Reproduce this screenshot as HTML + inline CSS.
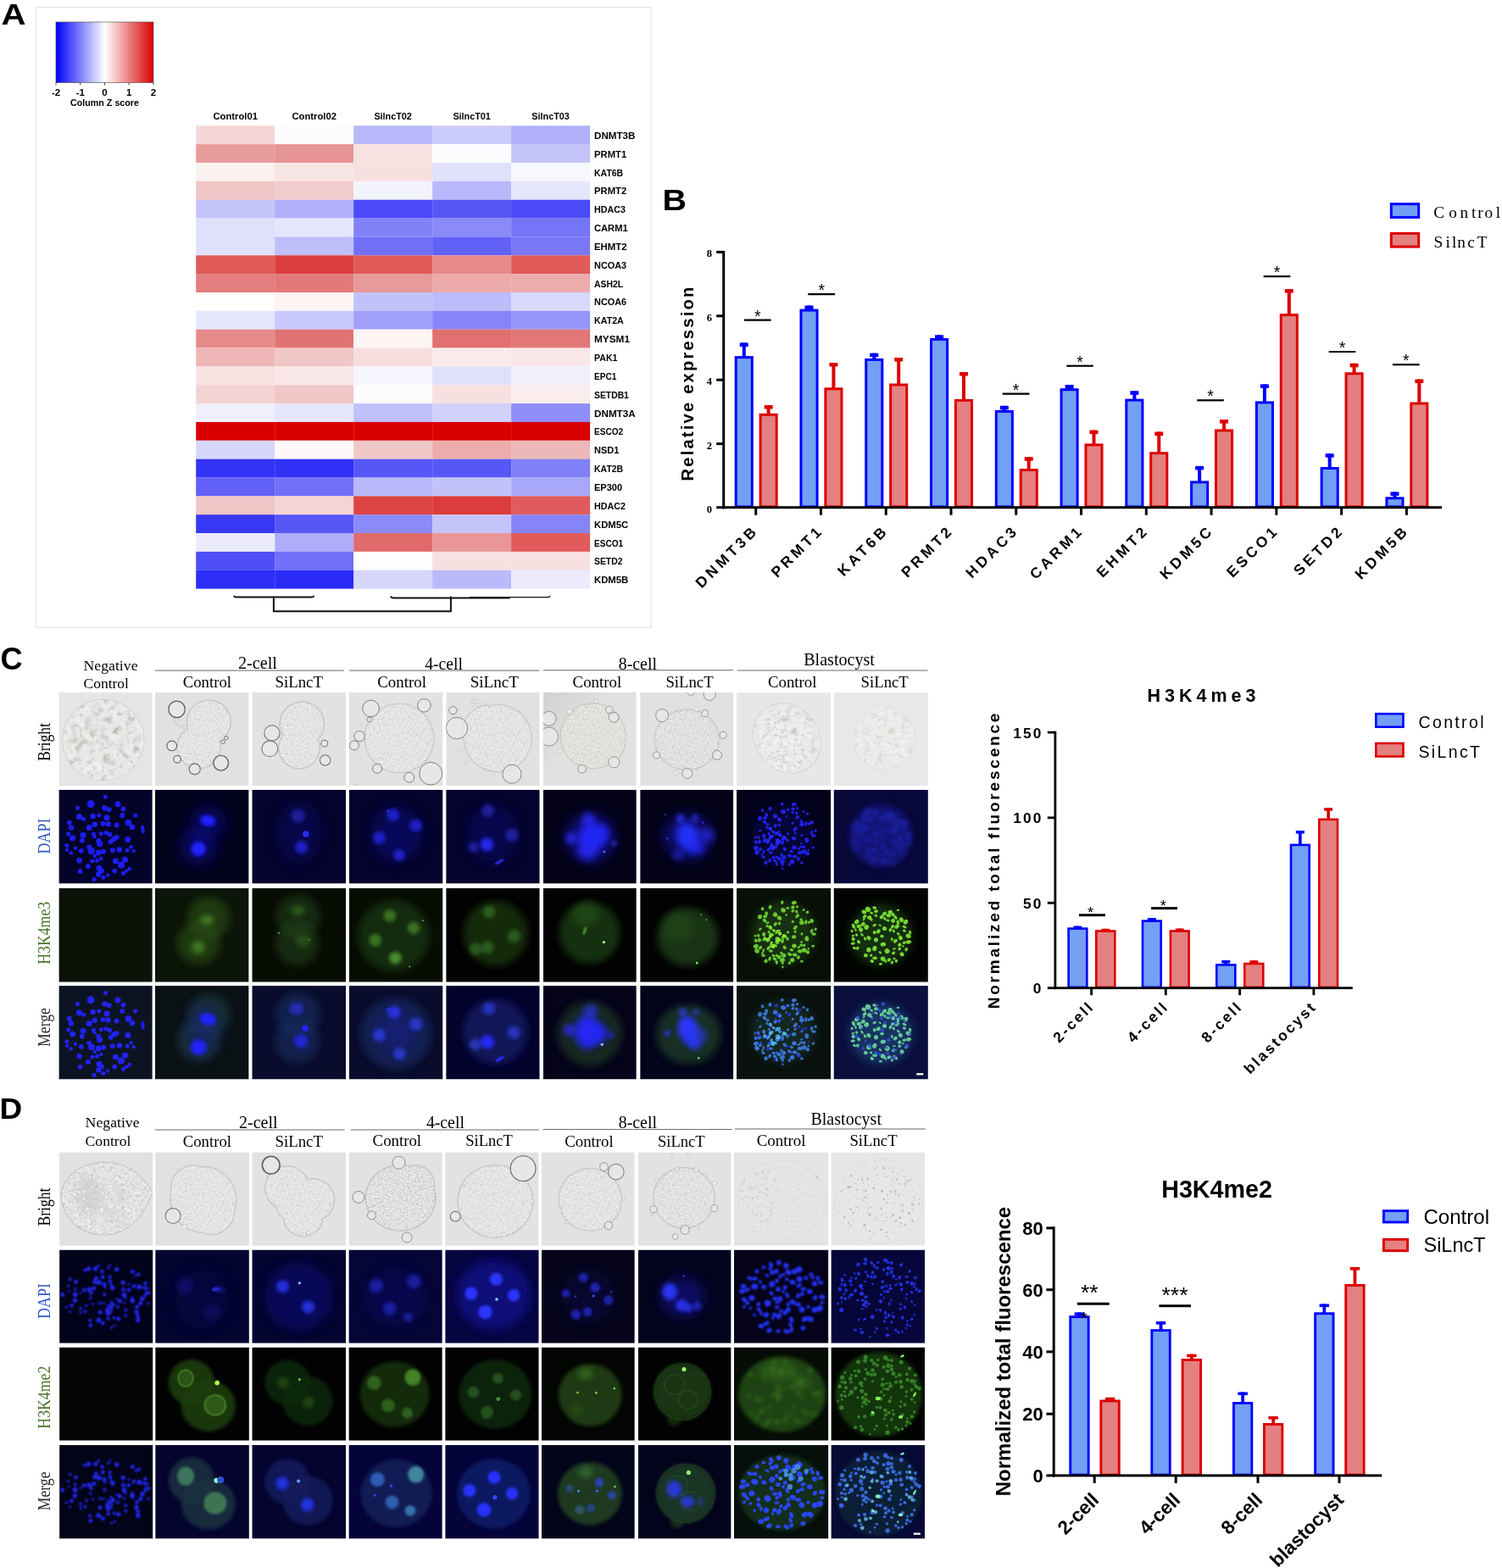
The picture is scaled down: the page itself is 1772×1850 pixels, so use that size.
<!DOCTYPE html>
<html lang="en"><head><meta charset="utf-8"><title>Figure</title>
<style>
html,body{margin:0;padding:0;background:#fff;}
body{width:1772px;height:1850px;overflow:hidden;}
svg{display:block;}
.sans{font-family:"Liberation Sans","DejaVu Sans",sans-serif;}
.serif{font-family:"Liberation Serif","DejaVu Serif",serif;}
.cal{font-family:"Liberation Sans","DejaVu Sans",sans-serif;font-weight:bold;}
</style></head><body>
<svg width="1772" height="1850" viewBox="0 0 1772 1850">
<defs>
<linearGradient id="cbar" x1="0" x2="1" y1="0" y2="0">
<stop offset="0" stop-color="#0000ff"/><stop offset="0.5" stop-color="#ffffff"/><stop offset="1" stop-color="#d90000"/>
</linearGradient>

<filter id="b1" x="-60%" y="-60%" width="220%" height="220%"><feGaussianBlur stdDeviation="0.6"/></filter>
<filter id="b1.2" x="-60%" y="-60%" width="220%" height="220%"><feGaussianBlur stdDeviation="1.2"/></filter>
<filter id="b1.5" x="-60%" y="-60%" width="220%" height="220%"><feGaussianBlur stdDeviation="1.5"/></filter>
<filter id="b2" x="-60%" y="-60%" width="220%" height="220%"><feGaussianBlur stdDeviation="2.0"/></filter>
<filter id="b2.5" x="-60%" y="-60%" width="220%" height="220%"><feGaussianBlur stdDeviation="2.5"/></filter>
<filter id="b3" x="-60%" y="-60%" width="220%" height="220%"><feGaussianBlur stdDeviation="3.0"/></filter>
<filter id="b4" x="-60%" y="-60%" width="220%" height="220%"><feGaussianBlur stdDeviation="4.0"/></filter>
<filter id="b5" x="-60%" y="-60%" width="220%" height="220%"><feGaussianBlur stdDeviation="5.0"/></filter>
<filter id="b6" x="-60%" y="-60%" width="220%" height="220%"><feGaussianBlur stdDeviation="6.0"/></filter>
<filter id="b7" x="-60%" y="-60%" width="220%" height="220%"><feGaussianBlur stdDeviation="7.0"/></filter>
<filter id="b8" x="-60%" y="-60%" width="220%" height="220%"><feGaussianBlur stdDeviation="8.0"/></filter>

<linearGradient id="bgc5" x1="0" y1="0" x2="0.45" y2="0.35"><stop offset="0" stop-color="#d0d0d0"/><stop offset="0.55" stop-color="#d9d9d9"/><stop offset="1" stop-color="#e1e1e1"/></linearGradient>
<filter id="tx1" x="0" y="0" width="100%" height="100%" color-interpolation-filters="sRGB"><feTurbulence type="fractalNoise" baseFrequency="0.42" numOctaves="2" seed="3" result="n"/><feColorMatrix in="n" type="matrix" values="0 0 0 0 0.7  0 0 0 0 0.7  0 0 0 0 0.7  1.7 0 0 0 -0.78" result="d"/><feColorMatrix in="n" type="matrix" values="0 0 0 0 0.96  0 0 0 0 0.96  0 0 0 0 0.96  0 2.2 0 0 -0.95" result="l"/><feMerge><feMergeNode in="d"/><feMergeNode in="l"/></feMerge><feComposite operator="in" in2="SourceGraphic"/></filter>
<filter id="tx2" x="0" y="0" width="100%" height="100%" color-interpolation-filters="sRGB"><feTurbulence type="fractalNoise" baseFrequency="0.14" numOctaves="4" seed="8" result="n"/><feColorMatrix in="n" type="matrix" values="0 0 0 0 0.64  0 0 0 0 0.65  0 0 0 0 0.62  3.0 0 0 0 -1.6" result="d"/><feColorMatrix in="n" type="matrix" values="0 0 0 0 0.97  0 0 0 0 0.97  0 0 0 0 0.97  0 2.4 0 0 -1.1" result="l"/><feMerge><feMergeNode in="d"/><feMergeNode in="l"/></feMerge><feComposite operator="in" in2="SourceGraphic"/></filter>


<filter id="tx3" x="0" y="0" width="100%" height="100%" color-interpolation-filters="sRGB"><feTurbulence type="fractalNoise" baseFrequency="0.3" numOctaves="3" seed="21" result="n"/><feColorMatrix in="n" type="matrix" values="0 0 0 0 0.68  0 0 0 0 0.68  0 0 0 0 0.68  1.8 0 0 0 -0.85" result="d"/><feColorMatrix in="n" type="matrix" values="0 0 0 0 0.97  0 0 0 0 0.97  0 0 0 0 0.97  0 2.0 0 0 -0.9" result="l"/><feMerge><feMergeNode in="d"/><feMergeNode in="l"/></feMerge><feComposite operator="in" in2="SourceGraphic"/></filter>
<filter id="tx4" x="0" y="0" width="100%" height="100%" color-interpolation-filters="sRGB"><feTurbulence type="fractalNoise" baseFrequency="0.5" numOctaves="2" seed="5" result="n"/><feColorMatrix in="n" type="matrix" values="0 0 0 0 0.62  0 0 0 0 0.62  0 0 0 0 0.62  2.2 0 0 0 -0.95" result="d"/><feColorMatrix in="n" type="matrix" values="0 0 0 0 0.97  0 0 0 0 0.97  0 0 0 0 0.97  0 2.4 0 0 -1.05" result="l"/><feMerge><feMergeNode in="d"/><feMergeNode in="l"/></feMerge><feComposite operator="in" in2="SourceGraphic"/></filter>

</defs>
<rect width="1772" height="1850" fill="#fff"/>
<text transform="translate(1.5,28.9) scale(1.13,1)" class="sans" font-weight="bold" font-size="35.6">A</text>
<text transform="translate(781.6,248.1) scale(1.12,1)" class="sans" font-weight="bold" font-size="35.2">B</text>
<g id="panelA">
<rect x="42.6" y="8.5" width="725.4" height="732" fill="#fff" stroke="#e2e2e2" stroke-width="1"/>
<rect x="66" y="26" width="115" height="71.5" fill="url(#cbar)"/>
<rect x="66" y="26" width="115" height="71.5" fill="none" stroke="#444" stroke-width="0.6"/>
<line x1="66.00" y1="97.5" x2="66.00" y2="100.5" stroke="#222" stroke-width="0.8"/>
<text x="66.00" y="112.6" class="cal" font-size="11.5" text-anchor="middle">-2</text>
<line x1="94.75" y1="97.5" x2="94.75" y2="100.5" stroke="#222" stroke-width="0.8"/>
<text x="94.75" y="112.6" class="cal" font-size="11.5" text-anchor="middle">-1</text>
<line x1="123.50" y1="97.5" x2="123.50" y2="100.5" stroke="#222" stroke-width="0.8"/>
<text x="123.50" y="112.6" class="cal" font-size="11.5" text-anchor="middle">0</text>
<line x1="152.25" y1="97.5" x2="152.25" y2="100.5" stroke="#222" stroke-width="0.8"/>
<text x="152.25" y="112.6" class="cal" font-size="11.5" text-anchor="middle">1</text>
<line x1="181.00" y1="97.5" x2="181.00" y2="100.5" stroke="#222" stroke-width="0.8"/>
<text x="181.00" y="112.6" class="cal" font-size="11.5" text-anchor="middle">2</text>
<text x="123.5" y="125.2" class="cal" font-size="11.5" text-anchor="middle" textLength="81" lengthAdjust="spacingAndGlyphs">Column Z score</text>
<rect x="231.20" y="148.30" width="93.03" height="21.90" fill="rgb(245, 214, 214)"/>
<rect x="324.18" y="148.30" width="93.03" height="21.90" fill="rgb(252, 252, 254)"/>
<rect x="417.16" y="148.30" width="93.03" height="21.90" fill="rgb(184, 184, 250)"/>
<rect x="510.14" y="148.30" width="93.03" height="21.90" fill="rgb(204, 204, 250)"/>
<rect x="603.12" y="148.30" width="93.03" height="21.90" fill="rgb(176, 176, 250)"/>
<text x="701.0" y="163.83" class="cal" font-size="11.7" textLength="48.4" lengthAdjust="spacingAndGlyphs">DNMT3B</text>
<rect x="231.20" y="170.15" width="93.03" height="21.90" fill="rgb(232, 155, 155)"/>
<rect x="324.18" y="170.15" width="93.03" height="21.90" fill="rgb(230, 148, 148)"/>
<rect x="417.16" y="170.15" width="93.03" height="21.90" fill="rgb(247, 225, 225)"/>
<rect x="510.14" y="170.15" width="93.03" height="21.90" fill="rgb(251, 251, 254)"/>
<rect x="603.12" y="170.15" width="93.03" height="21.90" fill="rgb(196, 196, 250)"/>
<text x="701.0" y="185.68" class="cal" font-size="11.7" textLength="38.2" lengthAdjust="spacingAndGlyphs">PRMT1</text>
<rect x="231.20" y="192.00" width="93.03" height="21.90" fill="rgb(252, 242, 240)"/>
<rect x="324.18" y="192.00" width="93.03" height="21.90" fill="rgb(248, 229, 229)"/>
<rect x="417.16" y="192.00" width="93.03" height="21.90" fill="rgb(247, 224, 224)"/>
<rect x="510.14" y="192.00" width="93.03" height="21.90" fill="rgb(225, 225, 252)"/>
<rect x="603.12" y="192.00" width="93.03" height="21.90" fill="rgb(247, 247, 254)"/>
<text x="701.0" y="207.53" class="cal" font-size="11.7" textLength="34.2" lengthAdjust="spacingAndGlyphs">KAT6B</text>
<rect x="231.20" y="213.86" width="93.03" height="21.90" fill="rgb(240, 197, 197)"/>
<rect x="324.18" y="213.86" width="93.03" height="21.90" fill="rgb(241, 204, 204)"/>
<rect x="417.16" y="213.86" width="93.03" height="21.90" fill="rgb(243, 243, 254)"/>
<rect x="510.14" y="213.86" width="93.03" height="21.90" fill="rgb(184, 184, 250)"/>
<rect x="603.12" y="213.86" width="93.03" height="21.90" fill="rgb(230, 230, 252)"/>
<text x="701.0" y="229.38" class="cal" font-size="11.7" textLength="38.2" lengthAdjust="spacingAndGlyphs">PRMT2</text>
<rect x="231.20" y="235.71" width="93.03" height="21.90" fill="rgb(196, 196, 250)"/>
<rect x="324.18" y="235.71" width="93.03" height="21.90" fill="rgb(176, 176, 250)"/>
<rect x="417.16" y="235.71" width="93.03" height="21.90" fill="rgb(74, 74, 247)"/>
<rect x="510.14" y="235.71" width="93.03" height="21.90" fill="rgb(87, 87, 248)"/>
<rect x="603.12" y="235.71" width="93.03" height="21.90" fill="rgb(74, 74, 247)"/>
<text x="701.0" y="251.23" class="cal" font-size="11.7" textLength="36.9" lengthAdjust="spacingAndGlyphs">HDAC3</text>
<rect x="231.20" y="257.56" width="93.03" height="21.90" fill="rgb(224, 224, 252)"/>
<rect x="324.18" y="257.56" width="93.03" height="21.90" fill="rgb(229, 229, 252)"/>
<rect x="417.16" y="257.56" width="93.03" height="21.90" fill="rgb(130, 130, 248)"/>
<rect x="510.14" y="257.56" width="93.03" height="21.90" fill="rgb(138, 138, 248)"/>
<rect x="603.12" y="257.56" width="93.03" height="21.90" fill="rgb(117, 117, 248)"/>
<text x="701.0" y="273.09" class="cal" font-size="11.7" textLength="39.6" lengthAdjust="spacingAndGlyphs">CARM1</text>
<rect x="231.20" y="279.41" width="93.03" height="21.90" fill="rgb(224, 224, 252)"/>
<rect x="324.18" y="279.41" width="93.03" height="21.90" fill="rgb(190, 190, 250)"/>
<rect x="417.16" y="279.41" width="93.03" height="21.90" fill="rgb(112, 112, 248)"/>
<rect x="510.14" y="279.41" width="93.03" height="21.90" fill="rgb(97, 97, 248)"/>
<rect x="603.12" y="279.41" width="93.03" height="21.90" fill="rgb(120, 120, 248)"/>
<text x="701.0" y="294.94" class="cal" font-size="11.7" textLength="38.6" lengthAdjust="spacingAndGlyphs">EHMT2</text>
<rect x="231.20" y="301.26" width="93.03" height="21.90" fill="rgb(224, 90, 90)"/>
<rect x="324.18" y="301.26" width="93.03" height="21.90" fill="rgb(220, 62, 62)"/>
<rect x="417.16" y="301.26" width="93.03" height="21.90" fill="rgb(224, 90, 90)"/>
<rect x="510.14" y="301.26" width="93.03" height="21.90" fill="rgb(230, 138, 138)"/>
<rect x="603.12" y="301.26" width="93.03" height="21.90" fill="rgb(224, 90, 90)"/>
<text x="701.0" y="316.79" class="cal" font-size="11.7" textLength="38.2" lengthAdjust="spacingAndGlyphs">NCOA3</text>
<rect x="231.20" y="323.12" width="93.03" height="21.90" fill="rgb(228, 125, 125)"/>
<rect x="324.18" y="323.12" width="93.03" height="21.90" fill="rgb(227, 120, 120)"/>
<rect x="417.16" y="323.12" width="93.03" height="21.90" fill="rgb(232, 153, 153)"/>
<rect x="510.14" y="323.12" width="93.03" height="21.90" fill="rgb(236, 170, 170)"/>
<rect x="603.12" y="323.12" width="93.03" height="21.90" fill="rgb(237, 172, 172)"/>
<text x="701.0" y="338.64" class="cal" font-size="11.7" textLength="34.2" lengthAdjust="spacingAndGlyphs">ASH2L</text>
<rect x="231.20" y="344.97" width="93.03" height="21.90" fill="rgb(254, 252, 252)"/>
<rect x="324.18" y="344.97" width="93.03" height="21.90" fill="rgb(253, 243, 243)"/>
<rect x="417.16" y="344.97" width="93.03" height="21.90" fill="rgb(194, 194, 250)"/>
<rect x="510.14" y="344.97" width="93.03" height="21.90" fill="rgb(188, 188, 250)"/>
<rect x="603.12" y="344.97" width="93.03" height="21.90" fill="rgb(216, 216, 252)"/>
<text x="701.0" y="360.49" class="cal" font-size="11.7" textLength="38.2" lengthAdjust="spacingAndGlyphs">NCOA6</text>
<rect x="231.20" y="366.82" width="93.03" height="21.90" fill="rgb(230, 230, 252)"/>
<rect x="324.18" y="366.82" width="93.03" height="21.90" fill="rgb(200, 200, 250)"/>
<rect x="417.16" y="366.82" width="93.03" height="21.90" fill="rgb(160, 160, 250)"/>
<rect x="510.14" y="366.82" width="93.03" height="21.90" fill="rgb(133, 133, 248)"/>
<rect x="603.12" y="366.82" width="93.03" height="21.90" fill="rgb(150, 150, 250)"/>
<text x="701.0" y="382.35" class="cal" font-size="11.7" textLength="34.8" lengthAdjust="spacingAndGlyphs">KAT2A</text>
<rect x="231.20" y="388.67" width="93.03" height="21.90" fill="rgb(230, 138, 138)"/>
<rect x="324.18" y="388.67" width="93.03" height="21.90" fill="rgb(226, 115, 115)"/>
<rect x="417.16" y="388.67" width="93.03" height="21.90" fill="rgb(253, 244, 244)"/>
<rect x="510.14" y="388.67" width="93.03" height="21.90" fill="rgb(226, 112, 112)"/>
<rect x="603.12" y="388.67" width="93.03" height="21.90" fill="rgb(227, 118, 118)"/>
<text x="701.0" y="404.20" class="cal" font-size="11.7" textLength="42.0" lengthAdjust="spacingAndGlyphs">MYSM1</text>
<rect x="231.20" y="410.52" width="93.03" height="21.90" fill="rgb(238, 182, 182)"/>
<rect x="324.18" y="410.52" width="93.03" height="21.90" fill="rgb(241, 198, 198)"/>
<rect x="417.16" y="410.52" width="93.03" height="21.90" fill="rgb(247, 222, 222)"/>
<rect x="510.14" y="410.52" width="93.03" height="21.90" fill="rgb(250, 234, 234)"/>
<rect x="603.12" y="410.52" width="93.03" height="21.90" fill="rgb(249, 230, 230)"/>
<text x="701.0" y="426.05" class="cal" font-size="11.7" textLength="27.4" lengthAdjust="spacingAndGlyphs">PAK1</text>
<rect x="231.20" y="432.38" width="93.03" height="21.90" fill="rgb(248, 226, 226)"/>
<rect x="324.18" y="432.38" width="93.03" height="21.90" fill="rgb(249, 231, 231)"/>
<rect x="417.16" y="432.38" width="93.03" height="21.90" fill="rgb(245, 245, 254)"/>
<rect x="510.14" y="432.38" width="93.03" height="21.90" fill="rgb(224, 224, 252)"/>
<rect x="603.12" y="432.38" width="93.03" height="21.90" fill="rgb(240, 240, 253)"/>
<text x="701.0" y="447.90" class="cal" font-size="11.7" textLength="26.4" lengthAdjust="spacingAndGlyphs">EPC1</text>
<rect x="231.20" y="454.23" width="93.03" height="21.90" fill="rgb(244, 211, 211)"/>
<rect x="324.18" y="454.23" width="93.03" height="21.90" fill="rgb(241, 198, 198)"/>
<rect x="417.16" y="454.23" width="93.03" height="21.90" fill="rgb(252, 252, 254)"/>
<rect x="510.14" y="454.23" width="93.03" height="21.90" fill="rgb(247, 224, 224)"/>
<rect x="603.12" y="454.23" width="93.03" height="21.90" fill="rgb(251, 237, 237)"/>
<text x="701.0" y="469.75" class="cal" font-size="11.7" textLength="40.9" lengthAdjust="spacingAndGlyphs">SETDB1</text>
<rect x="231.20" y="476.08" width="93.03" height="21.90" fill="rgb(240, 240, 253)"/>
<rect x="324.18" y="476.08" width="93.03" height="21.90" fill="rgb(229, 229, 252)"/>
<rect x="417.16" y="476.08" width="93.03" height="21.90" fill="rgb(192, 192, 250)"/>
<rect x="510.14" y="476.08" width="93.03" height="21.90" fill="rgb(209, 209, 251)"/>
<rect x="603.12" y="476.08" width="93.03" height="21.90" fill="rgb(143, 143, 249)"/>
<text x="701.0" y="491.61" class="cal" font-size="11.7" textLength="48.7" lengthAdjust="spacingAndGlyphs">DNMT3A</text>
<rect x="231.20" y="497.93" width="93.03" height="21.90" fill="rgb(217, 0, 0)"/>
<rect x="324.18" y="497.93" width="93.03" height="21.90" fill="rgb(217, 0, 0)"/>
<rect x="417.16" y="497.93" width="93.03" height="21.90" fill="rgb(217, 0, 0)"/>
<rect x="510.14" y="497.93" width="93.03" height="21.90" fill="rgb(217, 0, 0)"/>
<rect x="603.12" y="497.93" width="93.03" height="21.90" fill="rgb(217, 0, 0)"/>
<text x="701.0" y="513.46" class="cal" font-size="11.7" textLength="34.2" lengthAdjust="spacingAndGlyphs">ESCO2</text>
<rect x="231.20" y="519.78" width="93.03" height="21.90" fill="rgb(214, 214, 251)"/>
<rect x="324.18" y="519.78" width="93.03" height="21.90" fill="rgb(254, 248, 248)"/>
<rect x="417.16" y="519.78" width="93.03" height="21.90" fill="rgb(241, 200, 200)"/>
<rect x="510.14" y="519.78" width="93.03" height="21.90" fill="rgb(236, 172, 172)"/>
<rect x="603.12" y="519.78" width="93.03" height="21.90" fill="rgb(238, 184, 184)"/>
<text x="701.0" y="535.31" class="cal" font-size="11.7" textLength="29.4" lengthAdjust="spacingAndGlyphs">NSD1</text>
<rect x="231.20" y="541.64" width="93.03" height="21.90" fill="rgb(51, 51, 247)"/>
<rect x="324.18" y="541.64" width="93.03" height="21.90" fill="rgb(48, 48, 247)"/>
<rect x="417.16" y="541.64" width="93.03" height="21.90" fill="rgb(87, 87, 248)"/>
<rect x="510.14" y="541.64" width="93.03" height="21.90" fill="rgb(87, 87, 248)"/>
<rect x="603.12" y="541.64" width="93.03" height="21.90" fill="rgb(128, 128, 248)"/>
<text x="701.0" y="557.16" class="cal" font-size="11.7" textLength="34.2" lengthAdjust="spacingAndGlyphs">KAT2B</text>
<rect x="231.20" y="563.49" width="93.03" height="21.90" fill="rgb(97, 97, 248)"/>
<rect x="324.18" y="563.49" width="93.03" height="21.90" fill="rgb(112, 112, 248)"/>
<rect x="417.16" y="563.49" width="93.03" height="21.90" fill="rgb(184, 184, 250)"/>
<rect x="510.14" y="563.49" width="93.03" height="21.90" fill="rgb(194, 194, 250)"/>
<rect x="603.12" y="563.49" width="93.03" height="21.90" fill="rgb(168, 168, 250)"/>
<text x="701.0" y="579.01" class="cal" font-size="11.7" textLength="33.1" lengthAdjust="spacingAndGlyphs">EP300</text>
<rect x="231.20" y="585.34" width="93.03" height="21.90" fill="rgb(241, 198, 198)"/>
<rect x="324.18" y="585.34" width="93.03" height="21.90" fill="rgb(244, 212, 212)"/>
<rect x="417.16" y="585.34" width="93.03" height="21.90" fill="rgb(221, 69, 69)"/>
<rect x="510.14" y="585.34" width="93.03" height="21.90" fill="rgb(220, 60, 60)"/>
<rect x="603.12" y="585.34" width="93.03" height="21.90" fill="rgb(224, 92, 92)"/>
<text x="701.0" y="600.87" class="cal" font-size="11.7" textLength="36.9" lengthAdjust="spacingAndGlyphs">HDAC2</text>
<rect x="231.20" y="607.19" width="93.03" height="21.90" fill="rgb(56, 56, 247)"/>
<rect x="324.18" y="607.19" width="93.03" height="21.90" fill="rgb(87, 87, 248)"/>
<rect x="417.16" y="607.19" width="93.03" height="21.90" fill="rgb(138, 138, 249)"/>
<rect x="510.14" y="607.19" width="93.03" height="21.90" fill="rgb(196, 196, 250)"/>
<rect x="603.12" y="607.19" width="93.03" height="21.90" fill="rgb(133, 133, 249)"/>
<text x="701.0" y="622.72" class="cal" font-size="11.7" textLength="40.3" lengthAdjust="spacingAndGlyphs">KDM5C</text>
<rect x="231.20" y="629.04" width="93.03" height="21.90" fill="rgb(235, 235, 252)"/>
<rect x="324.18" y="629.04" width="93.03" height="21.90" fill="rgb(173, 173, 250)"/>
<rect x="417.16" y="629.04" width="93.03" height="21.90" fill="rgb(225, 107, 107)"/>
<rect x="510.14" y="629.04" width="93.03" height="21.90" fill="rgb(232, 150, 150)"/>
<rect x="603.12" y="629.04" width="93.03" height="21.90" fill="rgb(224, 90, 90)"/>
<text x="701.0" y="644.57" class="cal" font-size="11.7" textLength="34.2" lengthAdjust="spacingAndGlyphs">ESCO1</text>
<rect x="231.20" y="650.90" width="93.03" height="21.90" fill="rgb(79, 79, 247)"/>
<rect x="324.18" y="650.90" width="93.03" height="21.90" fill="rgb(112, 112, 248)"/>
<rect x="417.16" y="650.90" width="93.03" height="21.90" fill="rgb(253, 253, 254)"/>
<rect x="510.14" y="650.90" width="93.03" height="21.90" fill="rgb(247, 224, 224)"/>
<rect x="603.12" y="650.90" width="93.03" height="21.90" fill="rgb(247, 224, 224)"/>
<text x="701.0" y="666.42" class="cal" font-size="11.7" textLength="33.5" lengthAdjust="spacingAndGlyphs">SETD2</text>
<rect x="231.20" y="672.75" width="93.03" height="21.90" fill="rgb(46, 46, 247)"/>
<rect x="324.18" y="672.75" width="93.03" height="21.90" fill="rgb(43, 43, 247)"/>
<rect x="417.16" y="672.75" width="93.03" height="21.90" fill="rgb(214, 214, 251)"/>
<rect x="510.14" y="672.75" width="93.03" height="21.90" fill="rgb(186, 186, 250)"/>
<rect x="603.12" y="672.75" width="93.03" height="21.90" fill="rgb(235, 235, 252)"/>
<text x="701.0" y="688.27" class="cal" font-size="11.7" textLength="40.3" lengthAdjust="spacingAndGlyphs">KDM5B</text>
<text x="277.69" y="141.3" class="cal" font-size="11.5" text-anchor="middle" textLength="52.5" lengthAdjust="spacingAndGlyphs">Control01</text>
<text x="370.67" y="141.3" class="cal" font-size="11.5" text-anchor="middle" textLength="52.5" lengthAdjust="spacingAndGlyphs">Control02</text>
<text x="463.65" y="141.3" class="cal" font-size="11.5" text-anchor="middle" textLength="44.5" lengthAdjust="spacingAndGlyphs">SilncT02</text>
<text x="556.63" y="141.3" class="cal" font-size="11.5" text-anchor="middle" textLength="44.5" lengthAdjust="spacingAndGlyphs">SilncT01</text>
<text x="649.61" y="141.3" class="cal" font-size="11.5" text-anchor="middle" textLength="44.5" lengthAdjust="spacingAndGlyphs">SilncT03</text>
<g fill="none" stroke="#111" stroke-width="2.0" stroke-linecap="round" stroke-linejoin="round">
<path d="M276.2 703.6 Q277 704.6 279 704.6 L367 704.6 Q369.5 704.6 370 703.6"/>
<path d="M322.9 704.6 V721.2 H531.9 V704.6"/>
<path d="M461.4 704.2 Q462 705.4 464 705.4 L601 705.4"/>
<path d="M554.6 704.6 L646 704.6 Q648.2 704.6 648.7 703.4" stroke-width="1.4"/>
</g>
</g>
<g id="panelB">
<rect x="868.20" y="421.60" width="19.10" height="176.30" fill="#73a0f5" stroke="#0000ff" stroke-width="3.0"/>
<rect x="875.75" y="404.40" width="4" height="16.70" fill="#0000ff"/>
<rect x="872.75" y="404.40" width="10" height="4.5" fill="#0000ff"/>
<rect x="897.10" y="489.30" width="19.10" height="108.60" fill="#e58080" stroke="#dc0000" stroke-width="3.0"/>
<rect x="904.65" y="478.00" width="4" height="10.80" fill="#dc0000"/>
<rect x="901.65" y="478.00" width="10" height="4.5" fill="#dc0000"/>
<rect x="944.97" y="366.10" width="19.10" height="231.80" fill="#73a0f5" stroke="#0000ff" stroke-width="3.0"/>
<rect x="952.52" y="360.50" width="4" height="5.10" fill="#0000ff"/>
<rect x="949.52" y="360.50" width="10" height="4.5" fill="#0000ff"/>
<rect x="973.87" y="458.80" width="19.10" height="139.10" fill="#e58080" stroke="#dc0000" stroke-width="3.0"/>
<rect x="981.42" y="428.00" width="4" height="30.30" fill="#dc0000"/>
<rect x="978.42" y="428.00" width="10" height="4.5" fill="#dc0000"/>
<rect x="1021.74" y="424.40" width="19.10" height="173.50" fill="#73a0f5" stroke="#0000ff" stroke-width="3.0"/>
<rect x="1029.29" y="416.70" width="4" height="7.20" fill="#0000ff"/>
<rect x="1026.29" y="416.70" width="10" height="4.5" fill="#0000ff"/>
<rect x="1050.64" y="454.00" width="19.10" height="143.90" fill="#e58080" stroke="#dc0000" stroke-width="3.0"/>
<rect x="1058.19" y="422.00" width="4" height="31.50" fill="#dc0000"/>
<rect x="1055.19" y="422.00" width="10" height="4.5" fill="#dc0000"/>
<rect x="1098.51" y="400.40" width="19.10" height="197.50" fill="#73a0f5" stroke="#0000ff" stroke-width="3.0"/>
<rect x="1106.06" y="395.30" width="4" height="4.60" fill="#0000ff"/>
<rect x="1103.06" y="395.30" width="10" height="4.5" fill="#0000ff"/>
<rect x="1127.41" y="472.40" width="19.10" height="125.50" fill="#e58080" stroke="#dc0000" stroke-width="3.0"/>
<rect x="1134.96" y="439.00" width="4" height="32.90" fill="#dc0000"/>
<rect x="1131.96" y="439.00" width="10" height="4.5" fill="#dc0000"/>
<rect x="1175.28" y="485.40" width="19.10" height="112.50" fill="#73a0f5" stroke="#0000ff" stroke-width="3.0"/>
<rect x="1182.83" y="478.80" width="4" height="6.10" fill="#0000ff"/>
<rect x="1179.83" y="478.80" width="10" height="4.5" fill="#0000ff"/>
<rect x="1204.18" y="554.50" width="19.10" height="43.40" fill="#e58080" stroke="#dc0000" stroke-width="3.0"/>
<rect x="1211.73" y="539.20" width="4" height="14.80" fill="#dc0000"/>
<rect x="1208.73" y="539.20" width="10" height="4.5" fill="#dc0000"/>
<rect x="1252.05" y="459.70" width="19.10" height="138.20" fill="#73a0f5" stroke="#0000ff" stroke-width="3.0"/>
<rect x="1259.60" y="454.00" width="4" height="5.20" fill="#0000ff"/>
<rect x="1256.60" y="454.00" width="10" height="4.5" fill="#0000ff"/>
<rect x="1280.95" y="524.90" width="19.10" height="73.00" fill="#e58080" stroke="#dc0000" stroke-width="3.0"/>
<rect x="1288.50" y="507.60" width="4" height="16.80" fill="#dc0000"/>
<rect x="1285.50" y="507.60" width="10" height="4.5" fill="#dc0000"/>
<rect x="1328.82" y="472.10" width="19.10" height="125.80" fill="#73a0f5" stroke="#0000ff" stroke-width="3.0"/>
<rect x="1336.37" y="461.30" width="4" height="10.30" fill="#0000ff"/>
<rect x="1333.37" y="461.30" width="10" height="4.5" fill="#0000ff"/>
<rect x="1357.72" y="534.70" width="19.10" height="63.20" fill="#e58080" stroke="#dc0000" stroke-width="3.0"/>
<rect x="1365.27" y="509.50" width="4" height="24.70" fill="#dc0000"/>
<rect x="1362.27" y="509.50" width="10" height="4.5" fill="#dc0000"/>
<rect x="1405.59" y="568.90" width="19.10" height="29.00" fill="#73a0f5" stroke="#0000ff" stroke-width="3.0"/>
<rect x="1413.14" y="549.90" width="4" height="18.50" fill="#0000ff"/>
<rect x="1410.14" y="549.90" width="10" height="4.5" fill="#0000ff"/>
<rect x="1434.49" y="507.90" width="19.10" height="90.00" fill="#e58080" stroke="#dc0000" stroke-width="3.0"/>
<rect x="1442.04" y="495.10" width="4" height="12.30" fill="#dc0000"/>
<rect x="1439.04" y="495.10" width="10" height="4.5" fill="#dc0000"/>
<rect x="1482.36" y="474.90" width="19.10" height="123.00" fill="#73a0f5" stroke="#0000ff" stroke-width="3.0"/>
<rect x="1489.91" y="453.40" width="4" height="21.00" fill="#0000ff"/>
<rect x="1486.91" y="453.40" width="10" height="4.5" fill="#0000ff"/>
<rect x="1511.26" y="371.60" width="19.10" height="226.30" fill="#e58080" stroke="#dc0000" stroke-width="3.0"/>
<rect x="1518.81" y="341.10" width="4" height="30.00" fill="#dc0000"/>
<rect x="1515.81" y="341.10" width="10" height="4.5" fill="#dc0000"/>
<rect x="1559.13" y="552.50" width="19.10" height="45.40" fill="#73a0f5" stroke="#0000ff" stroke-width="3.0"/>
<rect x="1566.68" y="535.20" width="4" height="16.80" fill="#0000ff"/>
<rect x="1563.68" y="535.20" width="10" height="4.5" fill="#0000ff"/>
<rect x="1588.03" y="440.80" width="19.10" height="157.10" fill="#e58080" stroke="#dc0000" stroke-width="3.0"/>
<rect x="1595.58" y="428.80" width="4" height="11.50" fill="#dc0000"/>
<rect x="1592.58" y="428.80" width="10" height="4.5" fill="#dc0000"/>
<rect x="1635.90" y="587.80" width="19.10" height="10.10" fill="#73a0f5" stroke="#0000ff" stroke-width="3.0"/>
<rect x="1643.45" y="580.40" width="4" height="6.90" fill="#0000ff"/>
<rect x="1640.45" y="580.40" width="10" height="4.5" fill="#0000ff"/>
<rect x="1664.80" y="476.00" width="19.10" height="121.90" fill="#e58080" stroke="#dc0000" stroke-width="3.0"/>
<rect x="1672.35" y="447.50" width="4" height="28.00" fill="#dc0000"/>
<rect x="1669.35" y="447.50" width="10" height="4.5" fill="#dc0000"/>
<rect x="852.2" y="296.0" width="3" height="304.20" fill="#000"/>
<rect x="852.2" y="597.2" width="848.80" height="3" fill="#000"/>
<rect x="845.2" y="295.90" width="9" height="3" fill="#000"/>
<text x="839.9" y="303.30" class="serif" font-weight="bold" font-size="12.5" text-anchor="end">8</text>
<rect x="845.2" y="371.30" width="9" height="3" fill="#000"/>
<text x="839.9" y="378.70" class="serif" font-weight="bold" font-size="12.5" text-anchor="end">6</text>
<rect x="845.2" y="446.70" width="9" height="3" fill="#000"/>
<text x="839.9" y="454.10" class="serif" font-weight="bold" font-size="12.5" text-anchor="end">4</text>
<rect x="845.2" y="522.10" width="9" height="3" fill="#000"/>
<text x="839.9" y="529.50" class="serif" font-weight="bold" font-size="12.5" text-anchor="end">2</text>
<rect x="845.2" y="597.20" width="9" height="3" fill="#000"/>
<text x="839.9" y="604.60" class="serif" font-weight="bold" font-size="12.5" text-anchor="end">0</text>
<rect x="890.20" y="598.70" width="3" height="9" fill="#000"/>
<rect x="966.97" y="598.70" width="3" height="9" fill="#000"/>
<rect x="1043.74" y="598.70" width="3" height="9" fill="#000"/>
<rect x="1120.51" y="598.70" width="3" height="9" fill="#000"/>
<rect x="1197.28" y="598.70" width="3" height="9" fill="#000"/>
<rect x="1274.05" y="598.70" width="3" height="9" fill="#000"/>
<rect x="1350.82" y="598.70" width="3" height="9" fill="#000"/>
<rect x="1427.59" y="598.70" width="3" height="9" fill="#000"/>
<rect x="1504.36" y="598.70" width="3" height="9" fill="#000"/>
<rect x="1581.13" y="598.70" width="3" height="9" fill="#000"/>
<rect x="1657.90" y="598.70" width="3" height="9" fill="#000"/>
<text transform="translate(895.90,626.60) rotate(-45)" class="sans" font-weight="bold" font-size="17.5" letter-spacing="3.9" text-anchor="end">DNMT3B</text>
<text transform="translate(972.67,626.60) rotate(-45)" class="sans" font-weight="bold" font-size="17.5" letter-spacing="3.9" text-anchor="end">PRMT1</text>
<text transform="translate(1049.44,626.60) rotate(-45)" class="sans" font-weight="bold" font-size="17.5" letter-spacing="3.9" text-anchor="end">KAT6B</text>
<text transform="translate(1126.21,626.60) rotate(-45)" class="sans" font-weight="bold" font-size="17.5" letter-spacing="3.9" text-anchor="end">PRMT2</text>
<text transform="translate(1202.98,626.60) rotate(-45)" class="sans" font-weight="bold" font-size="17.5" letter-spacing="3.9" text-anchor="end">HDAC3</text>
<text transform="translate(1279.75,626.60) rotate(-45)" class="sans" font-weight="bold" font-size="17.5" letter-spacing="3.9" text-anchor="end">CARM1</text>
<text transform="translate(1356.52,626.60) rotate(-45)" class="sans" font-weight="bold" font-size="17.5" letter-spacing="3.9" text-anchor="end">EHMT2</text>
<text transform="translate(1433.29,626.60) rotate(-45)" class="sans" font-weight="bold" font-size="17.5" letter-spacing="3.9" text-anchor="end">KDM5C</text>
<text transform="translate(1510.06,626.60) rotate(-45)" class="sans" font-weight="bold" font-size="17.5" letter-spacing="3.9" text-anchor="end">ESCO1</text>
<text transform="translate(1586.83,626.60) rotate(-45)" class="sans" font-weight="bold" font-size="17.5" letter-spacing="3.9" text-anchor="end">SETD2</text>
<text transform="translate(1663.60,626.60) rotate(-45)" class="sans" font-weight="bold" font-size="17.5" letter-spacing="3.9" text-anchor="end">KDM5B</text>
<line x1="877.90" y1="377.60" x2="909.60" y2="377.60" stroke="#000" stroke-width="2.2" stroke-linecap="butt"/>
<text x="893.75" y="379.60" class="sans" font-size="19.5" text-anchor="middle" dominant-baseline="auto">*</text>
<line x1="953.30" y1="347.10" x2="985.10" y2="347.10" stroke="#000" stroke-width="2.2" stroke-linecap="butt"/>
<text x="969.20" y="349.10" class="sans" font-size="19.5" text-anchor="middle" dominant-baseline="auto">*</text>
<line x1="1182.70" y1="464.70" x2="1214.50" y2="464.70" stroke="#000" stroke-width="2.2" stroke-linecap="butt"/>
<text x="1198.60" y="466.70" class="sans" font-size="19.5" text-anchor="middle" dominant-baseline="auto">*</text>
<line x1="1258.30" y1="431.70" x2="1289.80" y2="431.70" stroke="#000" stroke-width="2.2" stroke-linecap="butt"/>
<text x="1274.05" y="433.70" class="sans" font-size="19.5" text-anchor="middle" dominant-baseline="auto">*</text>
<line x1="1412.20" y1="472.30" x2="1443.80" y2="472.30" stroke="#000" stroke-width="2.2" stroke-linecap="butt"/>
<text x="1428.00" y="474.30" class="sans" font-size="19.5" text-anchor="middle" dominant-baseline="auto">*</text>
<line x1="1490.70" y1="326.10" x2="1522.30" y2="326.10" stroke="#000" stroke-width="2.2" stroke-linecap="butt"/>
<text x="1506.50" y="328.10" class="sans" font-size="19.5" text-anchor="middle" dominant-baseline="auto">*</text>
<line x1="1567.70" y1="415.00" x2="1599.30" y2="415.00" stroke="#000" stroke-width="2.2" stroke-linecap="butt"/>
<text x="1583.50" y="417.00" class="sans" font-size="19.5" text-anchor="middle" dominant-baseline="auto">*</text>
<line x1="1643.00" y1="430.20" x2="1674.60" y2="430.20" stroke="#000" stroke-width="2.2" stroke-linecap="butt"/>
<text x="1658.80" y="432.20" class="sans" font-size="19.5" text-anchor="middle" dominant-baseline="auto">*</text>
<text transform="translate(817.60,452.00) rotate(-90)" class="sans" font-weight="bold" font-size="20.2" letter-spacing="2.17" text-anchor="middle">Relative expression</text>
<rect x="1641.3" y="240.7" width="32.4" height="15.7" fill="#73a0f5" stroke="#0000ff" stroke-width="3"/>
<rect x="1641.3" y="275.4" width="32.4" height="15.7" fill="#e58080" stroke="#dc0000" stroke-width="3"/>
<text x="1691.3 1709.2 1722.6 1736.0 1743.3 1751.6 1764.8" y="257.2" class="serif" font-size="19.3">Control</text>
<text x="1691.5 1705.5 1713.0 1719.2 1731.2 1742.7" y="291.9" class="serif" font-size="19.3">SilncT</text>
</g>
<g id="gridC">
<text transform="translate(0.6,790.0) scale(0.99,1)" class="sans" font-weight="bold" font-size="36.6">C</text>
<text x="98.5" y="790.6" class="serif" font-size="17.7" textLength="64.0" lengthAdjust="spacingAndGlyphs">Negative</text>
<text x="98.5" y="812.2" class="serif" font-size="17.7" textLength="53.5" lengthAdjust="spacingAndGlyphs">Control</text>
<text x="281.0" y="789.3" class="serif" font-size="20.2" textLength="46.0" lengthAdjust="spacingAndGlyphs">2-cell</text>
<text x="215.7" y="810.6" class="serif" font-size="18.8" textLength="57.3" lengthAdjust="spacingAndGlyphs">Control</text>
<text x="324.4" y="810.6" class="serif" font-size="18.8" textLength="56.6" lengthAdjust="spacingAndGlyphs">SiLncT</text>
<text x="501.2" y="789.5" class="serif" font-size="20.2" textLength="44.7" lengthAdjust="spacingAndGlyphs">4-cell</text>
<text x="445.3" y="810.6" class="serif" font-size="18.8" textLength="57.6" lengthAdjust="spacingAndGlyphs">Control</text>
<text x="554.7" y="810.6" class="serif" font-size="18.8" textLength="57.3" lengthAdjust="spacingAndGlyphs">SiLncT</text>
<text x="729.8" y="789.7" class="serif" font-size="20.2" textLength="45.1" lengthAdjust="spacingAndGlyphs">8-cell</text>
<text x="675.6" y="810.6" class="serif" font-size="18.8" textLength="57.6" lengthAdjust="spacingAndGlyphs">Control</text>
<text x="785.4" y="810.6" class="serif" font-size="18.8" textLength="56.2" lengthAdjust="spacingAndGlyphs">SiLncT</text>
<text x="948.2" y="784.9" class="serif" font-size="20.1" textLength="83.7" lengthAdjust="spacingAndGlyphs">Blastocyst</text>
<text x="905.9" y="810.6" class="serif" font-size="18.8" textLength="57.6" lengthAdjust="spacingAndGlyphs">Control</text>
<text x="1015.6" y="810.6" class="serif" font-size="18.8" textLength="56.2" lengthAdjust="spacingAndGlyphs">SiLncT</text>
<line x1="182.9" y1="791.1" x2="405.7" y2="791.1" stroke="#666" stroke-width="1.0"/>
<line x1="411.8" y1="791.1" x2="636.4" y2="791.1" stroke="#666" stroke-width="1.0"/>
<line x1="640.8" y1="790.8" x2="865.0" y2="790.8" stroke="#666" stroke-width="1.0"/>
<line x1="869.7" y1="791.0" x2="1094.5" y2="791.0" stroke="#666" stroke-width="1.0"/>
<text transform="translate(59.2,875.6) rotate(-90)" class="serif" font-size="21" fill="#000" text-anchor="middle" textLength="45.0" lengthAdjust="spacingAndGlyphs">Bright</text>
<text transform="translate(59.2,986.5) rotate(-90)" class="serif" font-size="21" fill="#2f55c8" text-anchor="middle" textLength="41.9" lengthAdjust="spacingAndGlyphs">DAPI</text>
<text transform="translate(59.2,1100.8) rotate(-90)" class="serif" font-size="21" fill="#4b742c" text-anchor="middle" textLength="74.0" lengthAdjust="spacingAndGlyphs">H3K4me3</text>
<text transform="translate(59.2,1212.0) rotate(-90)" class="serif" font-size="21" fill="#2c2c2c" text-anchor="middle" textLength="45.9" lengthAdjust="spacingAndGlyphs">Merge</text>
<svg x="69.40" y="817.00" width="110.40" height="110.10" viewBox="0 0 110 110" preserveAspectRatio="none" overflow="hidden">
<rect width="110" height="110" fill="#e5e5e5"/>
<g fill="#b5b5b5" opacity="0.55" filter="url(#b1)"><ellipse cx="52.4" cy="56" rx="48.2" ry="48.2"/></g>
<g fill="#e8e8e7" opacity="1.0"><ellipse cx="52.4" cy="56" rx="47.5" ry="47.5"/></g>
<g filter="url(#tx2)" opacity="0.75"><ellipse cx="52.4" cy="56" rx="47.5" ry="47.5"/></g>
<g fill="#a3a79b" filter="url(#b1.5)" opacity="0.5"><ellipse cx="22.0" cy="65.3" rx="3.0" ry="2.8" transform="rotate(75 22.0 65.3)"/><ellipse cx="64.0" cy="83.6" rx="2.5" ry="2.1" transform="rotate(115 64.0 83.6)"/><ellipse cx="55.4" cy="43.6" rx="1.8" ry="0.9" transform="rotate(27 55.4 43.6)"/><ellipse cx="83.8" cy="76.4" rx="2.6" ry="1.3" transform="rotate(172 83.8 76.4)"/><ellipse cx="92.2" cy="66.8" rx="3.1" ry="2.5" transform="rotate(55 92.2 66.8)"/><ellipse cx="33.3" cy="28.9" rx="1.5" ry="1.2" transform="rotate(105 33.3 28.9)"/><ellipse cx="82.4" cy="58.9" rx="1.3" ry="1.1" transform="rotate(60 82.4 58.9)"/><ellipse cx="59.6" cy="75.2" rx="1.3" ry="0.8" transform="rotate(18 59.6 75.2)"/><ellipse cx="24.8" cy="62.3" rx="2.9" ry="2.0" transform="rotate(70 24.8 62.3)"/><ellipse cx="18.6" cy="52.0" rx="2.2" ry="1.4" transform="rotate(114 18.6 52.0)"/><ellipse cx="37.2" cy="31.8" rx="1.8" ry="1.6" transform="rotate(23 37.2 31.8)"/><ellipse cx="93.9" cy="55.4" rx="2.9" ry="1.2" transform="rotate(88 93.9 55.4)"/><ellipse cx="45.8" cy="33.2" rx="1.7" ry="1.0" transform="rotate(34 45.8 33.2)"/><ellipse cx="49.3" cy="66.8" rx="2.7" ry="1.1" transform="rotate(115 49.3 66.8)"/><ellipse cx="20.7" cy="78.6" rx="2.0" ry="1.7" transform="rotate(30 20.7 78.6)"/><ellipse cx="89.3" cy="45.9" rx="1.2" ry="0.8" transform="rotate(16 89.3 45.9)"/><ellipse cx="62.0" cy="94.8" rx="2.1" ry="1.0" transform="rotate(137 62.0 94.8)"/><ellipse cx="78.3" cy="52.7" rx="1.3" ry="0.7" transform="rotate(20 78.3 52.7)"/><ellipse cx="26.5" cy="29.1" rx="1.7" ry="1.5" transform="rotate(133 26.5 29.1)"/><ellipse cx="72.7" cy="68.6" rx="3.1" ry="2.0" transform="rotate(10 72.7 68.6)"/><ellipse cx="52.7" cy="41.6" rx="1.7" ry="1.5" transform="rotate(79 52.7 41.6)"/><ellipse cx="60.3" cy="62.1" rx="2.8" ry="1.4" transform="rotate(159 60.3 62.1)"/><ellipse cx="65.1" cy="89.5" rx="1.5" ry="1.4" transform="rotate(31 65.1 89.5)"/><ellipse cx="43.1" cy="44.7" rx="2.0" ry="1.0" transform="rotate(39 43.1 44.7)"/><ellipse cx="57.0" cy="77.2" rx="3.1" ry="3.1" transform="rotate(139 57.0 77.2)"/><ellipse cx="59.6" cy="34.1" rx="3.0" ry="2.4" transform="rotate(75 59.6 34.1)"/><ellipse cx="58.4" cy="81.6" rx="2.9" ry="1.8" transform="rotate(38 58.4 81.6)"/><ellipse cx="41.1" cy="76.1" rx="1.3" ry="0.9" transform="rotate(110 41.1 76.1)"/><ellipse cx="79.1" cy="73.2" rx="1.7" ry="1.5" transform="rotate(139 79.1 73.2)"/><ellipse cx="31.4" cy="40.8" rx="2.1" ry="1.6" transform="rotate(131 31.4 40.8)"/><ellipse cx="80.3" cy="48.6" rx="2.3" ry="1.1" transform="rotate(25 80.3 48.6)"/><ellipse cx="64.0" cy="42.6" rx="1.5" ry="1.3" transform="rotate(91 64.0 42.6)"/><ellipse cx="83.9" cy="35.3" rx="1.7" ry="1.5" transform="rotate(46 83.9 35.3)"/><ellipse cx="33.3" cy="43.0" rx="1.6" ry="1.2" transform="rotate(20 33.3 43.0)"/><ellipse cx="50.0" cy="45.2" rx="1.7" ry="1.6" transform="rotate(14 50.0 45.2)"/><ellipse cx="15.9" cy="41.9" rx="2.4" ry="1.0" transform="rotate(55 15.9 41.9)"/><ellipse cx="44.4" cy="95.5" rx="1.6" ry="0.9" transform="rotate(31 44.4 95.5)"/><ellipse cx="73.7" cy="58.3" rx="2.1" ry="1.2" transform="rotate(168 73.7 58.3)"/><ellipse cx="68.4" cy="62.5" rx="1.9" ry="0.8" transform="rotate(146 68.4 62.5)"/><ellipse cx="38.3" cy="49.3" rx="1.9" ry="1.7" transform="rotate(32 38.3 49.3)"/><ellipse cx="84.2" cy="29.7" rx="2.5" ry="1.1" transform="rotate(119 84.2 29.7)"/><ellipse cx="40.4" cy="26.1" rx="1.5" ry="0.9" transform="rotate(18 40.4 26.1)"/><ellipse cx="57.5" cy="57.2" rx="3.0" ry="1.5" transform="rotate(81 57.5 57.2)"/><ellipse cx="39.5" cy="16.7" rx="1.2" ry="0.9" transform="rotate(36 39.5 16.7)"/><ellipse cx="32.9" cy="34.0" rx="2.7" ry="1.9" transform="rotate(66 32.9 34.0)"/><ellipse cx="34.4" cy="94.1" rx="1.4" ry="1.1" transform="rotate(88 34.4 94.1)"/><ellipse cx="17.4" cy="45.7" rx="3.0" ry="1.3" transform="rotate(95 17.4 45.7)"/><ellipse cx="49.1" cy="20.9" rx="2.8" ry="2.6" transform="rotate(12 49.1 20.9)"/><ellipse cx="73.4" cy="43.3" rx="2.6" ry="1.2" transform="rotate(9 73.4 43.3)"/><ellipse cx="61.8" cy="18.2" rx="2.3" ry="0.9" transform="rotate(60 61.8 18.2)"/><ellipse cx="33.6" cy="37.6" rx="2.4" ry="1.4" transform="rotate(63 33.6 37.6)"/><ellipse cx="42.8" cy="48.5" rx="2.5" ry="1.7" transform="rotate(20 42.8 48.5)"/><ellipse cx="24.5" cy="79.2" rx="2.4" ry="2.1" transform="rotate(155 24.5 79.2)"/><ellipse cx="16.2" cy="70.0" rx="1.4" ry="1.3" transform="rotate(154 16.2 70.0)"/><ellipse cx="52.0" cy="48.8" rx="2.4" ry="1.5" transform="rotate(66 52.0 48.8)"/><ellipse cx="32.0" cy="58.4" rx="2.6" ry="2.2" transform="rotate(7 32.0 58.4)"/><ellipse cx="19.1" cy="56.6" rx="3.0" ry="2.6" transform="rotate(144 19.1 56.6)"/><ellipse cx="51.8" cy="60.5" rx="1.8" ry="1.7" transform="rotate(55 51.8 60.5)"/><ellipse cx="43.8" cy="39.0" rx="1.5" ry="1.1" transform="rotate(33 43.8 39.0)"/><ellipse cx="80.3" cy="36.9" rx="2.1" ry="0.9" transform="rotate(137 80.3 36.9)"/><ellipse cx="70.7" cy="40.9" rx="2.5" ry="2.1" transform="rotate(6 70.7 40.9)"/><ellipse cx="31.5" cy="44.2" rx="1.5" ry="1.1" transform="rotate(97 31.5 44.2)"/><ellipse cx="13.6" cy="56.9" rx="2.9" ry="2.0" transform="rotate(104 13.6 56.9)"/><ellipse cx="42.1" cy="16.3" rx="1.8" ry="1.1" transform="rotate(76 42.1 16.3)"/><ellipse cx="65.7" cy="80.6" rx="1.8" ry="1.0" transform="rotate(152 65.7 80.6)"/><ellipse cx="28.4" cy="56.9" rx="2.9" ry="2.1" transform="rotate(139 28.4 56.9)"/><ellipse cx="90.5" cy="63.7" rx="1.3" ry="1.1" transform="rotate(119 90.5 63.7)"/><ellipse cx="43.8" cy="25.3" rx="1.8" ry="1.8" transform="rotate(175 43.8 25.3)"/><ellipse cx="45.7" cy="57.8" rx="2.9" ry="1.4" transform="rotate(79 45.7 57.8)"/><ellipse cx="53.2" cy="71.7" rx="1.3" ry="1.0" transform="rotate(74 53.2 71.7)"/></g>
<g fill="#f4f4f2" filter="url(#b1)" opacity="0.7"><circle cx="20.0" cy="61.2" r="1.2"/><circle cx="54.6" cy="59.3" r="1.0"/><circle cx="46.6" cy="91.6" r="1.2"/><circle cx="28.0" cy="38.2" r="1.2"/><circle cx="68.2" cy="77.0" r="0.9"/><circle cx="60.1" cy="50.6" r="1.3"/><circle cx="81.6" cy="71.0" r="1.0"/><circle cx="21.7" cy="76.7" r="0.8"/><circle cx="87.5" cy="70.3" r="1.1"/><circle cx="85.4" cy="77.5" r="1.4"/><circle cx="71.8" cy="72.9" r="0.9"/><circle cx="39.9" cy="85.1" r="0.9"/><circle cx="49.0" cy="47.4" r="0.9"/><circle cx="62.2" cy="32.8" r="1.1"/><circle cx="29.3" cy="40.3" r="1.0"/><circle cx="85.5" cy="62.5" r="1.4"/><circle cx="84.2" cy="51.2" r="1.0"/><circle cx="30.3" cy="81.2" r="1.2"/><circle cx="66.6" cy="68.7" r="1.0"/><circle cx="16.1" cy="53.4" r="1.1"/><circle cx="87.7" cy="62.4" r="1.1"/><circle cx="33.3" cy="53.8" r="1.1"/><circle cx="25.2" cy="78.7" r="0.9"/><circle cx="35.9" cy="50.8" r="1.2"/><circle cx="72.5" cy="60.8" r="1.0"/><circle cx="46.0" cy="49.1" r="1.1"/><circle cx="57.4" cy="76.5" r="1.1"/><circle cx="78.8" cy="48.9" r="1.4"/><circle cx="71.0" cy="89.4" r="1.0"/><circle cx="64.9" cy="88.1" r="1.3"/></g>
</svg>
<svg x="182.90" y="817.00" width="110.70" height="110.10" viewBox="0 0 110 110" preserveAspectRatio="none" overflow="hidden">
<rect width="110" height="110" fill="#e1e1e1"/>
<g fill="#9a9a9a" opacity="0.55" filter="url(#b1)"><ellipse cx="63" cy="34.7" rx="25.7" ry="25.7"/><ellipse cx="51.4" cy="64.4" rx="25.3" ry="25.3"/></g>
<g fill="none" stroke="#9a9a9a" stroke-opacity="0.75" stroke-width="2.6" stroke-linecap="round" stroke-dasharray="0.1 3.3"><ellipse cx="63" cy="34.7" rx="25.2" ry="25.2"/><ellipse cx="51.4" cy="64.4" rx="24.8" ry="24.8"/></g>
<g fill="none" stroke="#ededed" stroke-width="1.5" stroke-linecap="round" stroke-dasharray="0.1 3.3"><ellipse cx="63" cy="34.7" rx="25.2" ry="25.2"/><ellipse cx="51.4" cy="64.4" rx="24.8" ry="24.8"/></g>
<g fill="#e4e4e4" opacity="1.0"><ellipse cx="63" cy="34.7" rx="25" ry="25"/><ellipse cx="51.4" cy="64.4" rx="24.6" ry="24.6"/></g>
<g filter="url(#tx1)" opacity="0.75"><ellipse cx="63" cy="34.7" rx="25" ry="25"/><ellipse cx="51.4" cy="64.4" rx="24.6" ry="24.6"/></g>
<circle cx="25.5" cy="19.8" r="9.7" fill="#e8e8e8" fill-opacity="0.85" stroke="#5a4a50" stroke-opacity="0.9" stroke-width="1.3"/>
<circle cx="19.7" cy="62.9" r="5.8" fill="#e8e8e8" fill-opacity="0.85" stroke="#5a4a50" stroke-opacity="0.85" stroke-width="1.1"/>
<circle cx="26.1" cy="78.7" r="4.3" fill="#e8e8e8" fill-opacity="0.85" stroke="#5a4a50" stroke-opacity="0.85" stroke-width="1.1"/>
<circle cx="46.5" cy="90.3" r="6.5" fill="#e8e8e8" fill-opacity="0.85" stroke="#5a4a50" stroke-opacity="0.85" stroke-width="1.1"/>
<circle cx="77.3" cy="83.2" r="8.8" fill="#e8e8e8" fill-opacity="0.85" stroke="#5a4a50" stroke-opacity="0.9" stroke-width="1.3"/>
<circle cx="83.5" cy="53.7" r="2.2" fill="#e8e8e8" fill-opacity="0.85" stroke="#5a4a50" stroke-opacity="0.8" stroke-width="0.9"/>
<circle cx="79.8" cy="58.4" r="2.2" fill="#e8e8e8" fill-opacity="0.85" stroke="#5a4a50" stroke-opacity="0.8" stroke-width="0.9"/>
<circle cx="22.3" cy="31.5" r="1.5" fill="#eeeeee" stroke="#8a8486" stroke-opacity="0.6" stroke-width="0.5"/>
<circle cx="28.8" cy="31.5" r="1.5" fill="#eeeeee" stroke="#8a8486" stroke-opacity="0.6" stroke-width="0.5"/>
<circle cx="24.9" cy="36.7" r="1.5" fill="#eeeeee" stroke="#8a8486" stroke-opacity="0.6" stroke-width="0.5"/>
<circle cx="30.7" cy="39.9" r="1.5" fill="#eeeeee" stroke="#8a8486" stroke-opacity="0.6" stroke-width="0.5"/>
<circle cx="34" cy="40.6" r="1.5" fill="#eeeeee" stroke="#8a8486" stroke-opacity="0.6" stroke-width="0.5"/>
</svg>
<svg x="297.30" y="817.00" width="110.70" height="110.10" viewBox="0 0 110 110" preserveAspectRatio="none" overflow="hidden">
<rect width="110" height="110" fill="#e2e2e2"/>
<g fill="#9a9a9a" opacity="0.55" filter="url(#b1)"><ellipse cx="58.6" cy="37.1" rx="26.099999999999998" ry="26.099999999999998"/><ellipse cx="55.4" cy="65.7" rx="24.099999999999998" ry="24.099999999999998"/></g>
<g fill="none" stroke="#9a9a9a" stroke-opacity="0.75" stroke-width="2.6" stroke-linecap="round" stroke-dasharray="0.1 3.3"><ellipse cx="58.6" cy="37.1" rx="25.599999999999998" ry="25.599999999999998"/><ellipse cx="55.4" cy="65.7" rx="23.599999999999998" ry="23.599999999999998"/></g>
<g fill="none" stroke="#ededed" stroke-width="1.5" stroke-linecap="round" stroke-dasharray="0.1 3.3"><ellipse cx="58.6" cy="37.1" rx="25.599999999999998" ry="25.599999999999998"/><ellipse cx="55.4" cy="65.7" rx="23.599999999999998" ry="23.599999999999998"/></g>
<g fill="#e4e4e4" opacity="1.0"><ellipse cx="58.6" cy="37.1" rx="25.4" ry="25.4"/><ellipse cx="55.4" cy="65.7" rx="23.4" ry="23.4"/></g>
<g filter="url(#tx1)" opacity="0.75"><ellipse cx="58.6" cy="37.1" rx="25.4" ry="25.4"/><ellipse cx="55.4" cy="65.7" rx="23.4" ry="23.4"/></g>
<circle cx="23.5" cy="47.9" r="9.1" fill="#e8e8e8" fill-opacity="0.85" stroke="#5a4a50" stroke-opacity="0.8" stroke-width="1.0"/>
<circle cx="20.9" cy="66.3" r="9.4" fill="#e8e8e8" fill-opacity="0.85" stroke="#5a4a50" stroke-opacity="0.8" stroke-width="1.0"/>
<circle cx="85" cy="60.1" r="3.9" fill="#e8e8e8" fill-opacity="0.85" stroke="#5a4a50" stroke-opacity="0.8" stroke-width="1.0"/>
<circle cx="85.8" cy="80" r="6.2" fill="#e8e8e8" fill-opacity="0.85" stroke="#5a4a50" stroke-opacity="0.8" stroke-width="1.0"/>
</svg>
<svg x="411.80" y="817.00" width="110.70" height="110.10" viewBox="0 0 110 110" preserveAspectRatio="none" overflow="hidden">
<rect width="110" height="110" fill="#e2e2e2"/>
<g fill="#9a9a9a" opacity="0.4" filter="url(#b1)"><ellipse cx="58.8" cy="54" rx="40.7" ry="40.7"/></g>
<g fill="none" stroke="#9a9a9a" stroke-opacity="0.6000000000000001" stroke-width="2.6" stroke-linecap="round" stroke-dasharray="0.1 3.3"><ellipse cx="58.8" cy="54" rx="40.2" ry="40.2"/></g>
<g fill="none" stroke="#ededed" stroke-width="1.5" stroke-linecap="round" stroke-dasharray="0.1 3.3"><ellipse cx="58.8" cy="54" rx="40.2" ry="40.2"/></g>
<g fill="#e4e4e4" opacity="1.0"><ellipse cx="58.8" cy="54" rx="40" ry="40"/></g>
<g filter="url(#tx1)" opacity="0.75"><ellipse cx="58.8" cy="54" rx="40" ry="40"/></g>
<circle cx="25.6" cy="18.9" r="9.8" fill="#e8e8e8" fill-opacity="0.85" stroke="#5a4a50" stroke-opacity="0.75" stroke-width="0.9"/>
<circle cx="88" cy="15.3" r="7.8" fill="#e8e8e8" fill-opacity="0.85" stroke="#5a4a50" stroke-opacity="0.75" stroke-width="0.9"/>
<circle cx="23.9" cy="31.9" r="2.9" fill="#e8e8e8" fill-opacity="0.85" stroke="#5a4a50" stroke-opacity="0.7" stroke-width="0.8"/>
<circle cx="12.2" cy="51.6" r="6.2" fill="#e8e8e8" fill-opacity="0.85" stroke="#5a4a50" stroke-opacity="0.75" stroke-width="0.9"/>
<circle cx="6.1" cy="62.4" r="5.5" fill="#e8e8e8" fill-opacity="0.85" stroke="#5a4a50" stroke-opacity="0.75" stroke-width="0.9"/>
<circle cx="33" cy="89.7" r="5.5" fill="#e8e8e8" fill-opacity="0.85" stroke="#5a4a50" stroke-opacity="0.75" stroke-width="0.9"/>
<circle cx="70.5" cy="100.1" r="5.9" fill="#e8e8e8" fill-opacity="0.85" stroke="#5a4a50" stroke-opacity="0.75" stroke-width="0.9"/>
<circle cx="95.8" cy="95.6" r="13.4" fill="#e8e8e8" fill-opacity="0.85" stroke="#5a4a50" stroke-opacity="0.75" stroke-width="0.9"/>
<circle cx="15.3" cy="38.4" r="1.6" fill="#eeeeee" stroke="#8a8486" stroke-opacity="0.6" stroke-width="0.5"/>
<circle cx="92.3" cy="81" r="1.6" fill="#eeeeee" stroke="#8a8486" stroke-opacity="0.6" stroke-width="0.5"/>
<circle cx="8.5" cy="109" r="1.3" fill="#eeeeee" stroke="#8a8486" stroke-opacity="0.6" stroke-width="0.5"/>
</svg>
<svg x="526.20" y="817.00" width="110.50" height="110.10" viewBox="0 0 110 110" preserveAspectRatio="none" overflow="hidden">
<rect width="110" height="110" fill="#e1e1e1"/>
<g fill="#9a9a9a" opacity="0.4" filter="url(#b1)"><ellipse cx="60.9" cy="54" rx="39.7" ry="39.7"/><ellipse cx="50" cy="46" rx="30.7" ry="30.7"/></g>
<g fill="none" stroke="#9a9a9a" stroke-opacity="0.6000000000000001" stroke-width="2.6" stroke-linecap="round" stroke-dasharray="0.1 3.3"><ellipse cx="60.9" cy="54" rx="39.2" ry="39.2"/><ellipse cx="50" cy="46" rx="30.2" ry="30.2"/></g>
<g fill="none" stroke="#ededed" stroke-width="1.5" stroke-linecap="round" stroke-dasharray="0.1 3.3"><ellipse cx="60.9" cy="54" rx="39.2" ry="39.2"/><ellipse cx="50" cy="46" rx="30.2" ry="30.2"/></g>
<g fill="#e4e4e4" opacity="1.0"><ellipse cx="60.9" cy="54" rx="39" ry="39"/><ellipse cx="50" cy="46" rx="30" ry="30"/></g>
<g filter="url(#tx1)" opacity="0.75"><ellipse cx="60.9" cy="54" rx="39" ry="39"/><ellipse cx="50" cy="46" rx="30" ry="30"/></g>
<circle cx="8.2" cy="21.1" r="4.6" fill="#e8e8e8" fill-opacity="0.85" stroke="#5a4a50" stroke-opacity="0.7" stroke-width="0.9"/>
<circle cx="12.7" cy="42" r="12.7" fill="#e8e8e8" fill-opacity="0.85" stroke="#5a4a50" stroke-opacity="0.7" stroke-width="0.9"/>
<circle cx="77.4" cy="96.2" r="11" fill="#e8e8e8" fill-opacity="0.85" stroke="#5a4a50" stroke-opacity="0.7" stroke-width="0.9"/>
<circle cx="32.5" cy="10.4" r="2" fill="#eeeeee" stroke="#8a8486" stroke-opacity="0.6" stroke-width="0.5"/>
<circle cx="30.3" cy="14.3" r="2" fill="#eeeeee" stroke="#8a8486" stroke-opacity="0.6" stroke-width="0.5"/>
<circle cx="37.7" cy="15" r="2.2" fill="#eeeeee" stroke="#8a8486" stroke-opacity="0.6" stroke-width="0.5"/>
<circle cx="45" cy="13" r="2" fill="#eeeeee" stroke="#8a8486" stroke-opacity="0.6" stroke-width="0.5"/>
<circle cx="17.3" cy="68.3" r="2" fill="#eeeeee" stroke="#8a8486" stroke-opacity="0.6" stroke-width="0.5"/>
<circle cx="24.2" cy="83.6" r="1.9" fill="#eeeeee" stroke="#8a8486" stroke-opacity="0.6" stroke-width="0.5"/>
</svg>
<svg x="640.80" y="817.00" width="110.00" height="110.10" viewBox="0 0 110 110" preserveAspectRatio="none" overflow="hidden">
<rect width="110" height="110" fill="url(#bgc5)"/>
<g fill="#a9a397" opacity="0.5" filter="url(#b1)"><ellipse cx="58.8" cy="51.4" rx="38.400000000000006" ry="38.400000000000006"/><ellipse cx="70" cy="60" rx="26.7" ry="24.7"/></g>
<g fill="none" stroke="#a9a397" stroke-opacity="0.7" stroke-width="2.6" stroke-linecap="round" stroke-dasharray="0.1 3.3"><ellipse cx="58.8" cy="51.4" rx="37.900000000000006" ry="37.900000000000006"/><ellipse cx="70" cy="60" rx="26.2" ry="24.2"/></g>
<g fill="none" stroke="#ededed" stroke-width="1.5" stroke-linecap="round" stroke-dasharray="0.1 3.3"><ellipse cx="58.8" cy="51.4" rx="37.900000000000006" ry="37.900000000000006"/><ellipse cx="70" cy="60" rx="26.2" ry="24.2"/></g>
<g fill="#e2e0da" opacity="1.0"><ellipse cx="58.8" cy="51.4" rx="37.7" ry="37.7"/><ellipse cx="70" cy="60" rx="26" ry="24"/></g>
<g filter="url(#tx1)" opacity="0.75"><ellipse cx="58.8" cy="51.4" rx="37.7" ry="37.7"/><ellipse cx="70" cy="60" rx="26" ry="24"/></g>
<circle cx="6.8" cy="30.8" r="8.5" fill="#e8e8e8" fill-opacity="0.85" stroke="#5a4a50" stroke-opacity="0.6" stroke-width="0.9"/>
<circle cx="6.8" cy="52" r="11" fill="#e8e8e8" fill-opacity="0.85" stroke="#5a4a50" stroke-opacity="0.6" stroke-width="0.9"/>
<circle cx="78" cy="20.2" r="4.2" fill="#e8e8e8" fill-opacity="0.85" stroke="#5a4a50" stroke-opacity="0.55" stroke-width="0.8"/>
<circle cx="83.2" cy="29.3" r="5.9" fill="#e8e8e8" fill-opacity="0.85" stroke="#5a4a50" stroke-opacity="0.6" stroke-width="0.9"/>
<circle cx="45.8" cy="90.1" r="4.9" fill="#e8e8e8" fill-opacity="0.85" stroke="#5a4a50" stroke-opacity="0.6" stroke-width="0.9"/>
<circle cx="83.5" cy="82.2" r="6.5" fill="#e8e8e8" fill-opacity="0.85" stroke="#5a4a50" stroke-opacity="0.6" stroke-width="0.9"/>
<circle cx="31.2" cy="22.4" r="2.9" fill="#eeeeee" stroke="#8a8486" stroke-opacity="0.6" stroke-width="0.5"/>
<circle cx="36" cy="23.5" r="1.6" fill="#eeeeee" stroke="#8a8486" stroke-opacity="0.6" stroke-width="0.5"/>
<circle cx="62" cy="10.4" r="2.3" fill="#eeeeee" stroke="#8a8486" stroke-opacity="0.6" stroke-width="0.5"/>
<circle cx="20" cy="69.2" r="2.6" fill="#eeeeee" stroke="#8a8486" stroke-opacity="0.6" stroke-width="0.5"/>
<circle cx="54" cy="12.5" r="1.3" fill="#eeeeee" stroke="#8a8486" stroke-opacity="0.6" stroke-width="0.5"/>
</svg>
<svg x="755.20" y="817.00" width="110.10" height="110.10" viewBox="0 0 110 110" preserveAspectRatio="none" overflow="hidden">
<rect width="110" height="110" fill="#e1e1e1"/>
<g fill="#a5a39d" opacity="0.5" filter="url(#b1)"><ellipse cx="55.1" cy="55.7" rx="38.2" ry="35.7"/></g>
<g fill="none" stroke="#a5a39d" stroke-opacity="0.7" stroke-width="2.6" stroke-linecap="round" stroke-dasharray="0.1 3.3"><ellipse cx="55.1" cy="55.7" rx="37.7" ry="35.2"/></g>
<g fill="none" stroke="#ededed" stroke-width="1.5" stroke-linecap="round" stroke-dasharray="0.1 3.3"><ellipse cx="55.1" cy="55.7" rx="37.7" ry="35.2"/></g>
<g fill="#e1e0de" opacity="1.0"><ellipse cx="55.1" cy="55.7" rx="37.5" ry="35"/></g>
<g filter="url(#tx1)" opacity="0.75"><ellipse cx="55.1" cy="55.7" rx="37.5" ry="35"/></g>
<circle cx="25.9" cy="27.1" r="7.5" fill="#e8e8e8" fill-opacity="0.85" stroke="#5a4a50" stroke-opacity="0.6" stroke-width="0.9"/>
<circle cx="76.3" cy="24.7" r="4" fill="#e8e8e8" fill-opacity="0.85" stroke="#5a4a50" stroke-opacity="0.6" stroke-width="0.8"/>
<circle cx="98" cy="50.2" r="4" fill="#e8e8e8" fill-opacity="0.85" stroke="#5a4a50" stroke-opacity="0.6" stroke-width="0.8"/>
<circle cx="90.7" cy="73.9" r="5.5" fill="#e8e8e8" fill-opacity="0.85" stroke="#5a4a50" stroke-opacity="0.6" stroke-width="0.9"/>
<circle cx="19.4" cy="73.9" r="4" fill="#e8e8e8" fill-opacity="0.85" stroke="#5a4a50" stroke-opacity="0.6" stroke-width="0.8"/>
<circle cx="55.5" cy="95.3" r="6" fill="#e8e8e8" fill-opacity="0.85" stroke="#5a4a50" stroke-opacity="0.6" stroke-width="0.9"/>
<circle cx="81.8" cy="2.4" r="7" fill="#e8e8e8" fill-opacity="0.85" stroke="#5a4a50" stroke-opacity="0.6" stroke-width="0.9"/>
<circle cx="60" cy="-0.6" r="4" fill="#e8e8e8" fill-opacity="0.85" stroke="#5a4a50" stroke-opacity="0.6" stroke-width="0.8"/>
<circle cx="66.4" cy="19.6" r="2.8" fill="#eeeeee" stroke="#8a8486" stroke-opacity="0.6" stroke-width="0.5"/>
<circle cx="41.7" cy="94.9" r="2.8" fill="#eeeeee" stroke="#8a8486" stroke-opacity="0.6" stroke-width="0.5"/>
<circle cx="46" cy="22" r="1.4" fill="#eeeeee" stroke="#8a8486" stroke-opacity="0.6" stroke-width="0.5"/>
<circle cx="84" cy="35" r="1.3" fill="#eeeeee" stroke="#8a8486" stroke-opacity="0.6" stroke-width="0.5"/>
<circle cx="67" cy="91" r="1.3" fill="#eeeeee" stroke="#8a8486" stroke-opacity="0.6" stroke-width="0.5"/>
</svg>
<svg x="869.00" y="817.00" width="111.40" height="110.10" viewBox="0 0 110 110" preserveAspectRatio="none" overflow="hidden">
<rect width="110" height="110" fill="#e7e7e7"/>
<g fill="#b4b4b4" opacity="0.45" filter="url(#b1)"><ellipse cx="58.7" cy="53.8" rx="37.7" ry="43.7" transform="rotate(-35 58.7 53.8)"/></g>
<g fill="#e8e8e8" opacity="1.0"><ellipse cx="58.7" cy="53.8" rx="37" ry="43" transform="rotate(-35 58.7 53.8)"/></g>
<g filter="url(#tx2)" opacity="0.5"><ellipse cx="58.7" cy="53.8" rx="37" ry="43" transform="rotate(-35 58.7 53.8)"/></g>
<g fill="#f4f4f4" filter="url(#b1)" opacity="0.7"><circle cx="44.7" cy="81.4" r="1.0"/><circle cx="84.8" cy="52.5" r="2.6"/><circle cx="54.8" cy="72.0" r="1.1"/><circle cx="57.7" cy="61.3" r="2.1"/><circle cx="36.8" cy="80.3" r="2.2"/><circle cx="48.4" cy="67.9" r="1.6"/><circle cx="81.3" cy="61.5" r="1.3"/><circle cx="73.9" cy="83.3" r="1.7"/><circle cx="85.9" cy="44.1" r="2.1"/><circle cx="56.0" cy="69.8" r="1.4"/><circle cx="54.1" cy="30.3" r="1.5"/><circle cx="74.8" cy="58.3" r="1.6"/><circle cx="70.5" cy="63.6" r="1.5"/><circle cx="36.6" cy="68.7" r="1.9"/><circle cx="66.2" cy="40.2" r="1.2"/><circle cx="51.1" cy="71.8" r="1.9"/><circle cx="38.1" cy="59.0" r="1.2"/><circle cx="56.2" cy="27.6" r="2.0"/><circle cx="47.4" cy="24.2" r="1.1"/><circle cx="64.2" cy="78.9" r="2.1"/><circle cx="33.3" cy="55.3" r="1.5"/><circle cx="57.2" cy="89.6" r="2.6"/><circle cx="44.2" cy="46.2" r="2.0"/><circle cx="52.1" cy="80.2" r="2.4"/><circle cx="47.1" cy="80.4" r="1.5"/><circle cx="26.3" cy="59.0" r="1.8"/><circle cx="75.9" cy="50.9" r="1.7"/><circle cx="42.1" cy="35.9" r="2.1"/><circle cx="55.1" cy="60.1" r="1.7"/><circle cx="44.8" cy="24.0" r="2.1"/><circle cx="38.3" cy="48.8" r="1.8"/><circle cx="53.6" cy="67.2" r="1.9"/><circle cx="43.9" cy="41.4" r="2.2"/><circle cx="38.5" cy="52.3" r="2.4"/><circle cx="72.4" cy="58.6" r="1.5"/><circle cx="48.5" cy="40.0" r="2.6"/><circle cx="72.9" cy="70.8" r="1.8"/><circle cx="55.4" cy="37.9" r="1.3"/><circle cx="55.0" cy="24.1" r="1.9"/><circle cx="72.5" cy="43.1" r="1.7"/><circle cx="44.6" cy="56.1" r="2.3"/><circle cx="64.2" cy="59.8" r="2.5"/><circle cx="44.3" cy="60.1" r="2.4"/><circle cx="69.8" cy="75.6" r="2.1"/><circle cx="75.2" cy="78.8" r="2.0"/><circle cx="41.3" cy="24.7" r="1.8"/><circle cx="63.6" cy="56.3" r="2.4"/><circle cx="69.0" cy="67.8" r="2.0"/><circle cx="41.9" cy="86.3" r="1.0"/><circle cx="54.5" cy="91.7" r="1.3"/><circle cx="69.5" cy="32.6" r="2.0"/><circle cx="49.3" cy="82.9" r="1.9"/><circle cx="62.0" cy="40.1" r="1.5"/><circle cx="47.7" cy="56.5" r="2.4"/><circle cx="27.3" cy="51.2" r="2.2"/><circle cx="41.5" cy="68.2" r="1.9"/><circle cx="82.7" cy="44.2" r="2.5"/><circle cx="34.8" cy="44.4" r="1.5"/><circle cx="33.2" cy="47.9" r="2.2"/><circle cx="71.9" cy="26.9" r="1.4"/><circle cx="51.0" cy="48.6" r="1.4"/><circle cx="55.1" cy="55.3" r="2.4"/><circle cx="40.8" cy="51.7" r="1.7"/><circle cx="56.2" cy="45.1" r="2.5"/><circle cx="43.2" cy="34.1" r="1.3"/><circle cx="45.4" cy="44.0" r="1.1"/><circle cx="32.1" cy="58.7" r="1.6"/><circle cx="68.0" cy="27.2" r="1.6"/><circle cx="32.1" cy="63.3" r="1.9"/><circle cx="75.4" cy="32.0" r="2.4"/><circle cx="66.5" cy="79.9" r="1.7"/><circle cx="38.8" cy="65.7" r="2.0"/><circle cx="48.2" cy="51.7" r="1.1"/><circle cx="68.8" cy="85.0" r="2.4"/><circle cx="46.8" cy="36.8" r="1.9"/><circle cx="47.6" cy="44.5" r="2.5"/><circle cx="61.2" cy="52.6" r="1.4"/><circle cx="51.4" cy="89.0" r="2.5"/><circle cx="75.6" cy="47.8" r="1.9"/><circle cx="27.4" cy="46.1" r="2.5"/><circle cx="48.7" cy="54.0" r="1.9"/><circle cx="76.0" cy="45.6" r="2.0"/><circle cx="34.7" cy="53.9" r="1.7"/><circle cx="58.4" cy="79.9" r="2.3"/><circle cx="55.7" cy="49.6" r="1.3"/><circle cx="53.9" cy="40.0" r="2.1"/><circle cx="62.1" cy="43.6" r="1.4"/><circle cx="64.6" cy="64.8" r="2.6"/><circle cx="78.6" cy="31.3" r="1.3"/><circle cx="34.8" cy="68.1" r="1.1"/><circle cx="38.0" cy="29.2" r="2.5"/><circle cx="62.0" cy="79.5" r="1.1"/><circle cx="55.1" cy="29.1" r="1.3"/><circle cx="51.3" cy="77.0" r="1.2"/><circle cx="72.2" cy="85.9" r="2.3"/><circle cx="52.0" cy="46.1" r="1.8"/><circle cx="62.9" cy="24.3" r="1.4"/><circle cx="37.9" cy="75.4" r="1.2"/><circle cx="59.2" cy="77.4" r="2.1"/><circle cx="30.1" cy="35.2" r="2.1"/><circle cx="46.2" cy="66.6" r="1.2"/><circle cx="29.4" cy="67.1" r="1.8"/><circle cx="47.6" cy="83.3" r="1.0"/><circle cx="53.3" cy="26.4" r="1.7"/><circle cx="74.6" cy="65.4" r="2.4"/><circle cx="72.6" cy="53.9" r="2.4"/><circle cx="81.1" cy="39.2" r="1.4"/><circle cx="52.6" cy="50.9" r="1.4"/><circle cx="66.2" cy="89.5" r="2.5"/><circle cx="80.0" cy="50.0" r="2.6"/><circle cx="69.9" cy="78.5" r="1.2"/><circle cx="34.9" cy="35.1" r="1.2"/><circle cx="56.0" cy="86.6" r="2.2"/><circle cx="38.2" cy="70.4" r="1.5"/><circle cx="62.0" cy="32.9" r="1.5"/><circle cx="37.4" cy="82.9" r="1.9"/><circle cx="40.0" cy="47.7" r="1.6"/><circle cx="54.6" cy="42.3" r="1.2"/><circle cx="38.1" cy="72.9" r="2.0"/><circle cx="75.3" cy="75.2" r="2.5"/></g>
<g fill="#c4c4c4" filter="url(#b1)" opacity="0.6"><circle cx="76.7" cy="67.7" r="1.8"/><circle cx="43.7" cy="76.8" r="1.2"/><circle cx="54.4" cy="27.9" r="1.4"/><circle cx="80.9" cy="51.7" r="1.1"/><circle cx="38.6" cy="74.5" r="1.5"/><circle cx="60.7" cy="86.1" r="1.2"/><circle cx="57.3" cy="45.8" r="1.1"/><circle cx="75.3" cy="58.4" r="1.1"/><circle cx="47.9" cy="69.1" r="1.7"/><circle cx="44.3" cy="40.9" r="1.3"/><circle cx="67.6" cy="86.3" r="1.7"/><circle cx="45.4" cy="50.2" r="1.8"/><circle cx="57.5" cy="63.8" r="1.2"/><circle cx="36.1" cy="77.8" r="0.9"/><circle cx="74.5" cy="64.4" r="0.8"/><circle cx="45.1" cy="35.7" r="1.7"/><circle cx="69.3" cy="49.5" r="1.6"/><circle cx="26.8" cy="56.1" r="0.9"/><circle cx="27.4" cy="65.1" r="0.9"/><circle cx="50.4" cy="73.8" r="1.2"/><circle cx="69.1" cy="55.3" r="1.6"/><circle cx="53.0" cy="87.6" r="0.9"/><circle cx="80.0" cy="75.9" r="0.8"/><circle cx="47.5" cy="44.0" r="1.4"/><circle cx="46.2" cy="80.5" r="1.5"/><circle cx="56.0" cy="44.1" r="1.6"/><circle cx="57.6" cy="82.1" r="1.6"/><circle cx="59.0" cy="31.5" r="1.3"/><circle cx="71.9" cy="82.3" r="1.4"/><circle cx="60.0" cy="22.9" r="1.5"/><circle cx="49.6" cy="78.4" r="1.0"/><circle cx="51.3" cy="87.0" r="1.5"/><circle cx="66.8" cy="77.3" r="1.2"/><circle cx="67.0" cy="27.6" r="1.2"/><circle cx="67.3" cy="63.4" r="1.4"/><circle cx="52.3" cy="60.8" r="1.5"/><circle cx="43.1" cy="43.2" r="0.8"/><circle cx="42.0" cy="76.6" r="0.9"/><circle cx="60.8" cy="60.3" r="0.8"/><circle cx="36.7" cy="37.4" r="1.4"/><circle cx="48.5" cy="74.4" r="0.8"/><circle cx="63.6" cy="32.8" r="1.0"/><circle cx="67.9" cy="67.8" r="1.2"/><circle cx="53.5" cy="47.3" r="1.6"/><circle cx="57.0" cy="69.3" r="1.4"/><circle cx="73.8" cy="83.1" r="1.5"/><circle cx="53.5" cy="31.0" r="1.7"/><circle cx="69.5" cy="35.9" r="0.9"/><circle cx="40.9" cy="26.7" r="1.0"/><circle cx="52.9" cy="45.2" r="1.6"/><circle cx="34.2" cy="50.0" r="1.4"/><circle cx="31.9" cy="51.4" r="1.4"/><circle cx="48.6" cy="86.6" r="0.9"/><circle cx="55.4" cy="33.9" r="0.9"/><circle cx="52.5" cy="79.5" r="0.9"/><circle cx="35.5" cy="32.3" r="1.5"/><circle cx="34.1" cy="47.5" r="1.3"/><circle cx="58.5" cy="27.7" r="1.3"/><circle cx="55.6" cy="28.7" r="0.9"/><circle cx="67.5" cy="72.7" r="1.1"/><circle cx="48.7" cy="34.2" r="1.5"/><circle cx="49.7" cy="23.6" r="1.3"/><circle cx="53.0" cy="89.5" r="1.1"/><circle cx="56.0" cy="39.3" r="1.2"/><circle cx="37.8" cy="30.9" r="1.7"/><circle cx="76.8" cy="50.5" r="1.5"/><circle cx="55.7" cy="31.7" r="1.5"/><circle cx="40.9" cy="71.1" r="1.1"/><circle cx="74.8" cy="81.0" r="1.3"/><circle cx="30.9" cy="53.9" r="1.1"/></g>
</svg>
<svg x="983.50" y="817.00" width="111.40" height="110.10" viewBox="0 0 110 110" preserveAspectRatio="none" overflow="hidden">
<rect width="110" height="110" fill="#e8e8e8"/>
<g fill="#c4c4c4" opacity="0.3" filter="url(#b1)"><ellipse cx="58.9" cy="53.8" rx="36.7" ry="37.7"/></g>
<g fill="#eaeae8" opacity="1.0"><ellipse cx="58.9" cy="53.8" rx="36" ry="37"/></g>
<g filter="url(#tx2)" opacity="0.35"><ellipse cx="58.9" cy="53.8" rx="36" ry="37"/></g>
<g fill="#f3f3f1" filter="url(#b1)" opacity="0.7"><circle cx="36.7" cy="52.9" r="1.5"/><circle cx="36.4" cy="74.5" r="1.0"/><circle cx="31.5" cy="62.9" r="1.5"/><circle cx="73.6" cy="43.6" r="1.2"/><circle cx="54.9" cy="65.4" r="0.9"/><circle cx="41.0" cy="52.2" r="1.5"/><circle cx="90.8" cy="45.6" r="1.7"/><circle cx="48.9" cy="72.2" r="1.9"/><circle cx="61.9" cy="84.5" r="1.1"/><circle cx="35.6" cy="62.0" r="2.0"/><circle cx="55.4" cy="22.9" r="1.2"/><circle cx="40.9" cy="79.5" r="1.5"/><circle cx="56.9" cy="43.3" r="0.9"/><circle cx="42.5" cy="62.1" r="1.1"/><circle cx="71.6" cy="23.9" r="1.1"/><circle cx="70.5" cy="62.5" r="1.0"/><circle cx="55.6" cy="33.1" r="2.0"/><circle cx="82.9" cy="56.7" r="1.0"/><circle cx="70.8" cy="36.7" r="1.1"/><circle cx="32.2" cy="38.0" r="0.8"/><circle cx="62.7" cy="85.9" r="1.3"/><circle cx="85.1" cy="72.5" r="1.9"/><circle cx="45.8" cy="60.5" r="0.8"/><circle cx="57.6" cy="24.0" r="1.7"/><circle cx="51.8" cy="35.0" r="1.1"/><circle cx="32.7" cy="40.1" r="1.4"/><circle cx="38.4" cy="51.8" r="1.8"/><circle cx="75.5" cy="49.0" r="2.0"/><circle cx="67.0" cy="33.8" r="1.1"/><circle cx="49.2" cy="30.8" r="1.5"/><circle cx="91.6" cy="52.5" r="1.6"/><circle cx="45.5" cy="52.2" r="0.9"/><circle cx="66.0" cy="38.3" r="1.6"/><circle cx="53.8" cy="68.6" r="1.6"/><circle cx="63.0" cy="61.7" r="2.0"/><circle cx="42.9" cy="65.9" r="1.7"/><circle cx="66.0" cy="83.2" r="1.1"/><circle cx="54.7" cy="24.6" r="0.9"/><circle cx="51.2" cy="57.4" r="1.0"/><circle cx="89.9" cy="42.6" r="1.4"/><circle cx="52.7" cy="43.2" r="1.9"/><circle cx="39.4" cy="32.8" r="1.8"/><circle cx="60.7" cy="82.1" r="1.4"/><circle cx="64.0" cy="66.6" r="1.3"/><circle cx="39.1" cy="63.6" r="1.1"/><circle cx="69.1" cy="52.2" r="1.8"/><circle cx="59.5" cy="30.8" r="1.2"/><circle cx="74.5" cy="29.2" r="1.1"/><circle cx="77.9" cy="34.9" r="1.0"/><circle cx="78.1" cy="48.3" r="1.0"/><circle cx="86.5" cy="46.0" r="1.4"/><circle cx="36.6" cy="46.2" r="1.4"/><circle cx="81.6" cy="67.7" r="1.2"/><circle cx="68.7" cy="71.5" r="1.3"/><circle cx="75.5" cy="59.8" r="1.2"/><circle cx="71.8" cy="71.4" r="0.9"/><circle cx="39.7" cy="54.9" r="1.2"/><circle cx="43.8" cy="31.5" r="0.9"/><circle cx="78.6" cy="72.4" r="1.2"/><circle cx="68.1" cy="69.0" r="1.1"/><circle cx="59.3" cy="60.0" r="1.2"/><circle cx="59.4" cy="53.3" r="0.8"/><circle cx="72.9" cy="74.3" r="1.2"/><circle cx="52.7" cy="25.4" r="1.6"/><circle cx="28.5" cy="57.4" r="2.0"/><circle cx="73.0" cy="69.3" r="1.8"/><circle cx="46.4" cy="36.5" r="1.7"/><circle cx="53.7" cy="84.8" r="0.9"/><circle cx="82.0" cy="72.2" r="1.3"/><circle cx="64.6" cy="21.9" r="1.7"/><circle cx="48.2" cy="39.5" r="1.4"/><circle cx="82.5" cy="59.4" r="1.8"/><circle cx="79.2" cy="49.1" r="1.3"/><circle cx="56.2" cy="61.3" r="1.1"/><circle cx="87.5" cy="48.3" r="2.0"/><circle cx="53.9" cy="50.0" r="1.3"/><circle cx="77.1" cy="37.3" r="1.8"/><circle cx="77.8" cy="55.6" r="1.3"/><circle cx="42.8" cy="59.4" r="1.7"/><circle cx="65.9" cy="23.6" r="1.3"/><circle cx="79.8" cy="66.8" r="1.8"/><circle cx="58.8" cy="55.4" r="1.6"/><circle cx="88.4" cy="57.6" r="1.9"/><circle cx="68.6" cy="25.8" r="1.6"/><circle cx="67.7" cy="30.2" r="1.5"/><circle cx="81.1" cy="57.5" r="2.0"/><circle cx="78.4" cy="60.5" r="1.9"/><circle cx="27.8" cy="49.7" r="1.5"/><circle cx="39.0" cy="79.8" r="1.2"/><circle cx="75.9" cy="31.4" r="2.0"/></g>
<g fill="#d0d0cc" filter="url(#b1)" opacity="0.55"><circle cx="73.1" cy="72.6" r="1.1"/><circle cx="88.1" cy="47.8" r="1.3"/><circle cx="53.3" cy="41.6" r="1.4"/><circle cx="35.9" cy="64.3" r="0.8"/><circle cx="48.3" cy="83.0" r="0.8"/><circle cx="75.1" cy="63.7" r="1.0"/><circle cx="36.0" cy="55.1" r="0.8"/><circle cx="78.6" cy="54.0" r="0.9"/><circle cx="34.9" cy="47.7" r="1.3"/><circle cx="39.8" cy="61.4" r="1.2"/><circle cx="81.3" cy="38.5" r="0.7"/><circle cx="49.1" cy="85.6" r="1.5"/><circle cx="54.3" cy="68.8" r="0.7"/><circle cx="65.2" cy="60.2" r="1.5"/><circle cx="77.0" cy="47.3" r="0.7"/><circle cx="81.4" cy="40.3" r="1.4"/><circle cx="49.3" cy="83.7" r="1.3"/><circle cx="46.2" cy="29.3" r="1.3"/><circle cx="27.7" cy="61.9" r="0.8"/><circle cx="42.1" cy="65.2" r="1.1"/><circle cx="63.7" cy="45.9" r="1.0"/><circle cx="50.5" cy="28.3" r="1.1"/><circle cx="37.0" cy="79.0" r="1.4"/><circle cx="54.0" cy="45.4" r="1.0"/><circle cx="54.0" cy="39.9" r="1.0"/><circle cx="47.6" cy="58.9" r="1.4"/><circle cx="72.2" cy="42.2" r="0.8"/><circle cx="57.6" cy="82.5" r="0.9"/><circle cx="56.9" cy="21.4" r="0.8"/><circle cx="49.3" cy="27.2" r="1.2"/><circle cx="48.8" cy="38.7" r="0.8"/><circle cx="71.0" cy="46.2" r="1.4"/><circle cx="65.5" cy="33.7" r="1.1"/><circle cx="55.2" cy="69.7" r="1.3"/><circle cx="72.2" cy="60.9" r="1.5"/><circle cx="43.2" cy="74.3" r="1.2"/><circle cx="47.3" cy="25.0" r="1.3"/><circle cx="54.4" cy="73.1" r="1.5"/><circle cx="77.1" cy="41.8" r="0.9"/><circle cx="35.5" cy="73.0" r="0.9"/><circle cx="69.4" cy="56.6" r="0.9"/><circle cx="68.6" cy="45.2" r="0.8"/><circle cx="84.1" cy="34.0" r="1.4"/><circle cx="80.5" cy="46.8" r="1.4"/><circle cx="74.0" cy="60.6" r="1.5"/><circle cx="37.9" cy="64.5" r="1.3"/><circle cx="52.9" cy="58.7" r="1.4"/><circle cx="66.4" cy="85.0" r="1.1"/><circle cx="26.6" cy="48.1" r="1.0"/><circle cx="60.4" cy="38.1" r="1.3"/></g>
</svg>
<svg x="69.40" y="931.80" width="110.40" height="110.80" viewBox="0 0 110 110" preserveAspectRatio="none" overflow="hidden">
<rect width="110" height="110" fill="#04042a"/>
<g fill="#1f1ff2" filter="url(#b1)"><circle cx="54.8" cy="8.4" r="2.5"/><circle cx="37.6" cy="16.6" r="4.4"/><circle cx="69.4" cy="16.9" r="3.5"/><circle cx="22.1" cy="21.2" r="2.5"/><circle cx="53.9" cy="21.2" r="3.2"/><circle cx="59.1" cy="23.1" r="2.9"/><circle cx="75.9" cy="22.5" r="2.9"/><circle cx="24.0" cy="31.5" r="3.5"/><circle cx="29.2" cy="34.1" r="2.5"/><circle cx="40.2" cy="30.9" r="3.2"/><circle cx="47.4" cy="29.9" r="2.5"/><circle cx="56.5" cy="32.8" r="3.5"/><circle cx="74.6" cy="29.9" r="2.9"/><circle cx="90.0" cy="29.9" r="2.5"/><circle cx="12.3" cy="38.4" r="2.9"/><circle cx="14.5" cy="44.3" r="3.2"/><circle cx="42.2" cy="40.6" r="3.2"/><circle cx="51.9" cy="39.7" r="2.9"/><circle cx="58.0" cy="40.2" r="3.2"/><circle cx="67.9" cy="41.3" r="2.9"/><circle cx="81.8" cy="38.7" r="3.8"/><circle cx="86.3" cy="43.9" r="3.2"/><circle cx="35.7" cy="44.5" r="3.5"/><circle cx="11.3" cy="51.7" r="2.5"/><circle cx="28.6" cy="53.0" r="3.5"/><circle cx="40.9" cy="51.9" r="2.5"/><circle cx="49.7" cy="51.4" r="2.5"/><circle cx="55.4" cy="50.4" r="2.5"/><circle cx="59.7" cy="52.3" r="2.9"/><circle cx="16.2" cy="56.6" r="3.5"/><circle cx="27.3" cy="59.4" r="2.9"/><circle cx="41.9" cy="54.9" r="2.2"/><circle cx="46.7" cy="59.4" r="2.9"/><circle cx="48.0" cy="63.3" r="3.5"/><circle cx="61.0" cy="60.7" r="2.9"/><circle cx="64.9" cy="57.5" r="3.2"/><circle cx="68.1" cy="55.6" r="2.9"/><circle cx="81.1" cy="58.2" r="3.5"/><circle cx="9.5" cy="65.3" r="2.5"/><circle cx="9.5" cy="70.5" r="2.2"/><circle cx="19.5" cy="68.3" r="2.2"/><circle cx="26.3" cy="71.5" r="2.9"/><circle cx="14.3" cy="74.0" r="2.2"/><circle cx="35.7" cy="67.2" r="2.9"/><circle cx="38.3" cy="71.8" r="4.0"/><circle cx="46.7" cy="73.7" r="3.5"/><circle cx="52.6" cy="72.4" r="2.9"/><circle cx="63.2" cy="70.9" r="2.9"/><circle cx="71.1" cy="70.1" r="3.2"/><circle cx="80.5" cy="70.9" r="2.5"/><circle cx="85.0" cy="67.0" r="2.2"/><circle cx="88.0" cy="71.8" r="2.2"/><circle cx="24.0" cy="82.8" r="3.2"/><circle cx="39.3" cy="83.5" r="2.5"/><circle cx="45.0" cy="82.8" r="2.5"/><circle cx="49.7" cy="80.6" r="2.2"/><circle cx="42.2" cy="77.6" r="2.2"/><circle cx="66.8" cy="83.5" r="3.5"/><circle cx="73.3" cy="88.0" r="4.0"/><circle cx="77.9" cy="81.8" r="3.5"/><circle cx="34.4" cy="89.6" r="2.9"/><circle cx="47.4" cy="91.9" r="3.5"/><circle cx="50.0" cy="95.1" r="3.2"/><circle cx="46.7" cy="99.0" r="3.2"/><circle cx="25.1" cy="95.4" r="2.9"/><circle cx="65.6" cy="95.1" r="2.9"/><circle cx="57.5" cy="100.1" r="2.2"/><circle cx="52.3" cy="102.7" r="2.5"/><circle cx="41.5" cy="104.9" r="2.5"/><circle cx="75.9" cy="97.7" r="2.5"/><circle cx="79.8" cy="95.1" r="2.2"/><circle cx="83.1" cy="92.5" r="2.2"/></g>
<ellipse cx="98.7" cy="46.5" rx="2" ry="5" fill="#1f1ff2" filter="url(#b1)" transform="rotate(-8 98.7 46.5)"/>
</svg>
<svg x="182.90" y="931.80" width="110.70" height="110.80" viewBox="0 0 110 110" preserveAspectRatio="none" overflow="hidden">
<rect width="110" height="110" fill="#03021c"/>
<ellipse cx="62" cy="38" rx="22" ry="20" fill="#1010a0" filter="url(#b8)" opacity="0.45"/>
<ellipse cx="51" cy="66" rx="22" ry="22" fill="#1010a0" filter="url(#b8)" opacity="0.5"/>
<ellipse cx="61.9" cy="36.1" rx="9" ry="6.5" fill="#2222ff" filter="url(#b2)" transform="rotate(15 61.9 36.1)"/>
<ellipse cx="50.9" cy="69.2" rx="8.6" ry="8.4" fill="#2222ff" filter="url(#b2)"/>
</svg>
<svg x="297.30" y="931.80" width="110.70" height="110.80" viewBox="0 0 110 110" preserveAspectRatio="none" overflow="hidden">
<rect width="110" height="110" fill="#04042c"/>
<ellipse cx="55" cy="50" rx="26" ry="36" fill="#0c0c78" filter="url(#b8)" opacity="0.4"/>
<ellipse cx="54.1" cy="30.3" rx="7.8" ry="7.8" fill="#2828b8" filter="url(#b2)" opacity="0.75"/>
<ellipse cx="63.2" cy="51.8" rx="3.6" ry="3.6" fill="#2a2aff" filter="url(#b1)"/>
<ellipse cx="58" cy="67.4" rx="7.4" ry="7.4" fill="#2020d8" filter="url(#b2)" opacity="0.9"/>
</svg>
<svg x="411.80" y="931.80" width="110.70" height="110.80" viewBox="0 0 110 110" preserveAspectRatio="none" overflow="hidden">
<rect width="110" height="110" fill="#04042c"/>
<ellipse cx="56" cy="52" rx="30" ry="32" fill="#0e0e88" filter="url(#b8)" opacity="0.5"/>
<ellipse cx="51.6" cy="29.6" rx="7.2" ry="7.2" fill="#2424d8" filter="url(#b2)" opacity="0.9"/>
<ellipse cx="78.3" cy="42" rx="7.2" ry="7.2" fill="#2424d8" filter="url(#b2)" opacity="0.9"/>
<ellipse cx="35.4" cy="56.3" rx="7.2" ry="7.2" fill="#2424d8" filter="url(#b2)" opacity="0.9"/>
<ellipse cx="58.8" cy="76.5" rx="6.8" ry="6.8" fill="#2424d8" filter="url(#b2)" opacity="0.9"/>
<ellipse cx="45.5" cy="25" rx="1.6" ry="1.6" fill="#3030f0" filter="url(#b1)"/>
</svg>
<svg x="526.20" y="931.80" width="110.50" height="110.80" viewBox="0 0 110 110" preserveAspectRatio="none" overflow="hidden">
<rect width="110" height="110" fill="#04042e"/>
<ellipse cx="55" cy="52" rx="30" ry="32" fill="#0c0c80" filter="url(#b8)" opacity="0.4"/>
<ellipse cx="49.2" cy="24.3" rx="7.5" ry="7.5" fill="#2626b4" filter="url(#b2)" opacity="0.8"/>
<ellipse cx="77.5" cy="52.9" rx="7.5" ry="7.5" fill="#2626b4" filter="url(#b2)" opacity="0.8"/>
<ellipse cx="47.9" cy="64" rx="7.8" ry="7.8" fill="#2828f0" filter="url(#b2)"/>
<ellipse cx="32.2" cy="67.2" rx="6.5" ry="6.5" fill="#2020a8" filter="url(#b2)" opacity="0.8"/>
<ellipse cx="62.5" cy="84.5" rx="6" ry="1.8" fill="#2828e0" filter="url(#b1)" transform="rotate(-30 62.5 84.5)"/>
</svg>
<svg x="640.80" y="931.80" width="110.00" height="110.80" viewBox="0 0 110 110" preserveAspectRatio="none" overflow="hidden">
<rect width="110" height="110" fill="#030216"/>
<ellipse cx="56" cy="56" rx="30" ry="30" fill="#1414b0" filter="url(#b7)" opacity="0.55"/>
<ellipse cx="56.2" cy="56.8" rx="15" ry="17" fill="#2028f4" filter="url(#b4)"/>
<ellipse cx="53.6" cy="36" rx="8" ry="9" fill="#2828e8" filter="url(#b3)" opacity="0.9"/>
<ellipse cx="33.5" cy="56.8" rx="7" ry="7" fill="#2828e0" filter="url(#b3)" opacity="0.9"/>
<ellipse cx="66" cy="52" rx="12" ry="12" fill="#2028f4" filter="url(#b4)" opacity="0.9"/>
<ellipse cx="52" cy="72" rx="11" ry="10" fill="#2626f0" filter="url(#b4)" opacity="0.9"/>
<ellipse cx="83.5" cy="62.7" rx="3.8" ry="3.8" fill="#2020b0" filter="url(#b1.5)" opacity="0.8"/>
<ellipse cx="72" cy="72.7" rx="1.4" ry="1.4" fill="#6a6aff" filter="url(#b1)"/>
</svg>
<svg x="755.20" y="931.80" width="110.10" height="110.80" viewBox="0 0 110 110" preserveAspectRatio="none" overflow="hidden">
<rect width="110" height="110" fill="#030216"/>
<ellipse cx="56" cy="55" rx="30" ry="28" fill="#1616b0" filter="url(#b7)" opacity="0.5"/>
<ellipse cx="56" cy="55" rx="13" ry="17" fill="#2430f8" filter="url(#b4)" transform="rotate(-20 56 55)"/>
<ellipse cx="47.2" cy="33.6" rx="5" ry="5" fill="#2a2ae0" filter="url(#b2)" opacity="0.85"/>
<ellipse cx="65" cy="33.6" rx="5" ry="5" fill="#2626c8" filter="url(#b2)" opacity="0.75"/>
<ellipse cx="78" cy="53.4" rx="9" ry="8" fill="#2a2ae8" filter="url(#b4)" opacity="0.8"/>
<ellipse cx="45" cy="76" rx="7" ry="6" fill="#2222c0" filter="url(#b3)" opacity="0.7"/>
<ellipse cx="66" cy="68" rx="10" ry="8" fill="#2828f0" filter="url(#b4)" opacity="0.85"/>
<ellipse cx="74" cy="38.5" rx="1.2" ry="1.2" fill="#3030ff" filter="url(#b1)"/>
<ellipse cx="32" cy="57" rx="1.2" ry="1.2" fill="#3030ff" filter="url(#b1)"/>
<ellipse cx="29.5" cy="29" rx="1" ry="1" fill="#3030d0" filter="url(#b1)"/>
</svg>
<svg x="869.00" y="931.80" width="111.40" height="110.80" viewBox="0 0 110 110" preserveAspectRatio="none" overflow="hidden">
<rect width="110" height="110" fill="#03021a"/>
<ellipse cx="54" cy="54" rx="36" ry="36" fill="#0c0c70" filter="url(#b6)" opacity="0.35"/>
<g fill="#2222f0" filter="url(#b1)" opacity="0.95"><ellipse cx="49.7" cy="80.6" rx="2.4" ry="2.2" transform="rotate(131 49.7 80.6)"/><ellipse cx="26.5" cy="60.7" rx="2.3" ry="2.3" transform="rotate(138 26.5 60.7)"/><ellipse cx="37.7" cy="51.4" rx="1.7" ry="1.6" transform="rotate(32 37.7 51.4)"/><ellipse cx="53.6" cy="87.8" rx="1.5" ry="1.5" transform="rotate(7 53.6 87.8)"/><ellipse cx="39.9" cy="73.7" rx="2.4" ry="1.6" transform="rotate(3 39.9 73.7)"/><ellipse cx="22.6" cy="68.0" rx="3.0" ry="2.5" transform="rotate(161 22.6 68.0)"/><ellipse cx="39.2" cy="46.1" rx="2.9" ry="2.1" transform="rotate(49 39.2 46.1)"/><ellipse cx="70.7" cy="32.5" rx="2.8" ry="1.7" transform="rotate(135 70.7 32.5)"/><ellipse cx="82.4" cy="28.1" rx="1.9" ry="1.6" transform="rotate(161 82.4 28.1)"/><ellipse cx="61.6" cy="87.6" rx="1.9" ry="1.6" transform="rotate(92 61.6 87.6)"/><ellipse cx="53.4" cy="61.9" rx="2.7" ry="1.9" transform="rotate(99 53.4 61.9)"/><ellipse cx="56.0" cy="69.4" rx="2.5" ry="1.9" transform="rotate(45 56.0 69.4)"/><ellipse cx="83.7" cy="70.8" rx="1.6" ry="1.1" transform="rotate(86 83.7 70.8)"/><ellipse cx="68.3" cy="50.9" rx="1.7" ry="1.4" transform="rotate(153 68.3 50.9)"/><ellipse cx="22.4" cy="61.4" rx="2.3" ry="1.7" transform="rotate(64 22.4 61.4)"/><ellipse cx="49.9" cy="34.9" rx="2.9" ry="2.3" transform="rotate(40 49.9 34.9)"/><ellipse cx="61.8" cy="77.3" rx="2.8" ry="1.8" transform="rotate(25 61.8 77.3)"/><ellipse cx="47.5" cy="59.3" rx="2.7" ry="2.4" transform="rotate(164 47.5 59.3)"/><ellipse cx="75.3" cy="66.8" rx="2.0" ry="1.6" transform="rotate(3 75.3 66.8)"/><ellipse cx="40.7" cy="54.4" rx="3.0" ry="1.8" transform="rotate(176 40.7 54.4)"/><ellipse cx="65.5" cy="26.7" rx="2.0" ry="1.6" transform="rotate(151 65.5 26.7)"/><ellipse cx="40.1" cy="66.4" rx="2.2" ry="1.6" transform="rotate(95 40.1 66.4)"/><ellipse cx="21.9" cy="55.8" rx="1.7" ry="1.2" transform="rotate(156 21.9 55.8)"/><ellipse cx="87.6" cy="38.3" rx="2.4" ry="2.3" transform="rotate(31 87.6 38.3)"/><ellipse cx="43.8" cy="49.9" rx="1.8" ry="1.7" transform="rotate(20 43.8 49.9)"/><ellipse cx="66.8" cy="57.0" rx="2.7" ry="2.2" transform="rotate(3 66.8 57.0)"/><ellipse cx="64.9" cy="84.2" rx="2.7" ry="2.6" transform="rotate(167 64.9 84.2)"/><ellipse cx="27.7" cy="69.7" rx="2.4" ry="1.8" transform="rotate(132 27.7 69.7)"/><ellipse cx="33.3" cy="33.0" rx="2.5" ry="2.0" transform="rotate(168 33.3 33.0)"/><ellipse cx="75.9" cy="85.6" rx="1.8" ry="1.5" transform="rotate(176 75.9 85.6)"/><ellipse cx="67.1" cy="67.6" rx="2.8" ry="2.4" transform="rotate(179 67.1 67.6)"/><ellipse cx="92.1" cy="48.0" rx="1.7" ry="1.5" transform="rotate(112 92.1 48.0)"/><ellipse cx="30.1" cy="76.0" rx="1.7" ry="1.1" transform="rotate(154 30.1 76.0)"/><ellipse cx="46.7" cy="79.0" rx="1.7" ry="1.7" transform="rotate(115 46.7 79.0)"/><ellipse cx="75.2" cy="36.8" rx="1.8" ry="1.6" transform="rotate(48 75.2 36.8)"/><ellipse cx="31.8" cy="54.0" rx="2.5" ry="2.1" transform="rotate(75 31.8 54.0)"/><ellipse cx="75.7" cy="63.0" rx="1.6" ry="1.2" transform="rotate(129 75.7 63.0)"/><ellipse cx="32.7" cy="37.9" rx="2.8" ry="1.9" transform="rotate(36 32.7 37.9)"/><ellipse cx="43.0" cy="79.1" rx="2.1" ry="1.5" transform="rotate(28 43.0 79.1)"/><ellipse cx="31.3" cy="60.6" rx="1.5" ry="1.0" transform="rotate(154 31.3 60.6)"/><ellipse cx="31.2" cy="78.9" rx="2.3" ry="1.6" transform="rotate(1 31.2 78.9)"/><ellipse cx="57.9" cy="31.3" rx="1.5" ry="1.0" transform="rotate(114 57.9 31.3)"/><ellipse cx="84.3" cy="39.9" rx="1.8" ry="1.5" transform="rotate(5 84.3 39.9)"/><ellipse cx="34.8" cy="29.5" rx="2.4" ry="1.8" transform="rotate(74 34.8 29.5)"/><ellipse cx="45.0" cy="31.0" rx="2.7" ry="2.6" transform="rotate(42 45.0 31.0)"/><ellipse cx="27.2" cy="33.5" rx="2.7" ry="2.4" transform="rotate(103 27.2 33.5)"/><ellipse cx="78.1" cy="25.4" rx="1.7" ry="1.2" transform="rotate(137 78.1 25.4)"/><ellipse cx="31.3" cy="72.9" rx="2.1" ry="1.3" transform="rotate(92 31.3 72.9)"/><ellipse cx="65.4" cy="39.1" rx="1.7" ry="1.5" transform="rotate(139 65.4 39.1)"/><ellipse cx="36.5" cy="61.2" rx="2.7" ry="1.8" transform="rotate(163 36.5 61.2)"/><ellipse cx="49.8" cy="41.3" rx="1.8" ry="1.6" transform="rotate(109 49.8 41.3)"/><ellipse cx="89.2" cy="67.8" rx="1.9" ry="1.4" transform="rotate(174 89.2 67.8)"/><ellipse cx="64.0" cy="72.2" rx="2.2" ry="1.7" transform="rotate(13 64.0 72.2)"/><ellipse cx="72.0" cy="81.0" rx="2.3" ry="1.8" transform="rotate(114 72.0 81.0)"/><ellipse cx="34.1" cy="85.3" rx="2.4" ry="2.1" transform="rotate(116 34.1 85.3)"/><ellipse cx="68.4" cy="46.1" rx="3.0" ry="1.9" transform="rotate(130 68.4 46.1)"/><ellipse cx="53.7" cy="57.7" rx="2.1" ry="1.6" transform="rotate(64 53.7 57.7)"/><ellipse cx="69.9" cy="27.4" rx="2.2" ry="1.4" transform="rotate(56 69.9 27.4)"/><ellipse cx="81.8" cy="59.1" rx="3.1" ry="2.4" transform="rotate(82 81.8 59.1)"/><ellipse cx="70.7" cy="21.6" rx="1.6" ry="1.5" transform="rotate(35 70.7 21.6)"/><ellipse cx="35.5" cy="44.3" rx="1.6" ry="1.5" transform="rotate(156 35.5 44.3)"/><ellipse cx="44.5" cy="83.0" rx="2.5" ry="1.8" transform="rotate(23 44.5 83.0)"/><ellipse cx="80.8" cy="39.7" rx="2.6" ry="1.6" transform="rotate(97 80.8 39.7)"/><ellipse cx="76.0" cy="53.6" rx="1.7" ry="1.4" transform="rotate(114 76.0 53.6)"/><ellipse cx="46.7" cy="86.8" rx="2.4" ry="1.6" transform="rotate(83 46.7 86.8)"/><ellipse cx="53.1" cy="16.6" rx="2.1" ry="1.7" transform="rotate(98 53.1 16.6)"/><ellipse cx="30.2" cy="24.2" rx="2.0" ry="1.8" transform="rotate(71 30.2 24.2)"/><ellipse cx="53.7" cy="92.3" rx="1.6" ry="1.1" transform="rotate(76 53.7 92.3)"/><ellipse cx="53.3" cy="84.2" rx="3.0" ry="2.7" transform="rotate(136 53.3 84.2)"/><ellipse cx="55.0" cy="78.8" rx="2.7" ry="2.5" transform="rotate(28 55.0 78.8)"/><ellipse cx="59.3" cy="59.2" rx="1.9" ry="1.9" transform="rotate(125 59.3 59.2)"/><ellipse cx="54.4" cy="25.7" rx="2.9" ry="2.6" transform="rotate(26 54.4 25.7)"/><ellipse cx="87.5" cy="50.1" rx="2.5" ry="1.6" transform="rotate(118 87.5 50.1)"/><ellipse cx="78.7" cy="72.5" rx="3.0" ry="2.5" transform="rotate(175 78.7 72.5)"/><ellipse cx="67.0" cy="17.0" rx="3.0" ry="2.1" transform="rotate(166 67.0 17.0)"/><ellipse cx="72.5" cy="69.1" rx="1.9" ry="1.3" transform="rotate(151 72.5 69.1)"/><ellipse cx="59.8" cy="51.6" rx="1.8" ry="1.5" transform="rotate(178 59.8 51.6)"/><ellipse cx="73.8" cy="73.8" rx="2.9" ry="2.1" transform="rotate(4 73.8 73.8)"/><ellipse cx="37.3" cy="70.0" rx="2.8" ry="1.8" transform="rotate(136 37.3 70.0)"/><ellipse cx="36.2" cy="40.6" rx="2.1" ry="1.3" transform="rotate(160 36.2 40.6)"/><ellipse cx="59.7" cy="23.3" rx="2.0" ry="1.4" transform="rotate(5 59.7 23.3)"/><ellipse cx="67.7" cy="78.1" rx="2.8" ry="2.0" transform="rotate(10 67.7 78.1)"/><ellipse cx="78.7" cy="66.9" rx="1.9" ry="1.5" transform="rotate(118 78.7 66.9)"/><ellipse cx="25.5" cy="55.5" rx="2.0" ry="1.5" transform="rotate(74 25.5 55.5)"/><ellipse cx="47.3" cy="63.3" rx="2.4" ry="2.4" transform="rotate(75 47.3 63.3)"/><ellipse cx="38.6" cy="82.7" rx="2.6" ry="1.7" transform="rotate(111 38.6 82.7)"/><ellipse cx="45.2" cy="42.1" rx="2.6" ry="1.8" transform="rotate(129 45.2 42.1)"/><ellipse cx="27.5" cy="47.9" rx="2.1" ry="1.3" transform="rotate(140 27.5 47.9)"/><ellipse cx="75.9" cy="40.4" rx="2.8" ry="2.6" transform="rotate(169 75.9 40.4)"/><ellipse cx="82.8" cy="74.9" rx="2.3" ry="2.1" transform="rotate(21 82.8 74.9)"/><ellipse cx="39.1" cy="22.0" rx="2.5" ry="1.9" transform="rotate(115 39.1 22.0)"/><ellipse cx="23.7" cy="73.4" rx="2.9" ry="2.6" transform="rotate(51 23.7 73.4)"/><ellipse cx="52.1" cy="75.9" rx="1.7" ry="1.6" transform="rotate(28 52.1 75.9)"/><ellipse cx="65.6" cy="22.4" rx="2.3" ry="2.0" transform="rotate(164 65.6 22.4)"/><ellipse cx="89.8" cy="53.7" rx="2.8" ry="1.7" transform="rotate(4 89.8 53.7)"/></g>
<g fill="#2828ff" filter="url(#b1)"><ellipse cx="49.5" cy="49.4" rx="1.8" ry="1.0" transform="rotate(179 49.5 49.4)"/><ellipse cx="48.8" cy="60.6" rx="2.8" ry="2.5" transform="rotate(134 48.8 60.6)"/><ellipse cx="50.5" cy="53.1" rx="2.2" ry="2.1" transform="rotate(69 50.5 53.1)"/><ellipse cx="32.9" cy="59.1" rx="2.2" ry="1.9" transform="rotate(74 32.9 59.1)"/><ellipse cx="40.7" cy="63.8" rx="1.6" ry="1.4" transform="rotate(168 40.7 63.8)"/><ellipse cx="39.7" cy="55.6" rx="2.8" ry="2.0" transform="rotate(119 39.7 55.6)"/><ellipse cx="42.6" cy="67.9" rx="2.8" ry="2.4" transform="rotate(101 42.6 67.9)"/><ellipse cx="55.9" cy="56.0" rx="2.8" ry="2.0" transform="rotate(30 55.9 56.0)"/><ellipse cx="42.5" cy="49.2" rx="1.6" ry="1.0" transform="rotate(80 42.5 49.2)"/><ellipse cx="39.7" cy="45.1" rx="1.7" ry="1.2" transform="rotate(66 39.7 45.1)"/><ellipse cx="36.6" cy="59.5" rx="2.5" ry="1.7" transform="rotate(161 36.6 59.5)"/><ellipse cx="45.6" cy="67.4" rx="1.7" ry="1.4" transform="rotate(38 45.6 67.4)"/><ellipse cx="46.2" cy="52.4" rx="1.8" ry="1.0" transform="rotate(170 46.2 52.4)"/><ellipse cx="47.4" cy="50.5" rx="1.8" ry="1.5" transform="rotate(42 47.4 50.5)"/></g>
</svg>
<svg x="983.50" y="931.80" width="111.40" height="110.80" viewBox="0 0 110 110" preserveAspectRatio="none" overflow="hidden">
<rect width="110" height="110" fill="#08083a"/>
<ellipse cx="54.9" cy="53.4" rx="36" ry="36" fill="#1a1e9c" filter="url(#b4)" opacity="0.6"/>
<g fill="#2830d8" filter="url(#b2)" opacity="0.6"><ellipse cx="22.6" cy="55.8" rx="1.8" ry="1.2" transform="rotate(157 22.6 55.8)"/><ellipse cx="49.4" cy="60.5" rx="2.7" ry="2.5" transform="rotate(82 49.4 60.5)"/><ellipse cx="62.3" cy="73.6" rx="3.0" ry="2.9" transform="rotate(49 62.3 73.6)"/><ellipse cx="67.9" cy="59.7" rx="2.1" ry="1.4" transform="rotate(88 67.9 59.7)"/><ellipse cx="64.1" cy="32.0" rx="2.7" ry="2.2" transform="rotate(174 64.1 32.0)"/><ellipse cx="68.6" cy="44.9" rx="2.4" ry="1.8" transform="rotate(137 68.6 44.9)"/><ellipse cx="70.5" cy="82.6" rx="1.6" ry="1.1" transform="rotate(175 70.5 82.6)"/><ellipse cx="55.9" cy="33.7" rx="2.6" ry="2.2" transform="rotate(146 55.9 33.7)"/><ellipse cx="68.1" cy="87.0" rx="2.1" ry="1.7" transform="rotate(110 68.1 87.0)"/><ellipse cx="22.5" cy="64.8" rx="2.6" ry="1.7" transform="rotate(174 22.5 64.8)"/><ellipse cx="47.7" cy="70.6" rx="3.1" ry="2.6" transform="rotate(110 47.7 70.6)"/><ellipse cx="49.4" cy="27.0" rx="2.5" ry="2.0" transform="rotate(174 49.4 27.0)"/><ellipse cx="66.0" cy="48.9" rx="2.2" ry="1.7" transform="rotate(123 66.0 48.9)"/><ellipse cx="65.9" cy="28.1" rx="2.7" ry="2.4" transform="rotate(165 65.9 28.1)"/><ellipse cx="41.7" cy="34.3" rx="2.6" ry="2.5" transform="rotate(32 41.7 34.3)"/><ellipse cx="24.2" cy="70.1" rx="2.1" ry="1.6" transform="rotate(28 24.2 70.1)"/><ellipse cx="54.2" cy="75.2" rx="1.9" ry="1.4" transform="rotate(41 54.2 75.2)"/><ellipse cx="35.1" cy="36.8" rx="1.7" ry="1.0" transform="rotate(144 35.1 36.8)"/><ellipse cx="54.7" cy="88.8" rx="2.1" ry="1.4" transform="rotate(172 54.7 88.8)"/><ellipse cx="82.4" cy="49.9" rx="2.0" ry="1.6" transform="rotate(10 82.4 49.9)"/><ellipse cx="38.2" cy="45.6" rx="2.9" ry="2.8" transform="rotate(117 38.2 45.6)"/><ellipse cx="77.9" cy="58.2" rx="2.7" ry="2.4" transform="rotate(40 77.9 58.2)"/><ellipse cx="54.0" cy="43.5" rx="1.7" ry="1.1" transform="rotate(26 54.0 43.5)"/><ellipse cx="29.2" cy="62.8" rx="2.4" ry="1.8" transform="rotate(44 29.2 62.8)"/><ellipse cx="71.9" cy="61.8" rx="2.8" ry="2.1" transform="rotate(142 71.9 61.8)"/><ellipse cx="21.3" cy="50.2" rx="1.7" ry="1.5" transform="rotate(63 21.3 50.2)"/><ellipse cx="87.3" cy="63.0" rx="3.2" ry="2.2" transform="rotate(168 87.3 63.0)"/><ellipse cx="79.6" cy="77.5" rx="2.6" ry="2.3" transform="rotate(45 79.6 77.5)"/><ellipse cx="57.5" cy="82.9" rx="3.0" ry="2.7" transform="rotate(37 57.5 82.9)"/><ellipse cx="35.3" cy="27.9" rx="2.9" ry="2.3" transform="rotate(26 35.3 27.9)"/><ellipse cx="23.2" cy="44.4" rx="3.1" ry="2.1" transform="rotate(68 23.2 44.4)"/><ellipse cx="75.3" cy="53.5" rx="2.0" ry="1.5" transform="rotate(46 75.3 53.5)"/><ellipse cx="37.4" cy="78.7" rx="2.4" ry="2.2" transform="rotate(5 37.4 78.7)"/><ellipse cx="73.7" cy="44.9" rx="3.1" ry="2.3" transform="rotate(143 73.7 44.9)"/><ellipse cx="40.0" cy="24.8" rx="3.3" ry="3.0" transform="rotate(35 40.0 24.8)"/><ellipse cx="49.2" cy="32.0" rx="2.1" ry="1.4" transform="rotate(32 49.2 32.0)"/><ellipse cx="47.6" cy="43.3" rx="2.4" ry="1.6" transform="rotate(154 47.6 43.3)"/><ellipse cx="25.6" cy="48.8" rx="1.8" ry="1.3" transform="rotate(66 25.6 48.8)"/><ellipse cx="69.9" cy="50.1" rx="2.2" ry="1.5" transform="rotate(66 69.9 50.1)"/><ellipse cx="80.8" cy="67.9" rx="1.6" ry="1.0" transform="rotate(168 80.8 67.9)"/><ellipse cx="59.3" cy="47.2" rx="2.7" ry="2.4" transform="rotate(18 59.3 47.2)"/><ellipse cx="69.2" cy="38.1" rx="2.4" ry="2.4" transform="rotate(148 69.2 38.1)"/><ellipse cx="83.9" cy="39.5" rx="3.1" ry="2.5" transform="rotate(128 83.9 39.5)"/><ellipse cx="26.9" cy="39.4" rx="3.1" ry="2.5" transform="rotate(135 26.9 39.4)"/><ellipse cx="64.5" cy="84.0" rx="2.3" ry="2.1" transform="rotate(155 64.5 84.0)"/><ellipse cx="59.2" cy="29.8" rx="3.0" ry="2.1" transform="rotate(145 59.2 29.8)"/><ellipse cx="28.0" cy="70.3" rx="2.0" ry="1.8" transform="rotate(110 28.0 70.3)"/><ellipse cx="44.1" cy="36.9" rx="1.7" ry="1.5" transform="rotate(87 44.1 36.9)"/><ellipse cx="82.2" cy="63.9" rx="2.0" ry="1.7" transform="rotate(167 82.2 63.9)"/><ellipse cx="48.0" cy="81.8" rx="2.9" ry="2.0" transform="rotate(178 48.0 81.8)"/><ellipse cx="57.6" cy="65.8" rx="3.2" ry="2.5" transform="rotate(170 57.6 65.8)"/><ellipse cx="26.7" cy="54.8" rx="1.8" ry="1.4" transform="rotate(63 26.7 54.8)"/><ellipse cx="74.9" cy="25.7" rx="1.8" ry="1.3" transform="rotate(174 74.9 25.7)"/><ellipse cx="76.8" cy="71.0" rx="1.9" ry="1.8" transform="rotate(130 76.8 71.0)"/><ellipse cx="84.6" cy="71.8" rx="2.2" ry="1.8" transform="rotate(120 84.6 71.8)"/><ellipse cx="52.2" cy="50.5" rx="2.6" ry="2.3" transform="rotate(118 52.2 50.5)"/><ellipse cx="72.1" cy="34.2" rx="2.7" ry="1.8" transform="rotate(49 72.1 34.2)"/><ellipse cx="40.9" cy="58.3" rx="2.8" ry="2.2" transform="rotate(50 40.9 58.3)"/><ellipse cx="60.6" cy="85.6" rx="1.8" ry="1.3" transform="rotate(61 60.6 85.6)"/><ellipse cx="69.7" cy="75.9" rx="2.1" ry="1.8" transform="rotate(151 69.7 75.9)"/><ellipse cx="47.6" cy="22.9" rx="2.4" ry="1.7" transform="rotate(10 47.6 22.9)"/><ellipse cx="56.3" cy="56.3" rx="2.3" ry="1.9" transform="rotate(5 56.3 56.3)"/><ellipse cx="76.9" cy="66.3" rx="2.3" ry="2.0" transform="rotate(145 76.9 66.3)"/><ellipse cx="44.1" cy="28.9" rx="2.0" ry="1.5" transform="rotate(22 44.1 28.9)"/><ellipse cx="33.1" cy="54.5" rx="2.2" ry="1.4" transform="rotate(47 33.1 54.5)"/><ellipse cx="34.2" cy="42.0" rx="2.9" ry="2.2" transform="rotate(140 34.2 42.0)"/><ellipse cx="29.3" cy="44.6" rx="2.7" ry="2.2" transform="rotate(5 29.3 44.6)"/><ellipse cx="69.0" cy="30.9" rx="2.2" ry="2.0" transform="rotate(41 69.0 30.9)"/><ellipse cx="44.7" cy="85.5" rx="2.3" ry="1.9" transform="rotate(21 44.7 85.5)"/><ellipse cx="22.9" cy="59.6" rx="2.2" ry="2.1" transform="rotate(70 22.9 59.6)"/><ellipse cx="63.1" cy="37.7" rx="2.2" ry="1.5" transform="rotate(5 63.1 37.7)"/><ellipse cx="72.9" cy="85.2" rx="1.9" ry="1.8" transform="rotate(97 72.9 85.2)"/><ellipse cx="74.9" cy="40.2" rx="2.9" ry="1.9" transform="rotate(81 74.9 40.2)"/><ellipse cx="31.7" cy="48.6" rx="2.6" ry="2.6" transform="rotate(78 31.7 48.6)"/><ellipse cx="70.6" cy="70.9" rx="1.9" ry="1.2" transform="rotate(176 70.6 70.9)"/><ellipse cx="89.0" cy="51.9" rx="2.4" ry="1.7" transform="rotate(79 89.0 51.9)"/><ellipse cx="59.6" cy="35.7" rx="1.8" ry="1.6" transform="rotate(56 59.6 35.7)"/><ellipse cx="82.5" cy="45.3" rx="2.6" ry="1.6" transform="rotate(23 82.5 45.3)"/><ellipse cx="40.9" cy="72.2" rx="2.9" ry="2.7" transform="rotate(87 40.9 72.2)"/><ellipse cx="36.1" cy="33.3" rx="2.8" ry="1.9" transform="rotate(134 36.1 33.3)"/><ellipse cx="47.6" cy="51.9" rx="2.0" ry="2.0" transform="rotate(37 47.6 51.9)"/><ellipse cx="87.0" cy="56.0" rx="3.2" ry="2.5" transform="rotate(27 87.0 56.0)"/><ellipse cx="78.9" cy="37.0" rx="2.8" ry="2.5" transform="rotate(58 78.9 37.0)"/><ellipse cx="36.5" cy="59.1" rx="2.3" ry="1.5" transform="rotate(63 36.5 59.1)"/><ellipse cx="43.6" cy="78.6" rx="1.7" ry="1.5" transform="rotate(167 43.6 78.6)"/></g>
</svg>
<svg x="69.40" y="1048.00" width="110.40" height="110.70" viewBox="0 0 110 110" preserveAspectRatio="none" overflow="hidden">
<rect width="110" height="110" fill="#0b1207"/>
</svg>
<svg x="182.90" y="1048.00" width="110.70" height="110.70" viewBox="0 0 110 110" preserveAspectRatio="none" overflow="hidden">
<rect width="110" height="110" fill="#0c1608"/>
<ellipse cx="63" cy="35" rx="25" ry="25" fill="#2a4e18" filter="url(#b4)" opacity="0.62"/>
<ellipse cx="51" cy="64" rx="25" ry="25" fill="#2a4e18" filter="url(#b4)" opacity="0.62"/>
<ellipse cx="61" cy="37" rx="8" ry="6" fill="#4a8a26" filter="url(#b3)" opacity="0.8"/>
<ellipse cx="50.5" cy="69" rx="8" ry="7.5" fill="#4a8a26" filter="url(#b3)" opacity="0.8"/>
</svg>
<svg x="297.30" y="1048.00" width="110.70" height="110.70" viewBox="0 0 110 110" preserveAspectRatio="none" overflow="hidden">
<rect width="110" height="110" fill="#070d03"/>
<ellipse cx="54" cy="33.5" rx="26" ry="26" fill="#20421a" filter="url(#b4)" opacity="0.55"/>
<ellipse cx="52.8" cy="64.8" rx="26" ry="26" fill="#20421a" filter="url(#b4)" opacity="0.55"/>
<ellipse cx="54" cy="26" rx="8" ry="6" fill="#3c7a26" filter="url(#b3)" opacity="0.6"/>
<ellipse cx="60" cy="62" rx="9" ry="7" fill="#356e22" filter="url(#b3)" opacity="0.5"/>
<ellipse cx="31.5" cy="52.5" rx="1.2" ry="1.2" fill="#5a9a4a" filter="url(#b1)"/>
<ellipse cx="67" cy="60" rx="1.0" ry="1.0" fill="#5a9a4a" filter="url(#b1)"/>
</svg>
<svg x="411.80" y="1048.00" width="110.70" height="110.70" viewBox="0 0 110 110" preserveAspectRatio="none" overflow="hidden">
<rect width="110" height="110" fill="#070d03"/>
<ellipse cx="52.3" cy="55.7" rx="42" ry="42" fill="#1e4018" filter="url(#b4)" opacity="0.62"/>
<ellipse cx="47.7" cy="32.2" rx="7.2" ry="7.2" fill="#448428" filter="url(#b2)" opacity="0.8"/>
<ellipse cx="75.7" cy="46.6" rx="7.2" ry="7.2" fill="#448428" filter="url(#b2)" opacity="0.8"/>
<ellipse cx="30.8" cy="60.9" rx="7.5" ry="7.5" fill="#448428" filter="url(#b2)" opacity="0.8"/>
<ellipse cx="54.2" cy="81.7" rx="7.2" ry="7.2" fill="#4e962e" filter="url(#b2)" opacity="0.9"/>
<ellipse cx="86.5" cy="38" rx="1.0" ry="1.0" fill="#7ab070" filter="url(#b1)"/>
<ellipse cx="71" cy="92" rx="1.0" ry="1.0" fill="#7ab070" filter="url(#b1)"/>
</svg>
<svg x="526.20" y="1048.00" width="110.50" height="110.70" viewBox="0 0 110 110" preserveAspectRatio="none" overflow="hidden">
<rect width="110" height="110" fill="#020202"/>
<ellipse cx="58.3" cy="53" rx="38" ry="38" fill="#1a3a10" filter="url(#b4)" opacity="0.72"/>
<ellipse cx="50.5" cy="27.7" rx="7.5" ry="7.5" fill="#306a26" filter="url(#b2)" opacity="0.75"/>
<ellipse cx="79.7" cy="56.3" rx="7.5" ry="7.5" fill="#306a26" filter="url(#b2)" opacity="0.75"/>
<ellipse cx="48.5" cy="69.3" rx="7.5" ry="7.5" fill="#306a26" filter="url(#b2)" opacity="0.75"/>
<ellipse cx="34.9" cy="71.3" rx="7.2" ry="7.2" fill="#306a26" filter="url(#b2)" opacity="0.75"/>
</svg>
<svg x="640.80" y="1048.00" width="110.00" height="110.70" viewBox="0 0 110 110" preserveAspectRatio="none" overflow="hidden">
<rect width="110" height="110" fill="#020202"/>
<ellipse cx="54.9" cy="52.3" rx="36" ry="36" fill="#1f4214" filter="url(#b4)" opacity="0.72"/>
<ellipse cx="50" cy="30" rx="16" ry="14" fill="#2a5a1c" filter="url(#b4)" opacity="0.5"/>
<ellipse cx="49" cy="50" rx="2" ry="5" fill="#48902c" filter="url(#b1)" opacity="0.8" transform="rotate(20 49 50)"/>
<ellipse cx="71.5" cy="63.3" rx="1.6" ry="1.6" fill="#9aff80" filter="url(#b1)"/>
</svg>
<svg x="755.20" y="1048.00" width="110.10" height="110.70" viewBox="0 0 110 110" preserveAspectRatio="none" overflow="hidden">
<rect width="110" height="110" fill="#020302"/>
<ellipse cx="56" cy="57" rx="36" ry="34" fill="#21481a" filter="url(#b4)" opacity="0.7"/>
<ellipse cx="45" cy="45" rx="18" ry="18" fill="#2c5c1e" filter="url(#b5)" opacity="0.35"/>
<ellipse cx="67" cy="87.5" rx="1.5" ry="1.5" fill="#7ae040" filter="url(#b1)"/>
<ellipse cx="72" cy="31" rx="1" ry="1" fill="#5aa040" filter="url(#b1)"/>
<ellipse cx="78" cy="37" rx="1" ry="1" fill="#5aa040" filter="url(#b1)"/>
</svg>
<svg x="869.00" y="1048.00" width="111.40" height="110.70" viewBox="0 0 110 110" preserveAspectRatio="none" overflow="hidden">
<rect width="110" height="110" fill="#080f06"/>
<ellipse cx="54.7" cy="53" rx="37" ry="37" fill="#1c3c14" filter="url(#b5)" opacity="0.75"/>
<g fill="#6ed032" filter="url(#b1)" opacity="0.95"><ellipse cx="49.7" cy="80.6" rx="2.4" ry="2.2" transform="rotate(131 49.7 80.6)"/><ellipse cx="26.5" cy="60.7" rx="2.3" ry="2.3" transform="rotate(138 26.5 60.7)"/><ellipse cx="37.7" cy="51.4" rx="1.7" ry="1.6" transform="rotate(32 37.7 51.4)"/><ellipse cx="53.6" cy="87.8" rx="1.5" ry="1.5" transform="rotate(7 53.6 87.8)"/><ellipse cx="39.9" cy="73.7" rx="2.4" ry="1.6" transform="rotate(3 39.9 73.7)"/><ellipse cx="22.6" cy="68.0" rx="3.0" ry="2.5" transform="rotate(161 22.6 68.0)"/><ellipse cx="39.2" cy="46.1" rx="2.9" ry="2.1" transform="rotate(49 39.2 46.1)"/><ellipse cx="70.7" cy="32.5" rx="2.8" ry="1.7" transform="rotate(135 70.7 32.5)"/><ellipse cx="82.4" cy="28.1" rx="1.9" ry="1.6" transform="rotate(161 82.4 28.1)"/><ellipse cx="61.6" cy="87.6" rx="1.9" ry="1.6" transform="rotate(92 61.6 87.6)"/><ellipse cx="53.4" cy="61.9" rx="2.7" ry="1.9" transform="rotate(99 53.4 61.9)"/><ellipse cx="56.0" cy="69.4" rx="2.5" ry="1.9" transform="rotate(45 56.0 69.4)"/><ellipse cx="83.7" cy="70.8" rx="1.6" ry="1.1" transform="rotate(86 83.7 70.8)"/><ellipse cx="68.3" cy="50.9" rx="1.7" ry="1.4" transform="rotate(153 68.3 50.9)"/><ellipse cx="22.4" cy="61.4" rx="2.3" ry="1.7" transform="rotate(64 22.4 61.4)"/><ellipse cx="49.9" cy="34.9" rx="2.9" ry="2.3" transform="rotate(40 49.9 34.9)"/><ellipse cx="61.8" cy="77.3" rx="2.8" ry="1.8" transform="rotate(25 61.8 77.3)"/><ellipse cx="47.5" cy="59.3" rx="2.7" ry="2.4" transform="rotate(164 47.5 59.3)"/><ellipse cx="75.3" cy="66.8" rx="2.0" ry="1.6" transform="rotate(3 75.3 66.8)"/><ellipse cx="40.7" cy="54.4" rx="3.0" ry="1.8" transform="rotate(176 40.7 54.4)"/><ellipse cx="65.5" cy="26.7" rx="2.0" ry="1.6" transform="rotate(151 65.5 26.7)"/><ellipse cx="40.1" cy="66.4" rx="2.2" ry="1.6" transform="rotate(95 40.1 66.4)"/><ellipse cx="21.9" cy="55.8" rx="1.7" ry="1.2" transform="rotate(156 21.9 55.8)"/><ellipse cx="87.6" cy="38.3" rx="2.4" ry="2.3" transform="rotate(31 87.6 38.3)"/><ellipse cx="43.8" cy="49.9" rx="1.8" ry="1.7" transform="rotate(20 43.8 49.9)"/><ellipse cx="66.8" cy="57.0" rx="2.7" ry="2.2" transform="rotate(3 66.8 57.0)"/><ellipse cx="64.9" cy="84.2" rx="2.7" ry="2.6" transform="rotate(167 64.9 84.2)"/><ellipse cx="27.7" cy="69.7" rx="2.4" ry="1.8" transform="rotate(132 27.7 69.7)"/><ellipse cx="33.3" cy="33.0" rx="2.5" ry="2.0" transform="rotate(168 33.3 33.0)"/><ellipse cx="75.9" cy="85.6" rx="1.8" ry="1.5" transform="rotate(176 75.9 85.6)"/><ellipse cx="67.1" cy="67.6" rx="2.8" ry="2.4" transform="rotate(179 67.1 67.6)"/><ellipse cx="92.1" cy="48.0" rx="1.7" ry="1.5" transform="rotate(112 92.1 48.0)"/><ellipse cx="30.1" cy="76.0" rx="1.7" ry="1.1" transform="rotate(154 30.1 76.0)"/><ellipse cx="46.7" cy="79.0" rx="1.7" ry="1.7" transform="rotate(115 46.7 79.0)"/><ellipse cx="75.2" cy="36.8" rx="1.8" ry="1.6" transform="rotate(48 75.2 36.8)"/><ellipse cx="31.8" cy="54.0" rx="2.5" ry="2.1" transform="rotate(75 31.8 54.0)"/><ellipse cx="75.7" cy="63.0" rx="1.6" ry="1.2" transform="rotate(129 75.7 63.0)"/><ellipse cx="32.7" cy="37.9" rx="2.8" ry="1.9" transform="rotate(36 32.7 37.9)"/><ellipse cx="43.0" cy="79.1" rx="2.1" ry="1.5" transform="rotate(28 43.0 79.1)"/><ellipse cx="31.3" cy="60.6" rx="1.5" ry="1.0" transform="rotate(154 31.3 60.6)"/><ellipse cx="31.2" cy="78.9" rx="2.3" ry="1.6" transform="rotate(1 31.2 78.9)"/><ellipse cx="57.9" cy="31.3" rx="1.5" ry="1.0" transform="rotate(114 57.9 31.3)"/><ellipse cx="84.3" cy="39.9" rx="1.8" ry="1.5" transform="rotate(5 84.3 39.9)"/><ellipse cx="34.8" cy="29.5" rx="2.4" ry="1.8" transform="rotate(74 34.8 29.5)"/><ellipse cx="45.0" cy="31.0" rx="2.7" ry="2.6" transform="rotate(42 45.0 31.0)"/><ellipse cx="27.2" cy="33.5" rx="2.7" ry="2.4" transform="rotate(103 27.2 33.5)"/><ellipse cx="78.1" cy="25.4" rx="1.7" ry="1.2" transform="rotate(137 78.1 25.4)"/><ellipse cx="31.3" cy="72.9" rx="2.1" ry="1.3" transform="rotate(92 31.3 72.9)"/><ellipse cx="65.4" cy="39.1" rx="1.7" ry="1.5" transform="rotate(139 65.4 39.1)"/><ellipse cx="36.5" cy="61.2" rx="2.7" ry="1.8" transform="rotate(163 36.5 61.2)"/><ellipse cx="49.8" cy="41.3" rx="1.8" ry="1.6" transform="rotate(109 49.8 41.3)"/><ellipse cx="89.2" cy="67.8" rx="1.9" ry="1.4" transform="rotate(174 89.2 67.8)"/><ellipse cx="64.0" cy="72.2" rx="2.2" ry="1.7" transform="rotate(13 64.0 72.2)"/><ellipse cx="72.0" cy="81.0" rx="2.3" ry="1.8" transform="rotate(114 72.0 81.0)"/><ellipse cx="34.1" cy="85.3" rx="2.4" ry="2.1" transform="rotate(116 34.1 85.3)"/><ellipse cx="68.4" cy="46.1" rx="3.0" ry="1.9" transform="rotate(130 68.4 46.1)"/><ellipse cx="53.7" cy="57.7" rx="2.1" ry="1.6" transform="rotate(64 53.7 57.7)"/><ellipse cx="69.9" cy="27.4" rx="2.2" ry="1.4" transform="rotate(56 69.9 27.4)"/><ellipse cx="81.8" cy="59.1" rx="3.1" ry="2.4" transform="rotate(82 81.8 59.1)"/><ellipse cx="70.7" cy="21.6" rx="1.6" ry="1.5" transform="rotate(35 70.7 21.6)"/><ellipse cx="35.5" cy="44.3" rx="1.6" ry="1.5" transform="rotate(156 35.5 44.3)"/><ellipse cx="44.5" cy="83.0" rx="2.5" ry="1.8" transform="rotate(23 44.5 83.0)"/><ellipse cx="80.8" cy="39.7" rx="2.6" ry="1.6" transform="rotate(97 80.8 39.7)"/><ellipse cx="76.0" cy="53.6" rx="1.7" ry="1.4" transform="rotate(114 76.0 53.6)"/><ellipse cx="46.7" cy="86.8" rx="2.4" ry="1.6" transform="rotate(83 46.7 86.8)"/><ellipse cx="53.1" cy="16.6" rx="2.1" ry="1.7" transform="rotate(98 53.1 16.6)"/><ellipse cx="30.2" cy="24.2" rx="2.0" ry="1.8" transform="rotate(71 30.2 24.2)"/><ellipse cx="53.7" cy="92.3" rx="1.6" ry="1.1" transform="rotate(76 53.7 92.3)"/><ellipse cx="53.3" cy="84.2" rx="3.0" ry="2.7" transform="rotate(136 53.3 84.2)"/><ellipse cx="55.0" cy="78.8" rx="2.7" ry="2.5" transform="rotate(28 55.0 78.8)"/><ellipse cx="59.3" cy="59.2" rx="1.9" ry="1.9" transform="rotate(125 59.3 59.2)"/><ellipse cx="54.4" cy="25.7" rx="2.9" ry="2.6" transform="rotate(26 54.4 25.7)"/><ellipse cx="87.5" cy="50.1" rx="2.5" ry="1.6" transform="rotate(118 87.5 50.1)"/><ellipse cx="78.7" cy="72.5" rx="3.0" ry="2.5" transform="rotate(175 78.7 72.5)"/><ellipse cx="67.0" cy="17.0" rx="3.0" ry="2.1" transform="rotate(166 67.0 17.0)"/><ellipse cx="72.5" cy="69.1" rx="1.9" ry="1.3" transform="rotate(151 72.5 69.1)"/><ellipse cx="59.8" cy="51.6" rx="1.8" ry="1.5" transform="rotate(178 59.8 51.6)"/><ellipse cx="73.8" cy="73.8" rx="2.9" ry="2.1" transform="rotate(4 73.8 73.8)"/><ellipse cx="37.3" cy="70.0" rx="2.8" ry="1.8" transform="rotate(136 37.3 70.0)"/><ellipse cx="36.2" cy="40.6" rx="2.1" ry="1.3" transform="rotate(160 36.2 40.6)"/><ellipse cx="59.7" cy="23.3" rx="2.0" ry="1.4" transform="rotate(5 59.7 23.3)"/><ellipse cx="67.7" cy="78.1" rx="2.8" ry="2.0" transform="rotate(10 67.7 78.1)"/><ellipse cx="78.7" cy="66.9" rx="1.9" ry="1.5" transform="rotate(118 78.7 66.9)"/><ellipse cx="25.5" cy="55.5" rx="2.0" ry="1.5" transform="rotate(74 25.5 55.5)"/><ellipse cx="47.3" cy="63.3" rx="2.4" ry="2.4" transform="rotate(75 47.3 63.3)"/><ellipse cx="38.6" cy="82.7" rx="2.6" ry="1.7" transform="rotate(111 38.6 82.7)"/><ellipse cx="45.2" cy="42.1" rx="2.6" ry="1.8" transform="rotate(129 45.2 42.1)"/><ellipse cx="27.5" cy="47.9" rx="2.1" ry="1.3" transform="rotate(140 27.5 47.9)"/><ellipse cx="75.9" cy="40.4" rx="2.8" ry="2.6" transform="rotate(169 75.9 40.4)"/><ellipse cx="82.8" cy="74.9" rx="2.3" ry="2.1" transform="rotate(21 82.8 74.9)"/><ellipse cx="39.1" cy="22.0" rx="2.5" ry="1.9" transform="rotate(115 39.1 22.0)"/><ellipse cx="23.7" cy="73.4" rx="2.9" ry="2.6" transform="rotate(51 23.7 73.4)"/><ellipse cx="52.1" cy="75.9" rx="1.7" ry="1.6" transform="rotate(28 52.1 75.9)"/><ellipse cx="65.6" cy="22.4" rx="2.3" ry="2.0" transform="rotate(164 65.6 22.4)"/><ellipse cx="89.8" cy="53.7" rx="2.8" ry="1.7" transform="rotate(4 89.8 53.7)"/></g>
<g fill="#84e83a" filter="url(#b1)"><ellipse cx="49.5" cy="49.4" rx="1.8" ry="1.0" transform="rotate(179 49.5 49.4)"/><ellipse cx="48.8" cy="60.6" rx="2.8" ry="2.5" transform="rotate(134 48.8 60.6)"/><ellipse cx="50.5" cy="53.1" rx="2.2" ry="2.1" transform="rotate(69 50.5 53.1)"/><ellipse cx="32.9" cy="59.1" rx="2.2" ry="1.9" transform="rotate(74 32.9 59.1)"/><ellipse cx="40.7" cy="63.8" rx="1.6" ry="1.4" transform="rotate(168 40.7 63.8)"/><ellipse cx="39.7" cy="55.6" rx="2.8" ry="2.0" transform="rotate(119 39.7 55.6)"/><ellipse cx="42.6" cy="67.9" rx="2.8" ry="2.4" transform="rotate(101 42.6 67.9)"/><ellipse cx="55.9" cy="56.0" rx="2.8" ry="2.0" transform="rotate(30 55.9 56.0)"/><ellipse cx="42.5" cy="49.2" rx="1.6" ry="1.0" transform="rotate(80 42.5 49.2)"/><ellipse cx="39.7" cy="45.1" rx="1.7" ry="1.2" transform="rotate(66 39.7 45.1)"/><ellipse cx="36.6" cy="59.5" rx="2.5" ry="1.7" transform="rotate(161 36.6 59.5)"/><ellipse cx="45.6" cy="67.4" rx="1.7" ry="1.4" transform="rotate(38 45.6 67.4)"/><ellipse cx="46.2" cy="52.4" rx="1.8" ry="1.0" transform="rotate(170 46.2 52.4)"/><ellipse cx="47.4" cy="50.5" rx="1.8" ry="1.5" transform="rotate(42 47.4 50.5)"/></g>
</svg>
<svg x="983.50" y="1048.00" width="111.40" height="110.70" viewBox="0 0 110 110" preserveAspectRatio="none" overflow="hidden">
<rect width="110" height="110" fill="#020402"/>
<ellipse cx="55" cy="55" rx="36" ry="36" fill="#1c4012" filter="url(#b5)" opacity="0.7"/>
<g fill="#78dc30" filter="url(#b1)" opacity="0.97"><ellipse cx="22.6" cy="55.8" rx="1.8" ry="1.2" transform="rotate(157 22.6 55.8)"/><ellipse cx="49.4" cy="60.5" rx="2.7" ry="2.5" transform="rotate(82 49.4 60.5)"/><ellipse cx="62.3" cy="73.6" rx="3.0" ry="2.9" transform="rotate(49 62.3 73.6)"/><ellipse cx="67.9" cy="59.7" rx="2.1" ry="1.4" transform="rotate(88 67.9 59.7)"/><ellipse cx="64.1" cy="32.0" rx="2.7" ry="2.2" transform="rotate(174 64.1 32.0)"/><ellipse cx="68.6" cy="44.9" rx="2.4" ry="1.7" transform="rotate(137 68.6 44.9)"/><ellipse cx="70.5" cy="82.6" rx="1.6" ry="1.0" transform="rotate(175 70.5 82.6)"/><ellipse cx="55.9" cy="33.7" rx="2.6" ry="2.1" transform="rotate(146 55.9 33.7)"/><ellipse cx="68.1" cy="87.0" rx="2.1" ry="1.6" transform="rotate(110 68.1 87.0)"/><ellipse cx="22.5" cy="64.8" rx="2.6" ry="1.6" transform="rotate(174 22.5 64.8)"/><ellipse cx="47.7" cy="70.6" rx="3.1" ry="2.5" transform="rotate(110 47.7 70.6)"/><ellipse cx="49.4" cy="27.0" rx="2.5" ry="1.9" transform="rotate(174 49.4 27.0)"/><ellipse cx="66.0" cy="48.9" rx="2.2" ry="1.7" transform="rotate(123 66.0 48.9)"/><ellipse cx="65.9" cy="28.1" rx="2.7" ry="2.3" transform="rotate(165 65.9 28.1)"/><ellipse cx="41.7" cy="34.3" rx="2.6" ry="2.4" transform="rotate(32 41.7 34.3)"/><ellipse cx="24.2" cy="70.1" rx="2.1" ry="1.5" transform="rotate(28 24.2 70.1)"/><ellipse cx="54.2" cy="75.2" rx="1.9" ry="1.3" transform="rotate(41 54.2 75.2)"/><ellipse cx="35.1" cy="36.8" rx="1.7" ry="0.9" transform="rotate(144 35.1 36.8)"/><ellipse cx="54.7" cy="88.8" rx="2.1" ry="1.3" transform="rotate(172 54.7 88.8)"/><ellipse cx="82.4" cy="49.9" rx="2.0" ry="1.6" transform="rotate(10 82.4 49.9)"/><ellipse cx="38.2" cy="45.6" rx="2.9" ry="2.8" transform="rotate(117 38.2 45.6)"/><ellipse cx="77.9" cy="58.2" rx="2.7" ry="2.4" transform="rotate(40 77.9 58.2)"/><ellipse cx="54.0" cy="43.5" rx="1.7" ry="1.0" transform="rotate(26 54.0 43.5)"/><ellipse cx="29.2" cy="62.8" rx="2.4" ry="1.8" transform="rotate(44 29.2 62.8)"/><ellipse cx="71.9" cy="61.8" rx="2.8" ry="2.0" transform="rotate(142 71.9 61.8)"/><ellipse cx="21.3" cy="50.2" rx="1.7" ry="1.5" transform="rotate(63 21.3 50.2)"/><ellipse cx="87.3" cy="63.0" rx="3.2" ry="2.1" transform="rotate(168 87.3 63.0)"/><ellipse cx="79.6" cy="77.5" rx="2.6" ry="2.3" transform="rotate(45 79.6 77.5)"/><ellipse cx="57.5" cy="82.9" rx="3.0" ry="2.7" transform="rotate(37 57.5 82.9)"/><ellipse cx="35.3" cy="27.9" rx="2.9" ry="2.2" transform="rotate(26 35.3 27.9)"/><ellipse cx="23.2" cy="44.4" rx="3.1" ry="1.9" transform="rotate(68 23.2 44.4)"/><ellipse cx="75.3" cy="53.5" rx="2.0" ry="1.4" transform="rotate(46 75.3 53.5)"/><ellipse cx="37.4" cy="78.7" rx="2.4" ry="2.2" transform="rotate(5 37.4 78.7)"/><ellipse cx="73.7" cy="44.9" rx="3.1" ry="2.2" transform="rotate(143 73.7 44.9)"/><ellipse cx="40.0" cy="24.8" rx="3.3" ry="3.0" transform="rotate(35 40.0 24.8)"/><ellipse cx="49.2" cy="32.0" rx="2.1" ry="1.3" transform="rotate(32 49.2 32.0)"/><ellipse cx="47.6" cy="43.3" rx="2.4" ry="1.5" transform="rotate(154 47.6 43.3)"/><ellipse cx="25.6" cy="48.8" rx="1.8" ry="1.2" transform="rotate(66 25.6 48.8)"/><ellipse cx="69.9" cy="50.1" rx="2.2" ry="1.4" transform="rotate(66 69.9 50.1)"/><ellipse cx="80.8" cy="67.9" rx="1.6" ry="0.9" transform="rotate(168 80.8 67.9)"/><ellipse cx="59.3" cy="47.2" rx="2.7" ry="2.4" transform="rotate(18 59.3 47.2)"/><ellipse cx="69.2" cy="38.1" rx="2.4" ry="2.4" transform="rotate(148 69.2 38.1)"/><ellipse cx="83.9" cy="39.5" rx="3.1" ry="2.4" transform="rotate(128 83.9 39.5)"/><ellipse cx="26.9" cy="39.4" rx="3.1" ry="2.4" transform="rotate(135 26.9 39.4)"/><ellipse cx="64.5" cy="84.0" rx="2.3" ry="2.0" transform="rotate(155 64.5 84.0)"/><ellipse cx="59.2" cy="29.8" rx="3.0" ry="2.0" transform="rotate(145 59.2 29.8)"/><ellipse cx="28.0" cy="70.3" rx="2.0" ry="1.8" transform="rotate(110 28.0 70.3)"/><ellipse cx="44.1" cy="36.9" rx="1.7" ry="1.5" transform="rotate(87 44.1 36.9)"/><ellipse cx="82.2" cy="63.9" rx="2.0" ry="1.7" transform="rotate(167 82.2 63.9)"/><ellipse cx="48.0" cy="81.8" rx="2.9" ry="1.9" transform="rotate(178 48.0 81.8)"/><ellipse cx="57.6" cy="65.8" rx="3.2" ry="2.4" transform="rotate(170 57.6 65.8)"/><ellipse cx="26.7" cy="54.8" rx="1.8" ry="1.4" transform="rotate(63 26.7 54.8)"/><ellipse cx="74.9" cy="25.7" rx="1.8" ry="1.2" transform="rotate(174 74.9 25.7)"/><ellipse cx="76.8" cy="71.0" rx="1.9" ry="1.8" transform="rotate(130 76.8 71.0)"/><ellipse cx="84.6" cy="71.8" rx="2.2" ry="1.7" transform="rotate(120 84.6 71.8)"/><ellipse cx="52.2" cy="50.5" rx="2.6" ry="2.2" transform="rotate(118 52.2 50.5)"/><ellipse cx="72.1" cy="34.2" rx="2.7" ry="1.7" transform="rotate(49 72.1 34.2)"/><ellipse cx="40.9" cy="58.3" rx="2.8" ry="2.2" transform="rotate(50 40.9 58.3)"/><ellipse cx="60.6" cy="85.6" rx="1.8" ry="1.3" transform="rotate(61 60.6 85.6)"/><ellipse cx="69.7" cy="75.9" rx="2.1" ry="1.7" transform="rotate(151 69.7 75.9)"/><ellipse cx="47.6" cy="22.9" rx="2.4" ry="1.7" transform="rotate(10 47.6 22.9)"/><ellipse cx="56.3" cy="56.3" rx="2.3" ry="1.9" transform="rotate(5 56.3 56.3)"/><ellipse cx="76.9" cy="66.3" rx="2.3" ry="2.0" transform="rotate(145 76.9 66.3)"/><ellipse cx="44.1" cy="28.9" rx="2.0" ry="1.5" transform="rotate(22 44.1 28.9)"/><ellipse cx="33.1" cy="54.5" rx="2.2" ry="1.3" transform="rotate(47 33.1 54.5)"/><ellipse cx="34.2" cy="42.0" rx="2.9" ry="2.1" transform="rotate(140 34.2 42.0)"/><ellipse cx="29.3" cy="44.6" rx="2.7" ry="2.1" transform="rotate(5 29.3 44.6)"/><ellipse cx="69.0" cy="30.9" rx="2.2" ry="2.0" transform="rotate(41 69.0 30.9)"/><ellipse cx="44.7" cy="85.5" rx="2.3" ry="1.9" transform="rotate(21 44.7 85.5)"/><ellipse cx="22.9" cy="59.6" rx="2.2" ry="2.1" transform="rotate(70 22.9 59.6)"/><ellipse cx="63.1" cy="37.7" rx="2.2" ry="1.4" transform="rotate(5 63.1 37.7)"/><ellipse cx="72.9" cy="85.2" rx="1.9" ry="1.8" transform="rotate(97 72.9 85.2)"/><ellipse cx="74.9" cy="40.2" rx="2.9" ry="1.8" transform="rotate(81 74.9 40.2)"/><ellipse cx="31.7" cy="48.6" rx="2.6" ry="2.5" transform="rotate(78 31.7 48.6)"/><ellipse cx="70.6" cy="70.9" rx="1.9" ry="1.1" transform="rotate(176 70.6 70.9)"/><ellipse cx="89.0" cy="51.9" rx="2.4" ry="1.6" transform="rotate(79 89.0 51.9)"/><ellipse cx="59.6" cy="35.7" rx="1.8" ry="1.6" transform="rotate(56 59.6 35.7)"/><ellipse cx="82.5" cy="45.3" rx="2.6" ry="1.5" transform="rotate(23 82.5 45.3)"/><ellipse cx="40.9" cy="72.2" rx="2.9" ry="2.7" transform="rotate(87 40.9 72.2)"/><ellipse cx="36.1" cy="33.3" rx="2.8" ry="1.8" transform="rotate(134 36.1 33.3)"/><ellipse cx="47.6" cy="51.9" rx="2.0" ry="2.0" transform="rotate(37 47.6 51.9)"/><ellipse cx="87.0" cy="56.0" rx="3.2" ry="2.4" transform="rotate(27 87.0 56.0)"/><ellipse cx="78.9" cy="37.0" rx="2.8" ry="2.5" transform="rotate(58 78.9 37.0)"/><ellipse cx="36.5" cy="59.1" rx="2.3" ry="1.4" transform="rotate(63 36.5 59.1)"/><ellipse cx="43.6" cy="78.6" rx="1.7" ry="1.5" transform="rotate(167 43.6 78.6)"/></g>
</svg>
<svg x="69.40" y="1163.10" width="110.40" height="110.40" viewBox="0 0 110 110" preserveAspectRatio="none" overflow="hidden">
<rect width="110" height="110" fill="#0c1424"/>
<g fill="#2020f0" filter="url(#b1)"><circle cx="54.8" cy="8.4" r="2.5"/><circle cx="37.6" cy="16.6" r="4.4"/><circle cx="69.4" cy="16.9" r="3.5"/><circle cx="22.1" cy="21.2" r="2.5"/><circle cx="53.9" cy="21.2" r="3.2"/><circle cx="59.1" cy="23.1" r="2.9"/><circle cx="75.9" cy="22.5" r="2.9"/><circle cx="24.0" cy="31.5" r="3.5"/><circle cx="29.2" cy="34.1" r="2.5"/><circle cx="40.2" cy="30.9" r="3.2"/><circle cx="47.4" cy="29.9" r="2.5"/><circle cx="56.5" cy="32.8" r="3.5"/><circle cx="74.6" cy="29.9" r="2.9"/><circle cx="90.0" cy="29.9" r="2.5"/><circle cx="12.3" cy="38.4" r="2.9"/><circle cx="14.5" cy="44.3" r="3.2"/><circle cx="42.2" cy="40.6" r="3.2"/><circle cx="51.9" cy="39.7" r="2.9"/><circle cx="58.0" cy="40.2" r="3.2"/><circle cx="67.9" cy="41.3" r="2.9"/><circle cx="81.8" cy="38.7" r="3.8"/><circle cx="86.3" cy="43.9" r="3.2"/><circle cx="35.7" cy="44.5" r="3.5"/><circle cx="11.3" cy="51.7" r="2.5"/><circle cx="28.6" cy="53.0" r="3.5"/><circle cx="40.9" cy="51.9" r="2.5"/><circle cx="49.7" cy="51.4" r="2.5"/><circle cx="55.4" cy="50.4" r="2.5"/><circle cx="59.7" cy="52.3" r="2.9"/><circle cx="16.2" cy="56.6" r="3.5"/><circle cx="27.3" cy="59.4" r="2.9"/><circle cx="41.9" cy="54.9" r="2.2"/><circle cx="46.7" cy="59.4" r="2.9"/><circle cx="48.0" cy="63.3" r="3.5"/><circle cx="61.0" cy="60.7" r="2.9"/><circle cx="64.9" cy="57.5" r="3.2"/><circle cx="68.1" cy="55.6" r="2.9"/><circle cx="81.1" cy="58.2" r="3.5"/><circle cx="9.5" cy="65.3" r="2.5"/><circle cx="9.5" cy="70.5" r="2.2"/><circle cx="19.5" cy="68.3" r="2.2"/><circle cx="26.3" cy="71.5" r="2.9"/><circle cx="14.3" cy="74.0" r="2.2"/><circle cx="35.7" cy="67.2" r="2.9"/><circle cx="38.3" cy="71.8" r="4.0"/><circle cx="46.7" cy="73.7" r="3.5"/><circle cx="52.6" cy="72.4" r="2.9"/><circle cx="63.2" cy="70.9" r="2.9"/><circle cx="71.1" cy="70.1" r="3.2"/><circle cx="80.5" cy="70.9" r="2.5"/><circle cx="85.0" cy="67.0" r="2.2"/><circle cx="88.0" cy="71.8" r="2.2"/><circle cx="24.0" cy="82.8" r="3.2"/><circle cx="39.3" cy="83.5" r="2.5"/><circle cx="45.0" cy="82.8" r="2.5"/><circle cx="49.7" cy="80.6" r="2.2"/><circle cx="42.2" cy="77.6" r="2.2"/><circle cx="66.8" cy="83.5" r="3.5"/><circle cx="73.3" cy="88.0" r="4.0"/><circle cx="77.9" cy="81.8" r="3.5"/><circle cx="34.4" cy="89.6" r="2.9"/><circle cx="47.4" cy="91.9" r="3.5"/><circle cx="50.0" cy="95.1" r="3.2"/><circle cx="46.7" cy="99.0" r="3.2"/><circle cx="25.1" cy="95.4" r="2.9"/><circle cx="65.6" cy="95.1" r="2.9"/><circle cx="57.5" cy="100.1" r="2.2"/><circle cx="52.3" cy="102.7" r="2.5"/><circle cx="41.5" cy="104.9" r="2.5"/><circle cx="75.9" cy="97.7" r="2.5"/><circle cx="79.8" cy="95.1" r="2.2"/><circle cx="83.1" cy="92.5" r="2.2"/></g>
<ellipse cx="98.7" cy="46.5" rx="2" ry="5" fill="#1f1ff2" filter="url(#b1)" transform="rotate(-8 98.7 46.5)"/>
</svg>
<svg x="182.90" y="1163.10" width="110.70" height="110.40" viewBox="0 0 110 110" preserveAspectRatio="none" overflow="hidden">
<rect width="110" height="110" fill="#0b1216"/>
<ellipse cx="63" cy="35" rx="25" ry="25" fill="#1c3a3c" filter="url(#b5)" opacity="0.7"/>
<ellipse cx="51" cy="64" rx="25" ry="25" fill="#1c3a3c" filter="url(#b5)" opacity="0.7"/>
<ellipse cx="56" cy="52" rx="20" ry="30" fill="#1515a0" filter="url(#b8)" opacity="0.35"/>
<ellipse cx="61.9" cy="39.1" rx="9.6" ry="7.1" fill="#2424ff" filter="url(#b2)" transform="rotate(15 61.9 39.1)"/>
<ellipse cx="50.9" cy="72.2" rx="9.2" ry="9.0" fill="#2424ff" filter="url(#b2)"/>
</svg>
<svg x="297.30" y="1163.10" width="110.70" height="110.40" viewBox="0 0 110 110" preserveAspectRatio="none" overflow="hidden">
<rect width="110" height="110" fill="#090c2c"/>
<ellipse cx="54" cy="33.5" rx="26" ry="26" fill="#182c5a" filter="url(#b5)" opacity="0.7"/>
<ellipse cx="52.8" cy="64.8" rx="26" ry="26" fill="#182c5a" filter="url(#b5)" opacity="0.7"/>
<ellipse cx="52" cy="27" rx="8.5" ry="7.5" fill="#2a2ec8" filter="url(#b2)" opacity="0.8"/>
<ellipse cx="62.3" cy="50" rx="4" ry="3.8" fill="#2222ff" filter="url(#b1)"/>
<ellipse cx="57.5" cy="65" rx="8.5" ry="8" fill="#2226e0" filter="url(#b2)" opacity="0.9"/>
</svg>
<svg x="411.80" y="1163.10" width="110.70" height="110.40" viewBox="0 0 110 110" preserveAspectRatio="none" overflow="hidden">
<rect width="110" height="110" fill="#090c2c"/>
<ellipse cx="55" cy="56" rx="42" ry="42" fill="#16285c" filter="url(#b5)" opacity="0.8"/>
<ellipse cx="56" cy="54" rx="22" ry="22" fill="#1a1ab0" filter="url(#b8)" opacity="0.35"/>
<ellipse cx="53" cy="31" rx="7.5" ry="7.5" fill="#2a30e0" filter="url(#b2)" opacity="0.95"/>
<ellipse cx="78.5" cy="45" rx="7.5" ry="7.5" fill="#2a3ad0" filter="url(#b2)" opacity="0.9"/>
<ellipse cx="35.5" cy="58" rx="7.5" ry="7.5" fill="#2a3ad8" filter="url(#b2)" opacity="0.9"/>
<ellipse cx="59" cy="80" rx="7.2" ry="7.2" fill="#2a3ad0" filter="url(#b2)" opacity="0.9"/>
<ellipse cx="45.5" cy="28" rx="2.0" ry="2.0" fill="#2828ff" filter="url(#b1)"/>
</svg>
<svg x="526.20" y="1163.10" width="110.50" height="110.40" viewBox="0 0 110 110" preserveAspectRatio="none" overflow="hidden">
<rect width="110" height="110" fill="#03032c"/>
<ellipse cx="58" cy="54" rx="38" ry="38" fill="#141e64" filter="url(#b4)" opacity="0.8"/>
<ellipse cx="50.5" cy="26.5" rx="7.5" ry="7.5" fill="#2a34c8" filter="url(#b2)" opacity="0.9"/>
<ellipse cx="79.5" cy="55" rx="7.5" ry="7.5" fill="#2a34c8" filter="url(#b2)" opacity="0.9"/>
<ellipse cx="48.5" cy="66" rx="8" ry="8" fill="#2828f8" filter="url(#b2)"/>
<ellipse cx="34.5" cy="69" rx="7" ry="7" fill="#2a3ac0" filter="url(#b2)" opacity="0.85"/>
<ellipse cx="63" cy="86" rx="6" ry="2" fill="#2828e0" filter="url(#b1)" transform="rotate(-30 63 86)"/>
</svg>
<svg x="640.80" y="1163.10" width="110.00" height="110.40" viewBox="0 0 110 110" preserveAspectRatio="none" overflow="hidden">
<rect width="110" height="110" fill="#05031a"/>
<ellipse cx="55" cy="56" rx="38" ry="38" fill="#1a3424" filter="url(#b4)" opacity="0.75"/>
<ellipse cx="52" cy="54" rx="15" ry="20" fill="#2828f0" filter="url(#b4)"/>
<ellipse cx="62" cy="56" rx="14" ry="12" fill="#2028f4" filter="url(#b4)" opacity="0.95"/>
<ellipse cx="31" cy="52" rx="7" ry="7" fill="#2626e0" filter="url(#b3)" opacity="0.9"/>
<ellipse cx="56" cy="30" rx="9" ry="8" fill="#2a30d0" filter="url(#b3)" opacity="0.8"/>
<ellipse cx="80" cy="58" rx="4" ry="4" fill="#2626c0" filter="url(#b2)" opacity="0.8"/>
<ellipse cx="69.5" cy="69" rx="1.6" ry="1.6" fill="#8ad0ff" filter="url(#b1)"/>
</svg>
<svg x="755.20" y="1163.10" width="110.10" height="110.40" viewBox="0 0 110 110" preserveAspectRatio="none" overflow="hidden">
<rect width="110" height="110" fill="#03041a"/>
<ellipse cx="57" cy="57" rx="38" ry="35" fill="#1d3a28" filter="url(#b4)" opacity="0.8"/>
<ellipse cx="57" cy="52" rx="12" ry="17" fill="#2a34f8" filter="url(#b3)" transform="rotate(-15 57 52)"/>
<ellipse cx="50" cy="31" rx="5" ry="5" fill="#2a3ad0" filter="url(#b2)" opacity="0.85"/>
<ellipse cx="66" cy="31" rx="4.5" ry="4.5" fill="#2a3ab8" filter="url(#b2)" opacity="0.7"/>
<ellipse cx="70" cy="58" rx="9" ry="8" fill="#2a3ad8" filter="url(#b4)" opacity="0.8"/>
<ellipse cx="32" cy="56" rx="3.5" ry="4" fill="#2830e0" filter="url(#b2)" opacity="0.9"/>
<ellipse cx="64" cy="68" rx="9" ry="7" fill="#2a34f0" filter="url(#b3)" opacity="0.9"/>
<ellipse cx="69" cy="85" rx="1.3" ry="1.3" fill="#6ad040" filter="url(#b1)"/>
</svg>
<svg x="869.00" y="1163.10" width="111.40" height="110.40" viewBox="0 0 110 110" preserveAspectRatio="none" overflow="hidden">
<rect width="110" height="110" fill="#0a120e"/>
<ellipse cx="54.7" cy="54" rx="37" ry="37" fill="#182e2c" filter="url(#b5)" opacity="0.75"/>
<g fill="#3c78d8" filter="url(#b1)" opacity="0.95"><ellipse cx="49.7" cy="80.6" rx="2.4" ry="2.2" transform="rotate(131 49.7 80.6)"/><ellipse cx="26.5" cy="60.7" rx="2.3" ry="2.3" transform="rotate(138 26.5 60.7)"/><ellipse cx="37.7" cy="51.4" rx="1.7" ry="1.6" transform="rotate(32 37.7 51.4)"/><ellipse cx="53.6" cy="87.8" rx="1.5" ry="1.5" transform="rotate(7 53.6 87.8)"/><ellipse cx="39.9" cy="73.7" rx="2.4" ry="1.6" transform="rotate(3 39.9 73.7)"/><ellipse cx="22.6" cy="68.0" rx="3.0" ry="2.5" transform="rotate(161 22.6 68.0)"/><ellipse cx="39.2" cy="46.1" rx="2.9" ry="2.1" transform="rotate(49 39.2 46.1)"/><ellipse cx="70.7" cy="32.5" rx="2.8" ry="1.7" transform="rotate(135 70.7 32.5)"/><ellipse cx="82.4" cy="28.1" rx="1.9" ry="1.6" transform="rotate(161 82.4 28.1)"/><ellipse cx="61.6" cy="87.6" rx="1.9" ry="1.6" transform="rotate(92 61.6 87.6)"/><ellipse cx="53.4" cy="61.9" rx="2.7" ry="1.9" transform="rotate(99 53.4 61.9)"/><ellipse cx="56.0" cy="69.4" rx="2.5" ry="1.9" transform="rotate(45 56.0 69.4)"/><ellipse cx="83.7" cy="70.8" rx="1.6" ry="1.1" transform="rotate(86 83.7 70.8)"/><ellipse cx="68.3" cy="50.9" rx="1.7" ry="1.4" transform="rotate(153 68.3 50.9)"/><ellipse cx="22.4" cy="61.4" rx="2.3" ry="1.7" transform="rotate(64 22.4 61.4)"/><ellipse cx="49.9" cy="34.9" rx="2.9" ry="2.3" transform="rotate(40 49.9 34.9)"/><ellipse cx="61.8" cy="77.3" rx="2.8" ry="1.8" transform="rotate(25 61.8 77.3)"/><ellipse cx="47.5" cy="59.3" rx="2.7" ry="2.4" transform="rotate(164 47.5 59.3)"/><ellipse cx="75.3" cy="66.8" rx="2.0" ry="1.6" transform="rotate(3 75.3 66.8)"/><ellipse cx="40.7" cy="54.4" rx="3.0" ry="1.8" transform="rotate(176 40.7 54.4)"/><ellipse cx="65.5" cy="26.7" rx="2.0" ry="1.6" transform="rotate(151 65.5 26.7)"/><ellipse cx="40.1" cy="66.4" rx="2.2" ry="1.6" transform="rotate(95 40.1 66.4)"/><ellipse cx="21.9" cy="55.8" rx="1.7" ry="1.2" transform="rotate(156 21.9 55.8)"/><ellipse cx="87.6" cy="38.3" rx="2.4" ry="2.3" transform="rotate(31 87.6 38.3)"/><ellipse cx="43.8" cy="49.9" rx="1.8" ry="1.7" transform="rotate(20 43.8 49.9)"/><ellipse cx="66.8" cy="57.0" rx="2.7" ry="2.2" transform="rotate(3 66.8 57.0)"/><ellipse cx="64.9" cy="84.2" rx="2.7" ry="2.6" transform="rotate(167 64.9 84.2)"/><ellipse cx="27.7" cy="69.7" rx="2.4" ry="1.8" transform="rotate(132 27.7 69.7)"/><ellipse cx="33.3" cy="33.0" rx="2.5" ry="2.0" transform="rotate(168 33.3 33.0)"/><ellipse cx="75.9" cy="85.6" rx="1.8" ry="1.5" transform="rotate(176 75.9 85.6)"/><ellipse cx="67.1" cy="67.6" rx="2.8" ry="2.4" transform="rotate(179 67.1 67.6)"/><ellipse cx="92.1" cy="48.0" rx="1.7" ry="1.5" transform="rotate(112 92.1 48.0)"/><ellipse cx="30.1" cy="76.0" rx="1.7" ry="1.1" transform="rotate(154 30.1 76.0)"/><ellipse cx="46.7" cy="79.0" rx="1.7" ry="1.7" transform="rotate(115 46.7 79.0)"/><ellipse cx="75.2" cy="36.8" rx="1.8" ry="1.6" transform="rotate(48 75.2 36.8)"/><ellipse cx="31.8" cy="54.0" rx="2.5" ry="2.1" transform="rotate(75 31.8 54.0)"/><ellipse cx="75.7" cy="63.0" rx="1.6" ry="1.2" transform="rotate(129 75.7 63.0)"/><ellipse cx="32.7" cy="37.9" rx="2.8" ry="1.9" transform="rotate(36 32.7 37.9)"/><ellipse cx="43.0" cy="79.1" rx="2.1" ry="1.5" transform="rotate(28 43.0 79.1)"/><ellipse cx="31.3" cy="60.6" rx="1.5" ry="1.0" transform="rotate(154 31.3 60.6)"/><ellipse cx="31.2" cy="78.9" rx="2.3" ry="1.6" transform="rotate(1 31.2 78.9)"/><ellipse cx="57.9" cy="31.3" rx="1.5" ry="1.0" transform="rotate(114 57.9 31.3)"/><ellipse cx="84.3" cy="39.9" rx="1.8" ry="1.5" transform="rotate(5 84.3 39.9)"/><ellipse cx="34.8" cy="29.5" rx="2.4" ry="1.8" transform="rotate(74 34.8 29.5)"/><ellipse cx="45.0" cy="31.0" rx="2.7" ry="2.6" transform="rotate(42 45.0 31.0)"/><ellipse cx="27.2" cy="33.5" rx="2.7" ry="2.4" transform="rotate(103 27.2 33.5)"/><ellipse cx="78.1" cy="25.4" rx="1.7" ry="1.2" transform="rotate(137 78.1 25.4)"/><ellipse cx="31.3" cy="72.9" rx="2.1" ry="1.3" transform="rotate(92 31.3 72.9)"/><ellipse cx="65.4" cy="39.1" rx="1.7" ry="1.5" transform="rotate(139 65.4 39.1)"/><ellipse cx="36.5" cy="61.2" rx="2.7" ry="1.8" transform="rotate(163 36.5 61.2)"/><ellipse cx="49.8" cy="41.3" rx="1.8" ry="1.6" transform="rotate(109 49.8 41.3)"/><ellipse cx="89.2" cy="67.8" rx="1.9" ry="1.4" transform="rotate(174 89.2 67.8)"/><ellipse cx="64.0" cy="72.2" rx="2.2" ry="1.7" transform="rotate(13 64.0 72.2)"/><ellipse cx="72.0" cy="81.0" rx="2.3" ry="1.8" transform="rotate(114 72.0 81.0)"/><ellipse cx="34.1" cy="85.3" rx="2.4" ry="2.1" transform="rotate(116 34.1 85.3)"/><ellipse cx="68.4" cy="46.1" rx="3.0" ry="1.9" transform="rotate(130 68.4 46.1)"/><ellipse cx="53.7" cy="57.7" rx="2.1" ry="1.6" transform="rotate(64 53.7 57.7)"/><ellipse cx="69.9" cy="27.4" rx="2.2" ry="1.4" transform="rotate(56 69.9 27.4)"/><ellipse cx="81.8" cy="59.1" rx="3.1" ry="2.4" transform="rotate(82 81.8 59.1)"/><ellipse cx="70.7" cy="21.6" rx="1.6" ry="1.5" transform="rotate(35 70.7 21.6)"/><ellipse cx="35.5" cy="44.3" rx="1.6" ry="1.5" transform="rotate(156 35.5 44.3)"/><ellipse cx="44.5" cy="83.0" rx="2.5" ry="1.8" transform="rotate(23 44.5 83.0)"/><ellipse cx="80.8" cy="39.7" rx="2.6" ry="1.6" transform="rotate(97 80.8 39.7)"/><ellipse cx="76.0" cy="53.6" rx="1.7" ry="1.4" transform="rotate(114 76.0 53.6)"/><ellipse cx="46.7" cy="86.8" rx="2.4" ry="1.6" transform="rotate(83 46.7 86.8)"/><ellipse cx="53.1" cy="16.6" rx="2.1" ry="1.7" transform="rotate(98 53.1 16.6)"/><ellipse cx="30.2" cy="24.2" rx="2.0" ry="1.8" transform="rotate(71 30.2 24.2)"/><ellipse cx="53.7" cy="92.3" rx="1.6" ry="1.1" transform="rotate(76 53.7 92.3)"/><ellipse cx="53.3" cy="84.2" rx="3.0" ry="2.7" transform="rotate(136 53.3 84.2)"/><ellipse cx="55.0" cy="78.8" rx="2.7" ry="2.5" transform="rotate(28 55.0 78.8)"/><ellipse cx="59.3" cy="59.2" rx="1.9" ry="1.9" transform="rotate(125 59.3 59.2)"/><ellipse cx="54.4" cy="25.7" rx="2.9" ry="2.6" transform="rotate(26 54.4 25.7)"/><ellipse cx="87.5" cy="50.1" rx="2.5" ry="1.6" transform="rotate(118 87.5 50.1)"/><ellipse cx="78.7" cy="72.5" rx="3.0" ry="2.5" transform="rotate(175 78.7 72.5)"/><ellipse cx="67.0" cy="17.0" rx="3.0" ry="2.1" transform="rotate(166 67.0 17.0)"/><ellipse cx="72.5" cy="69.1" rx="1.9" ry="1.3" transform="rotate(151 72.5 69.1)"/><ellipse cx="59.8" cy="51.6" rx="1.8" ry="1.5" transform="rotate(178 59.8 51.6)"/><ellipse cx="73.8" cy="73.8" rx="2.9" ry="2.1" transform="rotate(4 73.8 73.8)"/><ellipse cx="37.3" cy="70.0" rx="2.8" ry="1.8" transform="rotate(136 37.3 70.0)"/><ellipse cx="36.2" cy="40.6" rx="2.1" ry="1.3" transform="rotate(160 36.2 40.6)"/><ellipse cx="59.7" cy="23.3" rx="2.0" ry="1.4" transform="rotate(5 59.7 23.3)"/><ellipse cx="67.7" cy="78.1" rx="2.8" ry="2.0" transform="rotate(10 67.7 78.1)"/><ellipse cx="78.7" cy="66.9" rx="1.9" ry="1.5" transform="rotate(118 78.7 66.9)"/><ellipse cx="25.5" cy="55.5" rx="2.0" ry="1.5" transform="rotate(74 25.5 55.5)"/><ellipse cx="47.3" cy="63.3" rx="2.4" ry="2.4" transform="rotate(75 47.3 63.3)"/><ellipse cx="38.6" cy="82.7" rx="2.6" ry="1.7" transform="rotate(111 38.6 82.7)"/><ellipse cx="45.2" cy="42.1" rx="2.6" ry="1.8" transform="rotate(129 45.2 42.1)"/><ellipse cx="27.5" cy="47.9" rx="2.1" ry="1.3" transform="rotate(140 27.5 47.9)"/><ellipse cx="75.9" cy="40.4" rx="2.8" ry="2.6" transform="rotate(169 75.9 40.4)"/><ellipse cx="82.8" cy="74.9" rx="2.3" ry="2.1" transform="rotate(21 82.8 74.9)"/><ellipse cx="39.1" cy="22.0" rx="2.5" ry="1.9" transform="rotate(115 39.1 22.0)"/><ellipse cx="23.7" cy="73.4" rx="2.9" ry="2.6" transform="rotate(51 23.7 73.4)"/><ellipse cx="52.1" cy="75.9" rx="1.7" ry="1.6" transform="rotate(28 52.1 75.9)"/><ellipse cx="65.6" cy="22.4" rx="2.3" ry="2.0" transform="rotate(164 65.6 22.4)"/><ellipse cx="89.8" cy="53.7" rx="2.8" ry="1.7" transform="rotate(4 89.8 53.7)"/></g>
<g fill="#50b8e0" filter="url(#b1)"><ellipse cx="49.5" cy="49.4" rx="1.8" ry="1.0" transform="rotate(179 49.5 49.4)"/><ellipse cx="48.8" cy="60.6" rx="2.8" ry="2.5" transform="rotate(134 48.8 60.6)"/><ellipse cx="50.5" cy="53.1" rx="2.2" ry="2.1" transform="rotate(69 50.5 53.1)"/><ellipse cx="32.9" cy="59.1" rx="2.2" ry="1.9" transform="rotate(74 32.9 59.1)"/><ellipse cx="40.7" cy="63.8" rx="1.6" ry="1.4" transform="rotate(168 40.7 63.8)"/><ellipse cx="39.7" cy="55.6" rx="2.8" ry="2.0" transform="rotate(119 39.7 55.6)"/><ellipse cx="42.6" cy="67.9" rx="2.8" ry="2.4" transform="rotate(101 42.6 67.9)"/><ellipse cx="55.9" cy="56.0" rx="2.8" ry="2.0" transform="rotate(30 55.9 56.0)"/><ellipse cx="42.5" cy="49.2" rx="1.6" ry="1.0" transform="rotate(80 42.5 49.2)"/><ellipse cx="39.7" cy="45.1" rx="1.7" ry="1.2" transform="rotate(66 39.7 45.1)"/><ellipse cx="36.6" cy="59.5" rx="2.5" ry="1.7" transform="rotate(161 36.6 59.5)"/><ellipse cx="45.6" cy="67.4" rx="1.7" ry="1.4" transform="rotate(38 45.6 67.4)"/><ellipse cx="46.2" cy="52.4" rx="1.8" ry="1.0" transform="rotate(170 46.2 52.4)"/><ellipse cx="47.4" cy="50.5" rx="1.8" ry="1.5" transform="rotate(42 47.4 50.5)"/></g>
<g fill="#2a34e8" filter="url(#b1)" opacity="0.9"><circle cx="32.7" cy="61.2" r="1.0"/><circle cx="57.9" cy="24.6" r="1.7"/><circle cx="26.4" cy="59.0" r="1.9"/><circle cx="47.4" cy="34.2" r="1.9"/><circle cx="50.6" cy="63.5" r="1.3"/><circle cx="22.2" cy="54.7" r="1.3"/><circle cx="45.1" cy="38.2" r="1.0"/><circle cx="80.9" cy="49.9" r="1.5"/><circle cx="49.0" cy="42.3" r="1.9"/><circle cx="43.7" cy="87.4" r="1.2"/><circle cx="35.8" cy="58.6" r="1.6"/><circle cx="62.4" cy="57.1" r="1.3"/><circle cx="84.2" cy="65.6" r="1.1"/><circle cx="45.8" cy="78.3" r="1.1"/><circle cx="72.8" cy="48.3" r="1.6"/><circle cx="58.9" cy="71.3" r="1.6"/><circle cx="46.3" cy="23.1" r="2.0"/><circle cx="76.0" cy="44.1" r="1.0"/><circle cx="72.8" cy="82.2" r="2.0"/><circle cx="51.4" cy="52.9" r="1.3"/><circle cx="53.6" cy="38.5" r="1.3"/><circle cx="28.1" cy="67.0" r="1.7"/><circle cx="37.8" cy="67.0" r="1.5"/><circle cx="21.0" cy="62.5" r="1.1"/><circle cx="73.7" cy="28.3" r="1.6"/><circle cx="36.3" cy="74.6" r="1.8"/><circle cx="24.0" cy="40.8" r="1.0"/><circle cx="61.6" cy="33.8" r="2.0"/><circle cx="64.3" cy="78.3" r="1.8"/><circle cx="77.4" cy="51.3" r="1.8"/></g>
</svg>
<svg x="983.50" y="1163.10" width="111.40" height="110.40" viewBox="0 0 110 110" preserveAspectRatio="none" overflow="hidden">
<rect width="110" height="110" fill="#0a0f3c"/>
<ellipse cx="55" cy="56" rx="37" ry="37" fill="#1a3a6a" filter="url(#b5)" opacity="0.8"/>
<g fill="#66d098" filter="url(#b1)" opacity="0.95"><ellipse cx="22.6" cy="55.8" rx="1.8" ry="1.2" transform="rotate(157 22.6 55.8)"/><ellipse cx="49.4" cy="60.5" rx="2.7" ry="2.5" transform="rotate(82 49.4 60.5)"/><ellipse cx="62.3" cy="73.6" rx="3.0" ry="2.9" transform="rotate(49 62.3 73.6)"/><ellipse cx="67.9" cy="59.7" rx="2.1" ry="1.4" transform="rotate(88 67.9 59.7)"/><ellipse cx="64.1" cy="32.0" rx="2.7" ry="2.2" transform="rotate(174 64.1 32.0)"/><ellipse cx="68.6" cy="44.9" rx="2.4" ry="1.7" transform="rotate(137 68.6 44.9)"/><ellipse cx="70.5" cy="82.6" rx="1.6" ry="1.0" transform="rotate(175 70.5 82.6)"/><ellipse cx="55.9" cy="33.7" rx="2.6" ry="2.1" transform="rotate(146 55.9 33.7)"/><ellipse cx="68.1" cy="87.0" rx="2.1" ry="1.6" transform="rotate(110 68.1 87.0)"/><ellipse cx="22.5" cy="64.8" rx="2.6" ry="1.6" transform="rotate(174 22.5 64.8)"/><ellipse cx="47.7" cy="70.6" rx="3.1" ry="2.5" transform="rotate(110 47.7 70.6)"/><ellipse cx="49.4" cy="27.0" rx="2.5" ry="1.9" transform="rotate(174 49.4 27.0)"/><ellipse cx="66.0" cy="48.9" rx="2.2" ry="1.7" transform="rotate(123 66.0 48.9)"/><ellipse cx="65.9" cy="28.1" rx="2.7" ry="2.3" transform="rotate(165 65.9 28.1)"/><ellipse cx="41.7" cy="34.3" rx="2.6" ry="2.4" transform="rotate(32 41.7 34.3)"/><ellipse cx="24.2" cy="70.1" rx="2.1" ry="1.5" transform="rotate(28 24.2 70.1)"/><ellipse cx="54.2" cy="75.2" rx="1.9" ry="1.3" transform="rotate(41 54.2 75.2)"/><ellipse cx="35.1" cy="36.8" rx="1.7" ry="0.9" transform="rotate(144 35.1 36.8)"/><ellipse cx="54.7" cy="88.8" rx="2.1" ry="1.3" transform="rotate(172 54.7 88.8)"/><ellipse cx="82.4" cy="49.9" rx="2.0" ry="1.6" transform="rotate(10 82.4 49.9)"/><ellipse cx="38.2" cy="45.6" rx="2.9" ry="2.8" transform="rotate(117 38.2 45.6)"/><ellipse cx="77.9" cy="58.2" rx="2.7" ry="2.4" transform="rotate(40 77.9 58.2)"/><ellipse cx="54.0" cy="43.5" rx="1.7" ry="1.0" transform="rotate(26 54.0 43.5)"/><ellipse cx="29.2" cy="62.8" rx="2.4" ry="1.8" transform="rotate(44 29.2 62.8)"/><ellipse cx="71.9" cy="61.8" rx="2.8" ry="2.0" transform="rotate(142 71.9 61.8)"/><ellipse cx="21.3" cy="50.2" rx="1.7" ry="1.5" transform="rotate(63 21.3 50.2)"/><ellipse cx="87.3" cy="63.0" rx="3.2" ry="2.1" transform="rotate(168 87.3 63.0)"/><ellipse cx="79.6" cy="77.5" rx="2.6" ry="2.3" transform="rotate(45 79.6 77.5)"/><ellipse cx="57.5" cy="82.9" rx="3.0" ry="2.7" transform="rotate(37 57.5 82.9)"/><ellipse cx="35.3" cy="27.9" rx="2.9" ry="2.2" transform="rotate(26 35.3 27.9)"/><ellipse cx="23.2" cy="44.4" rx="3.1" ry="1.9" transform="rotate(68 23.2 44.4)"/><ellipse cx="75.3" cy="53.5" rx="2.0" ry="1.4" transform="rotate(46 75.3 53.5)"/><ellipse cx="37.4" cy="78.7" rx="2.4" ry="2.2" transform="rotate(5 37.4 78.7)"/><ellipse cx="73.7" cy="44.9" rx="3.1" ry="2.2" transform="rotate(143 73.7 44.9)"/><ellipse cx="40.0" cy="24.8" rx="3.3" ry="3.0" transform="rotate(35 40.0 24.8)"/><ellipse cx="49.2" cy="32.0" rx="2.1" ry="1.3" transform="rotate(32 49.2 32.0)"/><ellipse cx="47.6" cy="43.3" rx="2.4" ry="1.5" transform="rotate(154 47.6 43.3)"/><ellipse cx="25.6" cy="48.8" rx="1.8" ry="1.2" transform="rotate(66 25.6 48.8)"/><ellipse cx="69.9" cy="50.1" rx="2.2" ry="1.4" transform="rotate(66 69.9 50.1)"/><ellipse cx="80.8" cy="67.9" rx="1.6" ry="0.9" transform="rotate(168 80.8 67.9)"/><ellipse cx="59.3" cy="47.2" rx="2.7" ry="2.4" transform="rotate(18 59.3 47.2)"/><ellipse cx="69.2" cy="38.1" rx="2.4" ry="2.4" transform="rotate(148 69.2 38.1)"/><ellipse cx="83.9" cy="39.5" rx="3.1" ry="2.4" transform="rotate(128 83.9 39.5)"/><ellipse cx="26.9" cy="39.4" rx="3.1" ry="2.4" transform="rotate(135 26.9 39.4)"/><ellipse cx="64.5" cy="84.0" rx="2.3" ry="2.0" transform="rotate(155 64.5 84.0)"/><ellipse cx="59.2" cy="29.8" rx="3.0" ry="2.0" transform="rotate(145 59.2 29.8)"/><ellipse cx="28.0" cy="70.3" rx="2.0" ry="1.8" transform="rotate(110 28.0 70.3)"/><ellipse cx="44.1" cy="36.9" rx="1.7" ry="1.5" transform="rotate(87 44.1 36.9)"/><ellipse cx="82.2" cy="63.9" rx="2.0" ry="1.7" transform="rotate(167 82.2 63.9)"/><ellipse cx="48.0" cy="81.8" rx="2.9" ry="1.9" transform="rotate(178 48.0 81.8)"/><ellipse cx="57.6" cy="65.8" rx="3.2" ry="2.4" transform="rotate(170 57.6 65.8)"/><ellipse cx="26.7" cy="54.8" rx="1.8" ry="1.4" transform="rotate(63 26.7 54.8)"/><ellipse cx="74.9" cy="25.7" rx="1.8" ry="1.2" transform="rotate(174 74.9 25.7)"/><ellipse cx="76.8" cy="71.0" rx="1.9" ry="1.8" transform="rotate(130 76.8 71.0)"/><ellipse cx="84.6" cy="71.8" rx="2.2" ry="1.7" transform="rotate(120 84.6 71.8)"/><ellipse cx="52.2" cy="50.5" rx="2.6" ry="2.2" transform="rotate(118 52.2 50.5)"/><ellipse cx="72.1" cy="34.2" rx="2.7" ry="1.7" transform="rotate(49 72.1 34.2)"/><ellipse cx="40.9" cy="58.3" rx="2.8" ry="2.2" transform="rotate(50 40.9 58.3)"/><ellipse cx="60.6" cy="85.6" rx="1.8" ry="1.3" transform="rotate(61 60.6 85.6)"/><ellipse cx="69.7" cy="75.9" rx="2.1" ry="1.7" transform="rotate(151 69.7 75.9)"/><ellipse cx="47.6" cy="22.9" rx="2.4" ry="1.7" transform="rotate(10 47.6 22.9)"/><ellipse cx="56.3" cy="56.3" rx="2.3" ry="1.9" transform="rotate(5 56.3 56.3)"/><ellipse cx="76.9" cy="66.3" rx="2.3" ry="2.0" transform="rotate(145 76.9 66.3)"/><ellipse cx="44.1" cy="28.9" rx="2.0" ry="1.5" transform="rotate(22 44.1 28.9)"/><ellipse cx="33.1" cy="54.5" rx="2.2" ry="1.3" transform="rotate(47 33.1 54.5)"/><ellipse cx="34.2" cy="42.0" rx="2.9" ry="2.1" transform="rotate(140 34.2 42.0)"/><ellipse cx="29.3" cy="44.6" rx="2.7" ry="2.1" transform="rotate(5 29.3 44.6)"/><ellipse cx="69.0" cy="30.9" rx="2.2" ry="2.0" transform="rotate(41 69.0 30.9)"/><ellipse cx="44.7" cy="85.5" rx="2.3" ry="1.9" transform="rotate(21 44.7 85.5)"/><ellipse cx="22.9" cy="59.6" rx="2.2" ry="2.1" transform="rotate(70 22.9 59.6)"/><ellipse cx="63.1" cy="37.7" rx="2.2" ry="1.4" transform="rotate(5 63.1 37.7)"/><ellipse cx="72.9" cy="85.2" rx="1.9" ry="1.8" transform="rotate(97 72.9 85.2)"/><ellipse cx="74.9" cy="40.2" rx="2.9" ry="1.8" transform="rotate(81 74.9 40.2)"/><ellipse cx="31.7" cy="48.6" rx="2.6" ry="2.5" transform="rotate(78 31.7 48.6)"/><ellipse cx="70.6" cy="70.9" rx="1.9" ry="1.1" transform="rotate(176 70.6 70.9)"/><ellipse cx="89.0" cy="51.9" rx="2.4" ry="1.6" transform="rotate(79 89.0 51.9)"/><ellipse cx="59.6" cy="35.7" rx="1.8" ry="1.6" transform="rotate(56 59.6 35.7)"/><ellipse cx="82.5" cy="45.3" rx="2.6" ry="1.5" transform="rotate(23 82.5 45.3)"/><ellipse cx="40.9" cy="72.2" rx="2.9" ry="2.7" transform="rotate(87 40.9 72.2)"/><ellipse cx="36.1" cy="33.3" rx="2.8" ry="1.8" transform="rotate(134 36.1 33.3)"/><ellipse cx="47.6" cy="51.9" rx="2.0" ry="2.0" transform="rotate(37 47.6 51.9)"/><ellipse cx="87.0" cy="56.0" rx="3.2" ry="2.4" transform="rotate(27 87.0 56.0)"/><ellipse cx="78.9" cy="37.0" rx="2.8" ry="2.5" transform="rotate(58 78.9 37.0)"/><ellipse cx="36.5" cy="59.1" rx="2.3" ry="1.4" transform="rotate(63 36.5 59.1)"/><ellipse cx="43.6" cy="78.6" rx="1.7" ry="1.5" transform="rotate(167 43.6 78.6)"/></g>
<g fill="#3050e0" filter="url(#b1)" opacity="0.9"><circle cx="51.2" cy="22.8" r="1.2"/><circle cx="88.9" cy="57.0" r="1.6"/><circle cx="62.9" cy="79.3" r="1.9"/><circle cx="53.2" cy="28.8" r="1.9"/><circle cx="55.7" cy="38.1" r="1.8"/><circle cx="77.4" cy="37.1" r="1.9"/><circle cx="78.2" cy="80.1" r="1.3"/><circle cx="59.9" cy="43.4" r="1.8"/><circle cx="45.4" cy="32.4" r="1.2"/><circle cx="64.0" cy="63.9" r="2.1"/><circle cx="32.7" cy="49.5" r="1.2"/><circle cx="57.6" cy="21.3" r="2.1"/><circle cx="26.5" cy="59.5" r="2.0"/><circle cx="71.6" cy="75.5" r="1.9"/><circle cx="61.4" cy="72.7" r="1.6"/><circle cx="42.2" cy="70.3" r="2.3"/><circle cx="72.7" cy="39.7" r="1.4"/><circle cx="82.6" cy="40.7" r="1.2"/><circle cx="56.5" cy="52.3" r="2.2"/><circle cx="27.9" cy="37.2" r="2.0"/><circle cx="34.3" cy="73.5" r="1.6"/><circle cx="44.8" cy="38.2" r="1.5"/><circle cx="85.3" cy="70.8" r="2.3"/><circle cx="72.1" cy="43.8" r="1.9"/><circle cx="53.5" cy="80.7" r="1.7"/><circle cx="75.6" cy="32.5" r="1.4"/><circle cx="49.3" cy="78.8" r="2.3"/><circle cx="66.6" cy="36.1" r="2.2"/><circle cx="68.6" cy="84.6" r="2.3"/><circle cx="37.1" cy="64.9" r="1.2"/></g>
<rect x="96.5" y="102.6" width="8" height="2.4" fill="#f4f4f4"/>
</svg>
</g>
<g id="chartC">
<rect x="1260.60" y="1095.60" width="21.70" height="69.30" fill="#73a0f5" stroke="#0000ff" stroke-width="2.6"/>
<rect x="1269.65" y="1092.60" width="3.6" height="2.70" fill="#0000ff"/>
<rect x="1266.45" y="1092.60" width="10" height="3.5" fill="#0000ff"/>
<rect x="1293.30" y="1098.50" width="22.00" height="66.40" fill="#e58080" stroke="#dc0000" stroke-width="2.6"/>
<rect x="1302.50" y="1095.80" width="3.6" height="2.40" fill="#dc0000"/>
<rect x="1299.30" y="1095.80" width="10" height="3.5" fill="#dc0000"/>
<rect x="1348.00" y="1086.60" width="21.70" height="78.30" fill="#73a0f5" stroke="#0000ff" stroke-width="2.6"/>
<rect x="1357.05" y="1083.00" width="3.6" height="3.30" fill="#0000ff"/>
<rect x="1353.85" y="1083.00" width="10" height="3.5" fill="#0000ff"/>
<rect x="1380.90" y="1098.50" width="21.70" height="66.40" fill="#e58080" stroke="#dc0000" stroke-width="2.6"/>
<rect x="1389.95" y="1095.50" width="3.6" height="2.70" fill="#dc0000"/>
<rect x="1386.75" y="1095.50" width="10" height="3.5" fill="#dc0000"/>
<rect x="1435.30" y="1138.40" width="22.00" height="26.50" fill="#73a0f5" stroke="#0000ff" stroke-width="2.6"/>
<rect x="1444.50" y="1133.00" width="3.6" height="5.10" fill="#0000ff"/>
<rect x="1441.30" y="1133.00" width="10" height="3.5" fill="#0000ff"/>
<rect x="1468.30" y="1137.00" width="22.00" height="27.90" fill="#e58080" stroke="#dc0000" stroke-width="2.6"/>
<rect x="1477.50" y="1133.20" width="3.6" height="3.50" fill="#dc0000"/>
<rect x="1474.30" y="1133.20" width="10" height="3.5" fill="#dc0000"/>
<rect x="1523.00" y="996.90" width="21.70" height="168.00" fill="#73a0f5" stroke="#0000ff" stroke-width="2.6"/>
<rect x="1532.05" y="980.00" width="3.6" height="16.60" fill="#0000ff"/>
<rect x="1528.85" y="980.00" width="10" height="3.5" fill="#0000ff"/>
<rect x="1556.30" y="966.80" width="21.70" height="198.10" fill="#e58080" stroke="#dc0000" stroke-width="2.6"/>
<rect x="1565.35" y="953.20" width="3.6" height="13.30" fill="#dc0000"/>
<rect x="1562.15" y="953.20" width="10" height="3.5" fill="#dc0000"/>
<rect x="1243.5" y="862.8" width="2.8" height="304.30" fill="#000"/>
<rect x="1243.5" y="1164.3" width="352.30" height="2.8" fill="#000"/>
<rect x="1235.8" y="862.70" width="9.5" height="2.8" fill="#000"/>
<text x="1230.6" y="870.70" class="sans" font-weight="bold" font-size="17.3" letter-spacing="2.2" text-anchor="end">150</text>
<rect x="1235.8" y="963.40" width="9.5" height="2.8" fill="#000"/>
<text x="1230.6" y="971.40" class="sans" font-weight="bold" font-size="17.3" letter-spacing="2.2" text-anchor="end">100</text>
<rect x="1235.8" y="1063.90" width="9.5" height="2.8" fill="#000"/>
<text x="1230.6" y="1071.90" class="sans" font-weight="bold" font-size="17.3" letter-spacing="2.2" text-anchor="end">50</text>
<rect x="1235.8" y="1164.30" width="9.5" height="2.8" fill="#000"/>
<text x="1230.6" y="1172.30" class="sans" font-weight="bold" font-size="17.3" letter-spacing="2.2" text-anchor="end">0</text>
<rect x="1286.20" y="1165.70" width="2.8" height="8.5" fill="#000"/>
<rect x="1373.90" y="1165.70" width="2.8" height="8.5" fill="#000"/>
<rect x="1461.20" y="1165.70" width="2.8" height="8.5" fill="#000"/>
<rect x="1548.50" y="1165.70" width="2.8" height="8.5" fill="#000"/>
<text transform="translate(1292.10,1188.50) rotate(-45)" class="sans" font-weight="bold" font-size="17.5" letter-spacing="2.6" text-anchor="end">2-cell</text>
<text transform="translate(1379.80,1188.50) rotate(-45)" class="sans" font-weight="bold" font-size="17.5" letter-spacing="2.6" text-anchor="end">4-cell</text>
<text transform="translate(1467.10,1188.50) rotate(-45)" class="sans" font-weight="bold" font-size="17.5" letter-spacing="2.6" text-anchor="end">8-cell</text>
<text transform="translate(1554.40,1188.50) rotate(-45)" class="sans" font-weight="bold" font-size="17.5" letter-spacing="2.6" text-anchor="end">blastocyst</text>
<line x1="1273.00" y1="1079.70" x2="1303.90" y2="1079.70" stroke="#000" stroke-width="3.0" stroke-linecap="butt"/>
<text x="1286.70" y="1082.90" class="sans" font-size="18.4" text-anchor="middle" dominant-baseline="auto">*</text>
<line x1="1358.10" y1="1071.60" x2="1389.00" y2="1071.60" stroke="#000" stroke-width="3.0" stroke-linecap="butt"/>
<text x="1372.30" y="1074.80" class="sans" font-size="18.4" text-anchor="middle" dominant-baseline="auto">*</text>
<text transform="translate(1178.60,1014.60) rotate(-90)" class="sans" font-weight="bold" font-size="19" letter-spacing="2.8" text-anchor="middle">Normalized total fluorescence</text>
<text x="1420.0" y="828.3" class="sans" font-weight="bold" font-size="21.5" letter-spacing="5.0" text-anchor="middle">H3K4me3</text>
<rect x="1623.3" y="842.2" width="32.2" height="15.5" fill="#73a0f5" stroke="#0000ff" stroke-width="2.6"/>
<rect x="1623.3" y="877.0" width="32.2" height="15.5" fill="#e58080" stroke="#dc0000" stroke-width="2.6"/>
<text x="1673.5" y="859.0" class="sans" font-size="19.5" letter-spacing="2.35">Control</text>
<text x="1673.5" y="893.6" class="sans" font-size="19.5" letter-spacing="2.35">SiLncT</text>
</g>
<g id="gridD">
<text transform="translate(-0.6,1319.6) scale(1.04,1)" class="sans" font-weight="bold" font-size="35.6">D</text>
<text x="100.6" y="1329.5" class="serif" font-size="17.7" textLength="64.0" lengthAdjust="spacingAndGlyphs">Negative</text>
<text x="100.6" y="1351.5" class="serif" font-size="17.7" textLength="53.8" lengthAdjust="spacingAndGlyphs">Control</text>
<text x="282.1" y="1330.6" class="serif" font-size="20.2" textLength="45.4" lengthAdjust="spacingAndGlyphs">2-cell</text>
<text x="215.7" y="1352.8" class="serif" font-size="18.8" textLength="57.3" lengthAdjust="spacingAndGlyphs">Control</text>
<text x="324.4" y="1352.8" class="serif" font-size="18.8" textLength="56.6" lengthAdjust="spacingAndGlyphs">SiLncT</text>
<text x="502.9" y="1330.8" class="serif" font-size="20.2" textLength="45.0" lengthAdjust="spacingAndGlyphs">4-cell</text>
<text x="439.6" y="1351.6" class="serif" font-size="18.8" textLength="57.5" lengthAdjust="spacingAndGlyphs">Control</text>
<text x="549.3" y="1351.6" class="serif" font-size="18.8" textLength="55.6" lengthAdjust="spacingAndGlyphs">SiLncT</text>
<text x="729.8" y="1331.0" class="serif" font-size="20.2" textLength="45.1" lengthAdjust="spacingAndGlyphs">8-cell</text>
<text x="666.2" y="1352.8" class="serif" font-size="18.8" textLength="57.5" lengthAdjust="spacingAndGlyphs">Control</text>
<text x="775.9" y="1352.8" class="serif" font-size="18.8" textLength="55.8" lengthAdjust="spacingAndGlyphs">SiLncT</text>
<text x="956.4" y="1326.6" class="serif" font-size="20.1" textLength="83.6" lengthAdjust="spacingAndGlyphs">Blastocyst</text>
<text x="892.7" y="1351.6" class="serif" font-size="18.8" textLength="57.9" lengthAdjust="spacingAndGlyphs">Control</text>
<text x="1002.4" y="1351.6" class="serif" font-size="18.8" textLength="56.2" lengthAdjust="spacingAndGlyphs">SiLncT</text>
<line x1="182.9" y1="1333.0" x2="406.4" y2="1333.0" stroke="#666" stroke-width="1.0"/>
<line x1="413.8" y1="1333.0" x2="635.7" y2="1333.0" stroke="#666" stroke-width="1.0"/>
<line x1="640.8" y1="1332.6" x2="863.6" y2="1332.6" stroke="#666" stroke-width="1.0"/>
<line x1="867.0" y1="1332.0" x2="1091.8" y2="1332.0" stroke="#666" stroke-width="1.0"/>
<text transform="translate(58.6,1424.0) rotate(-90)" class="serif" font-size="21" fill="#000" text-anchor="middle" textLength="45.0" lengthAdjust="spacingAndGlyphs">Bright</text>
<text transform="translate(58.6,1535.0) rotate(-90)" class="serif" font-size="21" fill="#2f55c8" text-anchor="middle" textLength="41.9" lengthAdjust="spacingAndGlyphs">DAPI</text>
<text transform="translate(58.6,1648.7) rotate(-90)" class="serif" font-size="21" fill="#4b742c" text-anchor="middle" textLength="74.0" lengthAdjust="spacingAndGlyphs">H3K4me2</text>
<text transform="translate(58.6,1759.4) rotate(-90)" class="serif" font-size="21" fill="#2c2c2c" text-anchor="middle" textLength="45.9" lengthAdjust="spacingAndGlyphs">Merge</text>
<svg x="70.10" y="1359.40" width="110.40" height="110.40" viewBox="0 0 110 110" preserveAspectRatio="none" overflow="hidden">
<rect width="110" height="110" fill="#e1e1e1"/>
<path d="M2,50 C6,22 32,11 58,12 C84,14 100,30 109,47 C102,70 84,96 54,97 C26,98 4,80 2,50 Z" fill="#e4e4e4" stroke="#a8a8a8" stroke-width="0.7"/>
<g filter="url(#tx3)"><path d="M2,50 C6,22 32,11 58,12 C84,14 100,30 109,47 C102,70 84,96 54,97 C26,98 4,80 2,50 Z"/></g>
<ellipse cx="35" cy="50" rx="18" ry="24" fill="#c9c9c9" filter="url(#b5)" opacity="0.55"/>
<ellipse cx="72" cy="50" rx="9" ry="9" fill="#cfcfcf" filter="url(#b3)" opacity="0.5"/>
<ellipse cx="60" cy="72" rx="10" ry="9" fill="#d0d0d0" filter="url(#b3)" opacity="0.45"/>
<ellipse cx="74" cy="82" rx="8" ry="8" fill="#d2d2d2" filter="url(#b3)" opacity="0.4"/>
<path d="M3,49 C30,42 60,30 108,47" fill="none" stroke="#b4b4b4" stroke-width="0.5" opacity="0.7"/>
<path d="M20,22 C40,50 60,60 92,70" fill="none" stroke="#bdbdbd" stroke-width="0.5" opacity="0.6"/>
<g fill="#f4f4f4" filter="url(#b1)" opacity="0.8"><circle cx="66.7" cy="76.4" r="1.0"/><circle cx="40.7" cy="29.2" r="1.2"/><circle cx="25.7" cy="37.8" r="0.8"/><circle cx="17.1" cy="50.0" r="1.3"/><circle cx="72.9" cy="35.0" r="1.2"/><circle cx="50.1" cy="67.0" r="1.6"/><circle cx="36.5" cy="30.3" r="1.2"/><circle cx="29.2" cy="54.9" r="1.3"/><circle cx="38.5" cy="40.2" r="0.9"/><circle cx="31.5" cy="79.4" r="1.3"/><circle cx="47.6" cy="32.7" r="1.2"/><circle cx="61.7" cy="47.4" r="1.0"/><circle cx="21.0" cy="40.7" r="1.2"/><circle cx="23.2" cy="46.9" r="1.5"/><circle cx="75.8" cy="35.1" r="1.4"/><circle cx="9.7" cy="61.2" r="1.2"/><circle cx="21.8" cy="32.5" r="1.5"/><circle cx="21.3" cy="73.6" r="1.4"/><circle cx="75.2" cy="41.3" r="1.3"/><circle cx="76.7" cy="51.0" r="1.2"/><circle cx="83.9" cy="42.4" r="1.0"/><circle cx="81.3" cy="68.8" r="1.7"/><circle cx="32.9" cy="66.4" r="1.5"/><circle cx="65.2" cy="49.2" r="1.2"/><circle cx="38.2" cy="41.4" r="1.2"/><circle cx="65.3" cy="73.4" r="1.0"/><circle cx="69.8" cy="65.3" r="1.0"/><circle cx="59.4" cy="64.0" r="1.2"/><circle cx="33.9" cy="81.4" r="1.2"/><circle cx="48.7" cy="69.7" r="1.1"/><circle cx="47.2" cy="39.8" r="1.3"/><circle cx="60.7" cy="26.0" r="1.3"/><circle cx="65.6" cy="32.2" r="1.0"/><circle cx="61.8" cy="62.7" r="1.6"/><circle cx="19.8" cy="74.9" r="1.8"/><circle cx="72.0" cy="43.7" r="0.8"/><circle cx="44.9" cy="70.7" r="1.4"/><circle cx="36.6" cy="23.8" r="1.5"/><circle cx="78.9" cy="48.2" r="1.3"/><circle cx="58.9" cy="39.8" r="1.6"/><circle cx="42.8" cy="23.7" r="0.9"/><circle cx="62.7" cy="85.7" r="0.9"/><circle cx="18.4" cy="63.0" r="1.3"/><circle cx="76.4" cy="32.1" r="1.1"/><circle cx="73.4" cy="79.3" r="1.3"/><circle cx="48.1" cy="67.6" r="0.8"/><circle cx="29.6" cy="46.1" r="1.4"/><circle cx="79.8" cy="67.1" r="1.6"/><circle cx="54.8" cy="53.5" r="1.3"/><circle cx="19.0" cy="45.9" r="1.3"/></g>
</svg>
<svg x="183.20" y="1359.40" width="110.70" height="110.40" viewBox="0 0 110 110" preserveAspectRatio="none" overflow="hidden">
<rect width="110" height="110" fill="#e1e1e1"/>
<g fill="#9a9a9a" opacity="0.45" filter="url(#b1)"><ellipse cx="56.3" cy="55.7" rx="38.7" ry="38.7"/><ellipse cx="45" cy="42" rx="26.7" ry="26.7"/><ellipse cx="66" cy="70" rx="26.7" ry="26.7"/></g>
<g fill="none" stroke="#9a9a9a" stroke-opacity="0.65" stroke-width="2.6" stroke-linecap="round" stroke-dasharray="0.1 3.3"><ellipse cx="56.3" cy="55.7" rx="38.2" ry="38.2"/><ellipse cx="45" cy="42" rx="26.2" ry="26.2"/><ellipse cx="66" cy="70" rx="26.2" ry="26.2"/></g>
<g fill="none" stroke="#ededed" stroke-width="1.5" stroke-linecap="round" stroke-dasharray="0.1 3.3"><ellipse cx="56.3" cy="55.7" rx="38.2" ry="38.2"/><ellipse cx="45" cy="42" rx="26.2" ry="26.2"/><ellipse cx="66" cy="70" rx="26.2" ry="26.2"/></g>
<g fill="#e4e4e4" opacity="1.0"><ellipse cx="56.3" cy="55.7" rx="38" ry="38"/><ellipse cx="45" cy="42" rx="26" ry="26"/><ellipse cx="66" cy="70" rx="26" ry="26"/></g>
<g filter="url(#tx1)" opacity="0.75"><ellipse cx="56.3" cy="55.7" rx="38" ry="38"/><ellipse cx="45" cy="42" rx="26" ry="26"/><ellipse cx="66" cy="70" rx="26" ry="26"/></g>
<circle cx="20.8" cy="74.9" r="8.9" fill="#e8e8e8" fill-opacity="0.85" stroke="#5a4a50" stroke-opacity="0.7" stroke-width="1.1"/>
<circle cx="34" cy="88" r="3" fill="#eeeeee" stroke="#8a8486" stroke-opacity="0.6" stroke-width="0.5"/>
</svg>
<svg x="297.30" y="1359.40" width="110.70" height="110.40" viewBox="0 0 110 110" preserveAspectRatio="none" overflow="hidden">
<rect width="110" height="110" fill="#e2e2e2"/>
<g fill="#9a9a9a" opacity="0.55" filter="url(#b1)"><ellipse cx="41" cy="42" rx="25.7" ry="25.7"/><ellipse cx="72" cy="56" rx="24.7" ry="24.7"/><ellipse cx="60" cy="78" rx="22.7" ry="20.7"/><ellipse cx="55" cy="57" rx="27.7" ry="27.7"/></g>
<g fill="none" stroke="#9a9a9a" stroke-opacity="0.75" stroke-width="2.6" stroke-linecap="round" stroke-dasharray="0.1 3.3"><ellipse cx="41" cy="42" rx="25.2" ry="25.2"/><ellipse cx="72" cy="56" rx="24.2" ry="24.2"/><ellipse cx="60" cy="78" rx="22.2" ry="20.2"/><ellipse cx="55" cy="57" rx="27.2" ry="27.2"/></g>
<g fill="none" stroke="#ededed" stroke-width="1.5" stroke-linecap="round" stroke-dasharray="0.1 3.3"><ellipse cx="41" cy="42" rx="25.2" ry="25.2"/><ellipse cx="72" cy="56" rx="24.2" ry="24.2"/><ellipse cx="60" cy="78" rx="22.2" ry="20.2"/><ellipse cx="55" cy="57" rx="27.2" ry="27.2"/></g>
<g fill="#e4e4e4" opacity="1.0"><ellipse cx="41" cy="42" rx="25" ry="25"/><ellipse cx="72" cy="56" rx="24" ry="24"/><ellipse cx="60" cy="78" rx="22" ry="20"/><ellipse cx="55" cy="57" rx="27" ry="27"/></g>
<g filter="url(#tx1)" opacity="0.75"><ellipse cx="41" cy="42" rx="25" ry="25"/><ellipse cx="72" cy="56" rx="24" ry="24"/><ellipse cx="60" cy="78" rx="22" ry="20"/><ellipse cx="55" cy="57" rx="27" ry="27"/></g>
<circle cx="22.3" cy="15.2" r="10.3" fill="#e8e8e8" fill-opacity="0.85" stroke="#5a4a50" stroke-opacity="0.9" stroke-width="1.6"/>
<circle cx="61" cy="97" r="2.4" fill="#eeeeee" stroke="#8a8486" stroke-opacity="0.6" stroke-width="0.5"/>
<circle cx="66" cy="95" r="2.2" fill="#eeeeee" stroke="#8a8486" stroke-opacity="0.6" stroke-width="0.5"/>
</svg>
<svg x="411.40" y="1359.40" width="110.40" height="110.40" viewBox="0 0 110 110" preserveAspectRatio="none" overflow="hidden">
<rect width="110" height="110" fill="#e2e2e2"/>
<g fill="#8f8f8f" opacity="0.5" filter="url(#b1)"><ellipse cx="60.9" cy="53.8" rx="41.2" ry="38.7"/><ellipse cx="78" cy="38" rx="22.7" ry="22.7"/></g>
<g fill="none" stroke="#8f8f8f" stroke-opacity="0.7" stroke-width="2.6" stroke-linecap="round" stroke-dasharray="0.1 3.3"><ellipse cx="60.9" cy="53.8" rx="40.7" ry="38.2"/><ellipse cx="78" cy="38" rx="22.2" ry="22.2"/></g>
<g fill="none" stroke="#ededed" stroke-width="1.5" stroke-linecap="round" stroke-dasharray="0.1 3.3"><ellipse cx="60.9" cy="53.8" rx="40.7" ry="38.2"/><ellipse cx="78" cy="38" rx="22.2" ry="22.2"/></g>
<g fill="#e4e4e4" opacity="1.0"><ellipse cx="60.9" cy="53.8" rx="40.5" ry="38"/><ellipse cx="78" cy="38" rx="22" ry="22"/></g>
<g filter="url(#tx4)" opacity="0.75"><ellipse cx="60.9" cy="53.8" rx="40.5" ry="38"/><ellipse cx="78" cy="38" rx="22" ry="22"/></g>
<circle cx="58.9" cy="12.3" r="7.5" fill="#e8e8e8" fill-opacity="0.85" stroke="#5a4a50" stroke-opacity="0.6" stroke-width="0.9"/>
<circle cx="11.5" cy="52.8" r="6.9" fill="#e8e8e8" fill-opacity="0.85" stroke="#5a4a50" stroke-opacity="0.65" stroke-width="0.9"/>
<circle cx="26.9" cy="74.1" r="4.9" fill="#e8e8e8" fill-opacity="0.85" stroke="#5a4a50" stroke-opacity="0.6" stroke-width="0.9"/>
<circle cx="68.4" cy="100.2" r="5.9" fill="#e8e8e8" fill-opacity="0.85" stroke="#5a4a50" stroke-opacity="0.6" stroke-width="0.9"/>
</svg>
<svg x="525.20" y="1359.40" width="110.50" height="110.40" viewBox="0 0 110 110" preserveAspectRatio="none" overflow="hidden">
<rect width="110" height="110" fill="#e2e2e2"/>
<g fill="#9a9a9a" opacity="0.5" filter="url(#b1)"><ellipse cx="58.9" cy="57.7" rx="44.2" ry="42.7"/></g>
<g fill="none" stroke="#9a9a9a" stroke-opacity="0.7" stroke-width="2.6" stroke-linecap="round" stroke-dasharray="0.1 3.3"><ellipse cx="58.9" cy="57.7" rx="43.7" ry="42.2"/></g>
<g fill="none" stroke="#ededed" stroke-width="1.5" stroke-linecap="round" stroke-dasharray="0.1 3.3"><ellipse cx="58.9" cy="57.7" rx="43.7" ry="42.2"/></g>
<g fill="#e4e4e4" opacity="1.0"><ellipse cx="58.9" cy="57.7" rx="43.5" ry="42"/></g>
<g filter="url(#tx1)" opacity="0.75"><ellipse cx="58.9" cy="57.7" rx="43.5" ry="42"/></g>
<circle cx="91.5" cy="19.2" r="14.8" fill="#e8e8e8" fill-opacity="0.85" stroke="#5a4a50" stroke-opacity="0.85" stroke-width="1.1"/>
<circle cx="12" cy="75.5" r="5.9" fill="#e8e8e8" fill-opacity="0.85" stroke="#5a4a50" stroke-opacity="0.8" stroke-width="1.0"/>
<circle cx="69" cy="97" r="2.6" fill="#eeeeee" stroke="#8a8486" stroke-opacity="0.6" stroke-width="0.5"/>
</svg>
<svg x="639.00" y="1359.40" width="109.80" height="110.40" viewBox="0 0 110 110" preserveAspectRatio="none" overflow="hidden">
<rect width="110" height="110" fill="#e2e2e2"/>
<g fill="#9a9a9a" opacity="0.45" filter="url(#b1)"><ellipse cx="57.3" cy="55.7" rx="37.2" ry="36.7"/></g>
<g fill="none" stroke="#9a9a9a" stroke-opacity="0.65" stroke-width="2.6" stroke-linecap="round" stroke-dasharray="0.1 3.3"><ellipse cx="57.3" cy="55.7" rx="36.7" ry="36.2"/></g>
<g fill="none" stroke="#ededed" stroke-width="1.5" stroke-linecap="round" stroke-dasharray="0.1 3.3"><ellipse cx="57.3" cy="55.7" rx="36.7" ry="36.2"/></g>
<g fill="#e4e4e4" opacity="1.0"><ellipse cx="57.3" cy="55.7" rx="36.5" ry="36"/></g>
<g filter="url(#tx1)" opacity="0.75"><ellipse cx="57.3" cy="55.7" rx="36.5" ry="36"/></g>
<circle cx="88" cy="23.1" r="9.3" fill="#e8e8e8" fill-opacity="0.85" stroke="#5a4a50" stroke-opacity="0.7" stroke-width="1.0"/>
<circle cx="73.7" cy="17.2" r="4.9" fill="#e8e8e8" fill-opacity="0.85" stroke="#5a4a50" stroke-opacity="0.6" stroke-width="0.9"/>
<circle cx="79" cy="86.4" r="4.7" fill="#e8e8e8" fill-opacity="0.85" stroke="#5a4a50" stroke-opacity="0.6" stroke-width="0.9"/>
<circle cx="97" cy="55" r="1.6" fill="#eeeeee" stroke="#8a8486" stroke-opacity="0.6" stroke-width="0.5"/>
<circle cx="24" cy="65" r="1.5" fill="#eeeeee" stroke="#8a8486" stroke-opacity="0.6" stroke-width="0.5"/>
<circle cx="30" cy="82" r="1.8" fill="#eeeeee" stroke="#8a8486" stroke-opacity="0.6" stroke-width="0.5"/>
</svg>
<svg x="752.80" y="1359.40" width="109.80" height="110.40" viewBox="0 0 110 110" preserveAspectRatio="none" overflow="hidden">
<rect width="110" height="110" fill="#e2e2e2"/>
<g fill="#9a9892" opacity="0.5" filter="url(#b1)"><ellipse cx="54.3" cy="53.8" rx="36.2" ry="35.7"/></g>
<g fill="none" stroke="#9a9892" stroke-opacity="0.7" stroke-width="2.6" stroke-linecap="round" stroke-dasharray="0.1 3.3"><ellipse cx="54.3" cy="53.8" rx="35.7" ry="35.2"/></g>
<g fill="none" stroke="#ededed" stroke-width="1.5" stroke-linecap="round" stroke-dasharray="0.1 3.3"><ellipse cx="54.3" cy="53.8" rx="35.7" ry="35.2"/></g>
<g fill="#e2e1df" opacity="1.0"><ellipse cx="54.3" cy="53.8" rx="35.5" ry="35"/></g>
<g filter="url(#tx1)" opacity="0.75"><ellipse cx="54.3" cy="53.8" rx="35.5" ry="35"/></g>
<circle cx="55.3" cy="91.3" r="5.3" fill="#e8e8e8" fill-opacity="0.85" stroke="#5a4a50" stroke-opacity="0.55" stroke-width="0.9"/>
<circle cx="44" cy="99.2" r="3.4" fill="#e8e8e8" fill-opacity="0.85" stroke="#5a4a50" stroke-opacity="0.5" stroke-width="0.8"/>
<circle cx="18.2" cy="67" r="4" fill="#e8e8e8" fill-opacity="0.85" stroke="#5a4a50" stroke-opacity="0.5" stroke-width="0.8"/>
<circle cx="90" cy="66" r="4" fill="#e8e8e8" fill-opacity="0.85" stroke="#5a4a50" stroke-opacity="0.5" stroke-width="0.8"/>
<circle cx="90.3" cy="36.6" r="2.6" fill="#eeeeee" stroke="#8a8486" stroke-opacity="0.6" stroke-width="0.5"/>
<circle cx="22.3" cy="33.4" r="2" fill="#eeeeee" stroke="#8a8486" stroke-opacity="0.6" stroke-width="0.5"/>
<circle cx="68.8" cy="20.2" r="2.4" fill="#eeeeee" stroke="#8a8486" stroke-opacity="0.6" stroke-width="0.5"/>
<circle cx="40" cy="3.8" r="1.6" fill="#eeeeee" stroke="#8a8486" stroke-opacity="0.6" stroke-width="0.5"/>
<circle cx="59.7" cy="1.4" r="2" fill="#eeeeee" stroke="#8a8486" stroke-opacity="0.6" stroke-width="0.5"/>
<circle cx="46" cy="20" r="2" fill="#eeeeee" stroke="#8a8486" stroke-opacity="0.6" stroke-width="0.5"/>
<circle cx="16" cy="73" r="1.6" fill="#eeeeee" stroke="#8a8486" stroke-opacity="0.6" stroke-width="0.5"/>
<circle cx="72" cy="90" r="1.4" fill="#eeeeee" stroke="#8a8486" stroke-opacity="0.6" stroke-width="0.5"/>
</svg>
<svg x="866.00" y="1359.40" width="111.40" height="110.40" viewBox="0 0 110 110" preserveAspectRatio="none" overflow="hidden">
<rect width="110" height="110" fill="#e4e4e4"/>
<g fill="#c6c6c6" opacity="0.3" filter="url(#b1)"><ellipse cx="55.9" cy="55.7" rx="51.7" ry="46.7"/></g>
<g fill="#e5e5e5" opacity="1.0"><ellipse cx="55.9" cy="55.7" rx="51" ry="46"/></g>
<g filter="url(#tx3)" opacity="0.3"><ellipse cx="55.9" cy="55.7" rx="51" ry="46"/></g>
<g fill="#c9c9c9" filter="url(#b1)" opacity="0.55"><circle cx="33.2" cy="23.5" r="2.0"/><circle cx="42.5" cy="68.7" r="1.9"/><circle cx="38.1" cy="43.1" r="2.0"/><circle cx="26.0" cy="63.5" r="1.0"/><circle cx="47.8" cy="33.6" r="2.0"/><circle cx="39.8" cy="22.9" r="1.5"/><circle cx="32.5" cy="61.0" r="0.9"/><circle cx="10.4" cy="37.3" r="1.2"/><circle cx="12.2" cy="34.1" r="1.7"/><circle cx="26.4" cy="25.9" r="1.6"/><circle cx="9.1" cy="45.6" r="1.3"/><circle cx="16.9" cy="40.6" r="1.0"/><circle cx="32.6" cy="74.9" r="1.2"/><circle cx="44.6" cy="59.8" r="2.0"/><circle cx="34.2" cy="31.5" r="1.4"/><circle cx="16.3" cy="62.8" r="1.3"/><circle cx="20.7" cy="18.2" r="1.3"/><circle cx="43.0" cy="73.9" r="1.6"/><circle cx="17.6" cy="52.3" r="1.1"/><circle cx="10.1" cy="55.0" r="1.4"/><circle cx="29.4" cy="47.1" r="1.3"/><circle cx="27.9" cy="42.9" r="0.9"/><circle cx="34.1" cy="21.8" r="1.5"/><circle cx="32.3" cy="81.5" r="1.8"/><circle cx="13.0" cy="52.4" r="1.3"/><circle cx="38.3" cy="80.0" r="1.4"/><circle cx="21.8" cy="69.8" r="1.6"/><circle cx="37.8" cy="50.2" r="1.9"/><circle cx="26.5" cy="29.6" r="0.9"/><circle cx="38.5" cy="29.4" r="1.0"/><circle cx="34.2" cy="38.0" r="1.4"/><circle cx="27.3" cy="52.4" r="1.4"/><circle cx="33.4" cy="48.4" r="1.4"/><circle cx="20.4" cy="42.0" r="1.9"/><circle cx="22.1" cy="53.8" r="1.3"/><circle cx="40.8" cy="64.9" r="0.8"/><circle cx="26.4" cy="73.2" r="1.6"/><circle cx="31.6" cy="72.6" r="1.3"/><circle cx="51.7" cy="45.6" r="0.9"/><circle cx="24.8" cy="41.2" r="1.6"/></g>
<ellipse cx="97" cy="29.5" rx="0.7" ry="0.7" fill="#777"/>
</svg>
<svg x="980.40" y="1359.40" width="110.70" height="110.40" viewBox="0 0 110 110" preserveAspectRatio="none" overflow="hidden">
<rect width="110" height="110" fill="#e6e6e6"/>
<g fill="#cacaca" opacity="0.3" filter="url(#b1)"><ellipse cx="55.9" cy="57.7" rx="51.7" ry="50.7"/></g>
<g fill="#e7e7e7" opacity="1.0"><ellipse cx="55.9" cy="57.7" rx="51" ry="50"/></g>
<g filter="url(#tx3)" opacity="0.2"><ellipse cx="55.9" cy="57.7" rx="51" ry="50"/></g>
<g fill="#8e8e8e" filter="url(#b1)" opacity="0.5"><ellipse cx="42.3" cy="50.3" rx="0.9" ry="0.6" transform="rotate(69 42.3 50.3)"/><ellipse cx="44.7" cy="75.1" rx="0.9" ry="0.8" transform="rotate(169 44.7 75.1)"/><ellipse cx="40.0" cy="85.1" rx="1.3" ry="1.1" transform="rotate(165 40.0 85.1)"/><ellipse cx="56.3" cy="80.0" rx="0.6" ry="0.4" transform="rotate(91 56.3 80.0)"/><ellipse cx="96.0" cy="44.9" rx="0.9" ry="0.4" transform="rotate(86 96.0 44.9)"/><ellipse cx="46.3" cy="101.8" rx="1.0" ry="0.5" transform="rotate(86 46.3 101.8)"/><ellipse cx="26.0" cy="80.8" rx="0.8" ry="0.6" transform="rotate(135 26.0 80.8)"/><ellipse cx="58.8" cy="66.0" rx="1.4" ry="1.3" transform="rotate(27 58.8 66.0)"/><ellipse cx="53.7" cy="17.5" rx="0.9" ry="0.6" transform="rotate(167 53.7 17.5)"/><ellipse cx="80.8" cy="77.0" rx="1.5" ry="1.5" transform="rotate(91 80.8 77.0)"/><ellipse cx="59.9" cy="73.9" rx="1.5" ry="0.5" transform="rotate(7 59.9 73.9)"/><ellipse cx="70.2" cy="46.5" rx="1.2" ry="1.2" transform="rotate(94 70.2 46.5)"/><ellipse cx="103.8" cy="55.2" rx="1.4" ry="0.6" transform="rotate(167 103.8 55.2)"/><ellipse cx="50.0" cy="42.4" rx="1.5" ry="1.3" transform="rotate(108 50.0 42.4)"/><ellipse cx="41.8" cy="53.8" rx="0.8" ry="0.4" transform="rotate(96 41.8 53.8)"/><ellipse cx="54.2" cy="27.4" rx="0.8" ry="0.8" transform="rotate(100 54.2 27.4)"/><ellipse cx="40.3" cy="90.4" rx="1.4" ry="0.5" transform="rotate(11 40.3 90.4)"/><ellipse cx="95.2" cy="66.3" rx="0.9" ry="0.6" transform="rotate(140 95.2 66.3)"/><ellipse cx="37.2" cy="56.2" rx="1.0" ry="0.7" transform="rotate(162 37.2 56.2)"/><ellipse cx="89.1" cy="33.9" rx="1.3" ry="1.2" transform="rotate(130 89.1 33.9)"/><ellipse cx="30.9" cy="44.1" rx="1.0" ry="1.0" transform="rotate(33 30.9 44.1)"/><ellipse cx="79.1" cy="59.6" rx="0.6" ry="0.4" transform="rotate(76 79.1 59.6)"/><ellipse cx="82.8" cy="84.1" rx="0.7" ry="0.3" transform="rotate(39 82.8 84.1)"/><ellipse cx="78.5" cy="88.2" rx="0.6" ry="0.5" transform="rotate(22 78.5 88.2)"/><ellipse cx="65.4" cy="59.6" rx="1.1" ry="1.0" transform="rotate(103 65.4 59.6)"/><ellipse cx="42.6" cy="71.0" rx="1.1" ry="0.4" transform="rotate(111 42.6 71.0)"/><ellipse cx="51.9" cy="10.9" rx="0.6" ry="0.5" transform="rotate(105 51.9 10.9)"/><ellipse cx="31.4" cy="55.1" rx="0.7" ry="0.6" transform="rotate(93 31.4 55.1)"/><ellipse cx="66.4" cy="50.6" rx="1.2" ry="1.0" transform="rotate(133 66.4 50.6)"/><ellipse cx="40.7" cy="45.6" rx="1.4" ry="1.2" transform="rotate(39 40.7 45.6)"/><ellipse cx="92.4" cy="72.0" rx="1.5" ry="0.8" transform="rotate(65 92.4 72.0)"/><ellipse cx="79.4" cy="50.6" rx="1.4" ry="0.8" transform="rotate(159 79.4 50.6)"/><ellipse cx="65.6" cy="76.6" rx="0.8" ry="0.8" transform="rotate(47 65.6 76.6)"/><ellipse cx="36.6" cy="32.6" rx="1.2" ry="1.0" transform="rotate(68 36.6 32.6)"/><ellipse cx="23.2" cy="85.6" rx="1.1" ry="0.7" transform="rotate(57 23.2 85.6)"/><ellipse cx="54.1" cy="52.8" rx="0.8" ry="0.4" transform="rotate(35 54.1 52.8)"/><ellipse cx="51.9" cy="77.8" rx="1.2" ry="0.8" transform="rotate(139 51.9 77.8)"/><ellipse cx="86.9" cy="85.3" rx="1.1" ry="1.0" transform="rotate(156 86.9 85.3)"/><ellipse cx="91.9" cy="33.5" rx="1.2" ry="1.0" transform="rotate(134 91.9 33.5)"/><ellipse cx="76.5" cy="80.4" rx="1.2" ry="1.0" transform="rotate(149 76.5 80.4)"/><ellipse cx="38.7" cy="86.4" rx="1.1" ry="1.0" transform="rotate(10 38.7 86.4)"/><ellipse cx="79.6" cy="36.8" rx="0.9" ry="0.8" transform="rotate(128 79.6 36.8)"/><ellipse cx="15.8" cy="34.0" rx="1.4" ry="0.5" transform="rotate(158 15.8 34.0)"/><ellipse cx="82.2" cy="87.5" rx="0.8" ry="0.5" transform="rotate(122 82.2 87.5)"/><ellipse cx="68.1" cy="101.7" rx="1.0" ry="0.6" transform="rotate(23 68.1 101.7)"/><ellipse cx="48.4" cy="34.0" rx="1.0" ry="0.7" transform="rotate(31 48.4 34.0)"/><ellipse cx="12.3" cy="46.3" rx="1.5" ry="0.7" transform="rotate(13 12.3 46.3)"/><ellipse cx="10.0" cy="70.0" rx="1.0" ry="0.6" transform="rotate(71 10.0 70.0)"/><ellipse cx="13.3" cy="43.9" rx="1.2" ry="0.5" transform="rotate(120 13.3 43.9)"/><ellipse cx="83.6" cy="68.8" rx="1.3" ry="1.2" transform="rotate(146 83.6 68.8)"/><ellipse cx="79.9" cy="23.6" rx="0.9" ry="0.4" transform="rotate(34 79.9 23.6)"/><ellipse cx="59.9" cy="45.7" rx="1.4" ry="1.2" transform="rotate(90 59.9 45.7)"/><ellipse cx="82.2" cy="82.9" rx="1.0" ry="0.9" transform="rotate(40 82.2 82.9)"/><ellipse cx="87.0" cy="36.3" rx="1.1" ry="0.9" transform="rotate(17 87.0 36.3)"/><ellipse cx="15.7" cy="76.2" rx="1.5" ry="1.1" transform="rotate(43 15.7 76.2)"/><ellipse cx="72.5" cy="22.7" rx="1.0" ry="1.0" transform="rotate(74 72.5 22.7)"/><ellipse cx="85.0" cy="28.5" rx="1.0" ry="0.5" transform="rotate(54 85.0 28.5)"/><ellipse cx="83.6" cy="62.6" rx="1.3" ry="1.2" transform="rotate(165 83.6 62.6)"/><ellipse cx="25.8" cy="71.3" rx="1.3" ry="0.9" transform="rotate(46 25.8 71.3)"/><ellipse cx="55.4" cy="86.1" rx="0.6" ry="0.3" transform="rotate(107 55.4 86.1)"/><ellipse cx="29.0" cy="36.8" rx="1.3" ry="0.6" transform="rotate(29 29.0 36.8)"/><ellipse cx="51.4" cy="20.0" rx="1.2" ry="0.7" transform="rotate(167 51.4 20.0)"/><ellipse cx="31.9" cy="32.2" rx="0.8" ry="0.8" transform="rotate(46 31.9 32.2)"/><ellipse cx="45.3" cy="73.4" rx="1.4" ry="1.2" transform="rotate(172 45.3 73.4)"/><ellipse cx="30.1" cy="64.8" rx="1.5" ry="0.5" transform="rotate(163 30.1 64.8)"/><ellipse cx="32.2" cy="80.5" rx="0.8" ry="0.2" transform="rotate(163 32.2 80.5)"/><ellipse cx="75.0" cy="47.4" rx="1.5" ry="0.5" transform="rotate(114 75.0 47.4)"/><ellipse cx="20.6" cy="83.6" rx="1.3" ry="0.7" transform="rotate(112 20.6 83.6)"/><ellipse cx="20.5" cy="40.9" rx="1.5" ry="1.4" transform="rotate(149 20.5 40.9)"/><ellipse cx="46.1" cy="64.7" rx="1.0" ry="0.9" transform="rotate(97 46.1 64.7)"/><ellipse cx="41.9" cy="60.1" rx="0.7" ry="0.6" transform="rotate(179 41.9 60.1)"/><ellipse cx="90.9" cy="71.7" rx="1.3" ry="1.0" transform="rotate(54 90.9 71.7)"/><ellipse cx="71.3" cy="31.1" rx="0.9" ry="0.3" transform="rotate(51 71.3 31.1)"/><ellipse cx="20.3" cy="82.2" rx="0.9" ry="0.7" transform="rotate(113 20.3 82.2)"/><ellipse cx="75.0" cy="45.3" rx="1.0" ry="0.9" transform="rotate(153 75.0 45.3)"/><ellipse cx="84.8" cy="21.9" rx="0.6" ry="0.5" transform="rotate(53 84.8 21.9)"/><ellipse cx="72.2" cy="33.5" rx="1.0" ry="0.7" transform="rotate(14 72.2 33.5)"/><ellipse cx="23.0" cy="67.3" rx="1.5" ry="1.3" transform="rotate(59 23.0 67.3)"/><ellipse cx="23.4" cy="27.6" rx="1.5" ry="1.0" transform="rotate(59 23.4 27.6)"/><ellipse cx="39.7" cy="53.0" rx="1.2" ry="1.0" transform="rotate(71 39.7 53.0)"/><ellipse cx="27.7" cy="52.7" rx="0.7" ry="0.3" transform="rotate(154 27.7 52.7)"/><ellipse cx="70.1" cy="76.2" rx="1.2" ry="0.7" transform="rotate(75 70.1 76.2)"/><ellipse cx="27.5" cy="70.4" rx="0.6" ry="0.3" transform="rotate(96 27.5 70.4)"/><ellipse cx="62.2" cy="55.3" rx="1.2" ry="1.1" transform="rotate(120 62.2 55.3)"/><ellipse cx="45.3" cy="92.7" rx="1.3" ry="1.1" transform="rotate(80 45.3 92.7)"/><ellipse cx="97.6" cy="53.4" rx="0.9" ry="0.9" transform="rotate(85 97.6 53.4)"/><ellipse cx="38.6" cy="14.2" rx="1.0" ry="0.3" transform="rotate(172 38.6 14.2)"/><ellipse cx="33.0" cy="68.1" rx="0.9" ry="0.7" transform="rotate(47 33.0 68.1)"/><ellipse cx="36.4" cy="29.9" rx="0.9" ry="0.5" transform="rotate(123 36.4 29.9)"/><ellipse cx="39.7" cy="58.2" rx="0.7" ry="0.4" transform="rotate(3 39.7 58.2)"/><ellipse cx="58.6" cy="91.0" rx="1.4" ry="1.3" transform="rotate(24 58.6 91.0)"/><ellipse cx="62.0" cy="26.1" rx="0.9" ry="0.5" transform="rotate(34 62.0 26.1)"/><ellipse cx="50.1" cy="69.6" rx="0.7" ry="0.3" transform="rotate(142 50.1 69.6)"/><ellipse cx="86.9" cy="39.0" rx="1.1" ry="0.7" transform="rotate(49 86.9 39.0)"/><ellipse cx="72.8" cy="18.2" rx="1.1" ry="0.5" transform="rotate(74 72.8 18.2)"/><ellipse cx="36.5" cy="57.4" rx="0.7" ry="0.7" transform="rotate(48 36.5 57.4)"/><ellipse cx="65.1" cy="99.2" rx="1.0" ry="0.6" transform="rotate(177 65.1 99.2)"/><ellipse cx="84.0" cy="44.6" rx="0.8" ry="0.2" transform="rotate(68 84.0 44.6)"/><ellipse cx="74.7" cy="81.8" rx="0.8" ry="0.7" transform="rotate(77 74.7 81.8)"/><ellipse cx="49.2" cy="95.7" rx="1.2" ry="0.4" transform="rotate(122 49.2 95.7)"/><ellipse cx="68.7" cy="18.8" rx="0.6" ry="0.5" transform="rotate(116 68.7 18.8)"/><ellipse cx="43.7" cy="32.4" rx="0.8" ry="0.4" transform="rotate(140 43.7 32.4)"/><ellipse cx="77.5" cy="31.8" rx="1.3" ry="1.0" transform="rotate(125 77.5 31.8)"/><ellipse cx="103.3" cy="60.9" rx="1.2" ry="0.8" transform="rotate(97 103.3 60.9)"/><ellipse cx="61.9" cy="18.9" rx="1.2" ry="1.2" transform="rotate(99 61.9 18.9)"/><ellipse cx="70.9" cy="37.8" rx="1.0" ry="0.5" transform="rotate(59 70.9 37.8)"/><ellipse cx="37.2" cy="45.4" rx="1.0" ry="0.5" transform="rotate(40 37.2 45.4)"/><ellipse cx="42.8" cy="31.1" rx="1.3" ry="1.2" transform="rotate(118 42.8 31.1)"/><ellipse cx="38.2" cy="36.3" rx="1.0" ry="0.4" transform="rotate(37 38.2 36.3)"/><ellipse cx="72.4" cy="73.7" rx="1.4" ry="1.2" transform="rotate(129 72.4 73.7)"/><ellipse cx="48.6" cy="56.3" rx="0.8" ry="0.3" transform="rotate(49 48.6 56.3)"/><ellipse cx="23.4" cy="41.3" rx="1.5" ry="0.8" transform="rotate(125 23.4 41.3)"/><ellipse cx="61.0" cy="16.8" rx="1.1" ry="0.5" transform="rotate(161 61.0 16.8)"/><ellipse cx="86.1" cy="29.1" rx="0.8" ry="0.5" transform="rotate(179 86.1 29.1)"/><ellipse cx="95.2" cy="80.7" rx="1.4" ry="1.3" transform="rotate(126 95.2 80.7)"/><ellipse cx="64.2" cy="80.4" rx="1.2" ry="0.5" transform="rotate(156 64.2 80.4)"/><ellipse cx="69.6" cy="60.0" rx="0.9" ry="0.4" transform="rotate(142 69.6 60.0)"/><ellipse cx="43.5" cy="66.6" rx="0.7" ry="0.7" transform="rotate(121 43.5 66.6)"/><ellipse cx="74.6" cy="60.1" rx="0.8" ry="0.6" transform="rotate(69 74.6 60.1)"/><ellipse cx="75.4" cy="50.0" rx="0.9" ry="0.8" transform="rotate(126 75.4 50.0)"/><ellipse cx="64.7" cy="94.3" rx="1.3" ry="0.8" transform="rotate(112 64.7 94.3)"/><ellipse cx="64.6" cy="28.7" rx="1.0" ry="0.8" transform="rotate(6 64.6 28.7)"/><ellipse cx="53.3" cy="37.8" rx="0.8" ry="0.3" transform="rotate(110 53.3 37.8)"/><ellipse cx="35.2" cy="29.8" rx="1.0" ry="0.5" transform="rotate(121 35.2 29.8)"/><ellipse cx="93.9" cy="31.7" rx="0.9" ry="0.8" transform="rotate(129 93.9 31.7)"/><ellipse cx="28.0" cy="61.6" rx="0.9" ry="0.3" transform="rotate(152 28.0 61.6)"/><ellipse cx="95.3" cy="61.6" rx="1.4" ry="1.4" transform="rotate(100 95.3 61.6)"/><ellipse cx="10.4" cy="61.4" rx="0.7" ry="0.7" transform="rotate(140 10.4 61.4)"/><ellipse cx="82.3" cy="38.0" rx="1.3" ry="0.5" transform="rotate(92 82.3 38.0)"/><ellipse cx="76.0" cy="30.0" rx="1.0" ry="0.4" transform="rotate(114 76.0 30.0)"/></g>
</svg>
<svg x="70.10" y="1474.60" width="110.40" height="110.20" viewBox="0 0 110 110" preserveAspectRatio="none" overflow="hidden">
<rect width="110" height="110" fill="#02021a"/>
<g fill="#2228f0" filter="url(#b1.2)"><circle cx="34.9" cy="46.9" r="2.8"/><circle cx="87.5" cy="43.0" r="2.4"/><circle cx="60.8" cy="73.2" r="1.8"/><circle cx="46.7" cy="38.5" r="2.9"/><circle cx="76.4" cy="62.6" r="1.5"/><circle cx="59.3" cy="31.9" r="2.1"/><circle cx="35.8" cy="83.0" r="2.0"/><circle cx="64.3" cy="80.0" r="1.9"/><circle cx="92.2" cy="78.0" r="2.4"/><circle cx="29.9" cy="23.8" r="2.0"/><circle cx="30.3" cy="72.7" r="2.0"/><circle cx="53.2" cy="52.6" r="2.1"/><circle cx="24.9" cy="50.3" r="1.4"/><circle cx="60.9" cy="61.3" r="1.7"/><circle cx="51.0" cy="32.0" r="2.4"/><circle cx="18.3" cy="59.6" r="2.7"/><circle cx="36.7" cy="89.0" r="2.4"/><circle cx="85.8" cy="59.9" r="2.8"/><circle cx="89.8" cy="30.2" r="1.6"/><circle cx="42.5" cy="22.3" r="2.6"/><circle cx="60.5" cy="41.2" r="1.7"/><circle cx="67.3" cy="23.0" r="2.7"/><circle cx="8.1" cy="67.4" r="1.6"/><circle cx="103.3" cy="45.5" r="1.9"/><circle cx="91.1" cy="67.2" r="2.4"/><circle cx="47.8" cy="62.9" r="1.8"/><circle cx="62.5" cy="44.8" r="2.8"/><circle cx="55.3" cy="72.9" r="1.6"/><circle cx="105.3" cy="50.9" r="1.9"/><circle cx="90.6" cy="73.1" r="2.7"/><circle cx="97.3" cy="57.7" r="2.7"/><circle cx="57.3" cy="75.6" r="2.4"/><circle cx="18.6" cy="46.1" r="1.9"/><circle cx="81.5" cy="47.2" r="2.4"/><circle cx="81.7" cy="40.1" r="1.5"/><circle cx="57.8" cy="65.2" r="1.6"/><circle cx="77.9" cy="71.0" r="2.0"/><circle cx="14.4" cy="65.6" r="2.4"/><circle cx="43.0" cy="33.6" r="2.4"/><circle cx="37.3" cy="51.0" r="2.2"/><circle cx="57.3" cy="81.0" r="2.1"/><circle cx="52.2" cy="62.8" r="1.5"/><circle cx="100.8" cy="53.8" r="2.1"/><circle cx="41.6" cy="37.8" r="2.5"/><circle cx="99.7" cy="44.9" r="2.1"/><circle cx="25.0" cy="69.1" r="1.8"/><circle cx="40.4" cy="45.4" r="2.5"/><circle cx="51.1" cy="86.3" r="2.4"/><circle cx="102.1" cy="50.2" r="1.9"/><circle cx="52.8" cy="40.5" r="2.5"/><circle cx="31.6" cy="65.3" r="1.8"/><circle cx="65.1" cy="89.3" r="1.5"/><circle cx="57.9" cy="72.3" r="1.6"/><circle cx="50.2" cy="25.6" r="2.4"/><circle cx="69.5" cy="81.3" r="2.5"/><circle cx="12.5" cy="34.6" r="1.9"/><circle cx="101.0" cy="39.7" r="2.3"/><circle cx="36.4" cy="57.0" r="1.6"/><circle cx="95.4" cy="63.1" r="2.5"/><circle cx="39.4" cy="63.5" r="1.5"/><circle cx="46.1" cy="82.9" r="2.9"/><circle cx="47.8" cy="73.4" r="2.5"/><circle cx="25.0" cy="74.1" r="1.6"/><circle cx="86.0" cy="25.5" r="2.5"/><circle cx="61.6" cy="69.7" r="1.6"/><circle cx="57.5" cy="21.4" r="1.7"/><circle cx="59.6" cy="37.1" r="2.2"/><circle cx="104.3" cy="63.0" r="1.6"/><circle cx="19.3" cy="37.8" r="2.4"/><circle cx="93.9" cy="43.7" r="2.9"/><circle cx="67.5" cy="57.8" r="1.4"/><circle cx="92.4" cy="82.8" r="2.7"/><circle cx="75.1" cy="46.9" r="2.4"/><circle cx="18.5" cy="52.5" r="2.8"/><circle cx="12.2" cy="72.6" r="1.5"/><circle cx="11.4" cy="49.0" r="1.4"/><circle cx="56.2" cy="69.7" r="2.1"/><circle cx="70.8" cy="60.2" r="2.5"/><circle cx="62.8" cy="64.6" r="2.6"/><circle cx="3.5" cy="52.9" r="2.5"/><circle cx="59.4" cy="18.2" r="1.5"/><circle cx="29.0" cy="47.3" r="2.3"/><circle cx="93.3" cy="28.7" r="2.2"/><circle cx="53.5" cy="43.9" r="1.6"/><circle cx="10.4" cy="42.4" r="1.6"/><circle cx="77.8" cy="77.3" r="1.9"/><circle cx="68.7" cy="67.3" r="2.0"/><circle cx="85.3" cy="56.3" r="1.6"/><circle cx="61.4" cy="91.7" r="1.6"/><circle cx="45.8" cy="18.8" r="1.8"/><circle cx="74.8" cy="38.5" r="2.6"/><circle cx="76.1" cy="52.9" r="2.8"/><circle cx="59.6" cy="67.5" r="2.0"/><circle cx="34.4" cy="22.3" r="2.7"/><circle cx="77.4" cy="56.5" r="1.6"/></g>
</svg>
<svg x="183.20" y="1474.60" width="110.70" height="110.20" viewBox="0 0 110 110" preserveAspectRatio="none" overflow="hidden">
<rect width="110" height="110" fill="#040430"/>
<ellipse cx="55" cy="58" rx="30" ry="34" fill="#0a0a60" filter="url(#b8)" opacity="0.3"/>
<ellipse cx="34.6" cy="42.5" rx="10" ry="10" fill="#15158a" filter="url(#b3)" opacity="0.55"/>
<ellipse cx="71" cy="46.4" rx="4.5" ry="2.6" fill="#2a2ad8" filter="url(#b1)"/>
<ellipse cx="76" cy="46.8" rx="6" ry="4" fill="#1c1ca8" filter="url(#b2)" opacity="0.6"/>
<ellipse cx="67.2" cy="74.1" rx="10" ry="10" fill="#12127a" filter="url(#b3)" opacity="0.45"/>
</svg>
<svg x="297.30" y="1474.60" width="110.70" height="110.20" viewBox="0 0 110 110" preserveAspectRatio="none" overflow="hidden">
<rect width="110" height="110" fill="#040430"/>
<ellipse cx="55" cy="55" rx="40" ry="40" fill="#0e0e80" filter="url(#b6)" opacity="0.5"/>
<ellipse cx="36" cy="43.1" rx="7.5" ry="7.5" fill="#2630e0" filter="url(#b2)" opacity="0.95"/>
<ellipse cx="65.8" cy="67.2" rx="7.5" ry="7.5" fill="#2630e0" filter="url(#b2)" opacity="0.95"/>
<ellipse cx="55.7" cy="39.1" rx="1.8" ry="1.8" fill="#70b0ff" filter="url(#b1)"/>
</svg>
<svg x="411.40" y="1474.60" width="110.40" height="110.20" viewBox="0 0 110 110" preserveAspectRatio="none" overflow="hidden">
<rect width="110" height="110" fill="#050536"/>
<ellipse cx="55" cy="56" rx="36" ry="34" fill="#0c0c78" filter="url(#b8)" opacity="0.35"/>
<ellipse cx="32.2" cy="42.5" rx="8.3" ry="8.3" fill="#2026b8" filter="url(#b2)" opacity="0.75"/>
<ellipse cx="76.7" cy="37.5" rx="8.3" ry="8.3" fill="#2026b8" filter="url(#b2)" opacity="0.75"/>
<ellipse cx="48" cy="69.2" rx="7.9" ry="7.9" fill="#2026b8" filter="url(#b2)" opacity="0.75"/>
<ellipse cx="69.8" cy="79" rx="5.5" ry="5.5" fill="#2026b8" filter="url(#b2)" opacity="0.75"/>
</svg>
<svg x="525.20" y="1474.60" width="110.50" height="110.20" viewBox="0 0 110 110" preserveAspectRatio="none" overflow="hidden">
<rect width="110" height="110" fill="#050540"/>
<ellipse cx="56.9" cy="53.4" rx="44" ry="42" fill="#1414a8" filter="url(#b6)" opacity="0.55"/>
<ellipse cx="59.9" cy="34.6" rx="7.5" ry="7.5" fill="#2a34fa" filter="url(#b1.5)"/>
<ellipse cx="30.6" cy="51.4" rx="7.5" ry="7.5" fill="#2a34fa" filter="url(#b1.5)"/>
<ellipse cx="80.6" cy="53.4" rx="7.1" ry="7.1" fill="#2a34fa" filter="url(#b1.5)"/>
<ellipse cx="47" cy="73.5" rx="8.3" ry="8.3" fill="#2a34fa" filter="url(#b1.5)"/>
<ellipse cx="60.5" cy="58.3" rx="1.8" ry="1.8" fill="#80d0ff" filter="url(#b1)"/>
</svg>
<svg x="639.00" y="1474.60" width="109.80" height="110.20" viewBox="0 0 110 110" preserveAspectRatio="none" overflow="hidden">
<rect width="110" height="110" fill="#05041a"/>
<ellipse cx="55" cy="55" rx="32" ry="32" fill="#0a0a58" filter="url(#b8)" opacity="0.35"/>
<ellipse cx="49.4" cy="32.6" rx="5.5" ry="5.5" fill="#2028c0" filter="url(#b1.5)" opacity="0.85"/>
<ellipse cx="63.2" cy="44.5" rx="5.9" ry="5.9" fill="#2028c0" filter="url(#b1.5)" opacity="0.85"/>
<ellipse cx="28.7" cy="51.4" rx="4.9" ry="4.9" fill="#2028c0" filter="url(#b1.5)" opacity="0.85"/>
<ellipse cx="78.7" cy="59.3" rx="5.5" ry="5.5" fill="#2028c0" filter="url(#b1.5)" opacity="0.85"/>
<ellipse cx="54.3" cy="73.1" rx="5.5" ry="5.5" fill="#2028c0" filter="url(#b1.5)" opacity="0.85"/>
<ellipse cx="40.5" cy="76.1" rx="5.9" ry="5.9" fill="#2028c0" filter="url(#b1.5)" opacity="0.85"/>
<ellipse cx="61.3" cy="54.3" rx="1.5" ry="1.5" fill="#3a60ff" filter="url(#b1)"/>
<ellipse cx="40.2" cy="54.9" rx="1.2" ry="1.2" fill="#2a3ae0" filter="url(#b1)"/>
<ellipse cx="82.4" cy="49.4" rx="1.2" ry="1.2" fill="#2a3ae0" filter="url(#b1)"/>
</svg>
<svg x="752.80" y="1474.60" width="109.80" height="110.20" viewBox="0 0 110 110" preserveAspectRatio="none" overflow="hidden">
<rect width="110" height="110" fill="#04031e"/>
<ellipse cx="52.4" cy="55.3" rx="26" ry="24" fill="#1212a0" filter="url(#b7)" opacity="0.5"/>
<ellipse cx="37.5" cy="49.4" rx="9" ry="10" fill="#2a34f0" filter="url(#b2.5)"/>
<ellipse cx="51.4" cy="65.2" rx="7" ry="7" fill="#2a30e8" filter="url(#b2)" opacity="0.95"/>
<ellipse cx="59.3" cy="68.2" rx="5.5" ry="5.5" fill="#2a30e0" filter="url(#b2)" opacity="0.9"/>
<ellipse cx="69.8" cy="66.2" rx="5" ry="5" fill="#262cc8" filter="url(#b2)" opacity="0.85"/>
<ellipse cx="53.8" cy="31" rx="1.4" ry="1.4" fill="#2430c0" filter="url(#b1)"/>
</svg>
<svg x="866.00" y="1474.60" width="111.40" height="110.20" viewBox="0 0 110 110" preserveAspectRatio="none" overflow="hidden">
<rect width="110" height="110" fill="#05031a"/>
<g fill="#2430f4" filter="url(#b1.2)"><ellipse cx="37.9" cy="86.7" rx="3.7" ry="2.5" transform="rotate(157 37.9 86.7)"/><ellipse cx="49.2" cy="25.2" rx="2.8" ry="2.6" transform="rotate(82 49.2 25.2)"/><ellipse cx="76.3" cy="34.5" rx="3.5" ry="3.4" transform="rotate(49 76.3 34.5)"/><ellipse cx="53.7" cy="58.0" rx="3.6" ry="2.5" transform="rotate(88 53.7 58.0)"/><ellipse cx="88.2" cy="49.2" rx="3.4" ry="2.8" transform="rotate(174 88.2 49.2)"/><ellipse cx="59.8" cy="73.9" rx="3.3" ry="2.5" transform="rotate(137 59.8 73.9)"/><ellipse cx="49.9" cy="67.7" rx="2.9" ry="2.0" transform="rotate(175 49.9 67.7)"/><ellipse cx="47.0" cy="76.5" rx="2.9" ry="2.4" transform="rotate(146 47.0 76.5)"/><ellipse cx="94.3" cy="56.5" rx="3.0" ry="2.4" transform="rotate(110 94.3 56.5)"/><ellipse cx="74.8" cy="64.4" rx="3.5" ry="2.3" transform="rotate(174 74.8 64.4)"/><ellipse cx="66.8" cy="94.2" rx="2.9" ry="2.4" transform="rotate(110 66.8 94.2)"/><ellipse cx="9.6" cy="48.9" rx="3.5" ry="2.8" transform="rotate(174 9.6 48.9)"/><ellipse cx="52.2" cy="78.3" rx="3.6" ry="2.8" transform="rotate(123 52.2 78.3)"/><ellipse cx="44.6" cy="26.7" rx="3.0" ry="2.6" transform="rotate(165 44.6 26.7)"/><ellipse cx="78.9" cy="70.4" rx="3.5" ry="3.3" transform="rotate(32 78.9 70.4)"/><ellipse cx="88.8" cy="81.6" rx="4.0" ry="3.1" transform="rotate(28 88.8 81.6)"/><ellipse cx="63.3" cy="26.4" rx="3.9" ry="2.9" transform="rotate(41 63.3 26.4)"/><ellipse cx="75.6" cy="42.1" rx="3.3" ry="2.0" transform="rotate(144 75.6 42.1)"/><ellipse cx="80.6" cy="46.2" rx="3.3" ry="2.2" transform="rotate(172 80.6 46.2)"/><ellipse cx="24.0" cy="43.2" rx="4.1" ry="3.4" transform="rotate(10 24.0 43.2)"/><ellipse cx="44.3" cy="40.6" rx="3.6" ry="3.5" transform="rotate(117 44.3 40.6)"/><ellipse cx="93.8" cy="39.9" rx="3.3" ry="2.9" transform="rotate(40 93.8 39.9)"/><ellipse cx="38.4" cy="30.3" rx="2.8" ry="1.7" transform="rotate(26 38.4 30.3)"/><ellipse cx="43.5" cy="51.0" rx="2.8" ry="2.1" transform="rotate(44 43.5 51.0)"/><ellipse cx="82.2" cy="81.6" rx="3.8" ry="2.8" transform="rotate(142 82.2 81.6)"/><ellipse cx="49.9" cy="36.4" rx="2.5" ry="2.3" transform="rotate(63 49.9 36.4)"/><ellipse cx="101.0" cy="38.6" rx="3.0" ry="2.1" transform="rotate(168 101.0 38.6)"/><ellipse cx="70.5" cy="25.7" rx="3.3" ry="2.9" transform="rotate(45 70.5 25.7)"/><ellipse cx="15.6" cy="62.7" rx="2.4" ry="2.2" transform="rotate(37 15.6 62.7)"/><ellipse cx="34.9" cy="43.9" rx="3.2" ry="2.5" transform="rotate(26 34.9 43.9)"/><ellipse cx="66.8" cy="82.2" rx="3.6" ry="2.4" transform="rotate(68 66.8 82.2)"/><ellipse cx="12.0" cy="58.8" rx="3.6" ry="2.6" transform="rotate(46 12.0 58.8)"/><ellipse cx="51.3" cy="46.4" rx="3.0" ry="2.8" transform="rotate(5 51.3 46.4)"/><ellipse cx="11.9" cy="67.1" rx="2.3" ry="1.7" transform="rotate(143 11.9 67.1)"/><ellipse cx="83.8" cy="33.1" rx="2.5" ry="2.3" transform="rotate(35 83.8 33.1)"/><ellipse cx="61.0" cy="96.1" rx="3.6" ry="2.4" transform="rotate(32 61.0 96.1)"/><ellipse cx="89.5" cy="28.4" rx="2.8" ry="1.8" transform="rotate(154 89.5 28.4)"/><ellipse cx="62.9" cy="64.2" rx="2.7" ry="1.9" transform="rotate(66 62.9 64.2)"/><ellipse cx="62.1" cy="53.6" rx="3.2" ry="2.2" transform="rotate(66 62.1 53.6)"/><ellipse cx="57.4" cy="29.2" rx="2.6" ry="1.6" transform="rotate(168 57.4 29.2)"/><ellipse cx="80.4" cy="92.2" rx="2.9" ry="2.6" transform="rotate(18 80.4 92.2)"/><ellipse cx="28.5" cy="63.9" rx="2.4" ry="2.4" transform="rotate(148 28.5 63.9)"/><ellipse cx="31.5" cy="75.0" rx="2.5" ry="2.0" transform="rotate(128 31.5 75.0)"/><ellipse cx="86.3" cy="67.3" rx="2.3" ry="1.9" transform="rotate(135 86.3 67.3)"/><ellipse cx="57.4" cy="49.2" rx="2.1" ry="1.9" transform="rotate(155 57.4 49.2)"/><ellipse cx="19.1" cy="68.6" rx="2.2" ry="1.6" transform="rotate(145 19.1 68.6)"/><ellipse cx="37.5" cy="76.6" rx="3.4" ry="3.0" transform="rotate(110 37.5 76.6)"/><ellipse cx="91.4" cy="32.3" rx="2.5" ry="2.2" transform="rotate(87 91.4 32.3)"/><ellipse cx="15.5" cy="46.9" rx="2.8" ry="2.4" transform="rotate(167 15.5 46.9)"/><ellipse cx="51.2" cy="95.8" rx="2.8" ry="2.0" transform="rotate(178 51.2 95.8)"/><ellipse cx="102.4" cy="62.2" rx="2.4" ry="1.8" transform="rotate(170 102.4 62.2)"/><ellipse cx="30.6" cy="37.8" rx="2.3" ry="1.8" transform="rotate(63 30.6 37.8)"/><ellipse cx="10.8" cy="42.9" rx="3.4" ry="2.5" transform="rotate(174 10.8 42.9)"/><ellipse cx="59.6" cy="44.3" rx="2.6" ry="2.5" transform="rotate(130 59.6 44.3)"/><ellipse cx="74.5" cy="54.2" rx="2.9" ry="2.3" transform="rotate(120 74.5 54.2)"/><ellipse cx="79.3" cy="52.0" rx="2.6" ry="2.3" transform="rotate(118 79.3 52.0)"/><ellipse cx="28.8" cy="70.5" rx="3.1" ry="2.1" transform="rotate(49 28.8 70.5)"/><ellipse cx="63.4" cy="70.3" rx="3.0" ry="2.4" transform="rotate(50 63.4 70.3)"/><ellipse cx="43.2" cy="17.6" rx="3.3" ry="2.4" transform="rotate(61 43.2 17.6)"/><ellipse cx="99.7" cy="69.1" rx="4.0" ry="3.4" transform="rotate(151 99.7 69.1)"/><ellipse cx="102.5" cy="55.5" rx="3.7" ry="2.7" transform="rotate(10 102.5 55.5)"/><ellipse cx="31.5" cy="89.8" rx="3.3" ry="2.8" transform="rotate(5 31.5 89.8)"/><ellipse cx="42.1" cy="22.0" rx="2.2" ry="1.9" transform="rotate(145 42.1 22.0)"/><ellipse cx="68.2" cy="38.2" rx="3.7" ry="2.8" transform="rotate(22 68.2 38.2)"/><ellipse cx="44.9" cy="80.7" rx="2.2" ry="1.4" transform="rotate(47 44.9 80.7)"/><ellipse cx="40.9" cy="94.8" rx="3.5" ry="2.6" transform="rotate(140 40.9 94.8)"/><ellipse cx="34.5" cy="20.6" rx="2.4" ry="1.9" transform="rotate(5 34.5 20.6)"/><ellipse cx="75.9" cy="23.1" rx="3.8" ry="3.5" transform="rotate(41 75.9 23.1)"/><ellipse cx="68.4" cy="61.5" rx="3.6" ry="3.0" transform="rotate(21 68.4 61.5)"/><ellipse cx="93.8" cy="70.8" rx="3.4" ry="3.2" transform="rotate(70 93.8 70.8)"/><ellipse cx="24.1" cy="33.9" rx="3.4" ry="2.2" transform="rotate(5 24.1 33.9)"/><ellipse cx="53.6" cy="31.2" rx="2.3" ry="2.2" transform="rotate(97 53.6 31.2)"/><ellipse cx="97.6" cy="33.4" rx="3.1" ry="2.1" transform="rotate(81 97.6 33.4)"/><ellipse cx="52.2" cy="15.1" rx="3.0" ry="2.9" transform="rotate(78 52.2 15.1)"/><ellipse cx="47.7" cy="57.4" rx="3.4" ry="2.2" transform="rotate(176 47.7 57.4)"/><ellipse cx="23.8" cy="76.8" rx="2.2" ry="1.6" transform="rotate(79 23.8 76.8)"/><ellipse cx="60.6" cy="18.6" rx="3.3" ry="3.0" transform="rotate(56 60.6 18.6)"/><ellipse cx="18.3" cy="33.6" rx="3.4" ry="2.1" transform="rotate(23 18.3 33.6)"/><ellipse cx="61.4" cy="34.8" rx="2.3" ry="2.2" transform="rotate(87 61.4 34.8)"/><ellipse cx="54.6" cy="71.9" rx="2.7" ry="1.8" transform="rotate(134 54.6 71.9)"/><ellipse cx="26.6" cy="25.4" rx="2.5" ry="2.5" transform="rotate(37 26.6 25.4)"/><ellipse cx="50.1" cy="62.1" rx="2.6" ry="2.0" transform="rotate(27 50.1 62.1)"/><ellipse cx="39.1" cy="62.9" rx="4.0" ry="3.6" transform="rotate(58 39.1 62.9)"/><ellipse cx="65.8" cy="88.2" rx="3.1" ry="2.0" transform="rotate(63 65.8 88.2)"/><ellipse cx="20.6" cy="56.7" rx="3.6" ry="3.3" transform="rotate(167 20.6 56.7)"/></g>
</svg>
<svg x="980.40" y="1474.60" width="110.70" height="110.20" viewBox="0 0 110 110" preserveAspectRatio="none" overflow="hidden">
<rect width="110" height="110" fill="#06063a"/>
<g fill="#2430e0" filter="url(#b1)" opacity="0.95"><ellipse cx="89.6" cy="83.9" rx="1.4" ry="1.1" transform="rotate(48 89.6 83.9)"/><ellipse cx="48.4" cy="79.1" rx="2.5" ry="2.4" transform="rotate(162 48.4 79.1)"/><ellipse cx="40.8" cy="55.5" rx="2.2" ry="2.0" transform="rotate(171 40.8 55.5)"/><ellipse cx="66.5" cy="49.2" rx="2.2" ry="2.1" transform="rotate(23 66.5 49.2)"/><ellipse cx="40.5" cy="11.6" rx="2.6" ry="1.9" transform="rotate(54 40.5 11.6)"/><ellipse cx="62.0" cy="56.5" rx="1.5" ry="1.0" transform="rotate(64 62.0 56.5)"/><ellipse cx="32.4" cy="28.2" rx="2.3" ry="2.0" transform="rotate(95 32.4 28.2)"/><ellipse cx="81.8" cy="40.7" rx="2.4" ry="2.1" transform="rotate(27 81.8 40.7)"/><ellipse cx="71.3" cy="22.2" rx="1.8" ry="1.6" transform="rotate(81 71.3 22.2)"/><ellipse cx="73.2" cy="31.2" rx="2.5" ry="1.8" transform="rotate(72 73.2 31.2)"/><ellipse cx="47.4" cy="32.1" rx="2.1" ry="1.5" transform="rotate(55 47.4 32.1)"/><ellipse cx="99.9" cy="46.4" rx="2.2" ry="1.5" transform="rotate(130 99.9 46.4)"/><ellipse cx="44.6" cy="63.9" rx="1.7" ry="1.5" transform="rotate(108 44.6 63.9)"/><ellipse cx="43.2" cy="30.8" rx="2.5" ry="1.7" transform="rotate(51 43.2 30.8)"/><ellipse cx="36.3" cy="97.3" rx="2.3" ry="2.0" transform="rotate(24 36.3 97.3)"/><ellipse cx="97.7" cy="76.4" rx="1.7" ry="1.0" transform="rotate(114 97.7 76.4)"/><ellipse cx="55.1" cy="14.9" rx="1.8" ry="1.7" transform="rotate(101 55.1 14.9)"/><ellipse cx="60.5" cy="37.4" rx="1.9" ry="1.8" transform="rotate(176 60.5 37.4)"/><ellipse cx="17.6" cy="47.7" rx="2.1" ry="1.8" transform="rotate(98 17.6 47.7)"/><ellipse cx="38.4" cy="64.8" rx="2.3" ry="2.2" transform="rotate(97 38.4 64.8)"/><ellipse cx="37.3" cy="59.6" rx="2.3" ry="1.5" transform="rotate(7 37.3 59.6)"/><ellipse cx="63.6" cy="74.3" rx="2.3" ry="1.7" transform="rotate(74 63.6 74.3)"/><ellipse cx="53.6" cy="92.7" rx="1.7" ry="1.5" transform="rotate(155 53.6 92.7)"/><ellipse cx="72.4" cy="74.4" rx="1.5" ry="1.0" transform="rotate(98 72.4 74.4)"/><ellipse cx="45.7" cy="102.4" rx="1.4" ry="1.1" transform="rotate(147 45.7 102.4)"/><ellipse cx="13.1" cy="35.5" rx="2.6" ry="1.9" transform="rotate(66 13.1 35.5)"/><ellipse cx="12.8" cy="61.5" rx="1.4" ry="1.0" transform="rotate(109 12.8 61.5)"/><ellipse cx="36.6" cy="69.7" rx="1.5" ry="1.1" transform="rotate(170 36.6 69.7)"/><ellipse cx="61.8" cy="23.3" rx="2.1" ry="1.6" transform="rotate(128 61.8 23.3)"/><ellipse cx="83.9" cy="79.8" rx="2.1" ry="2.0" transform="rotate(129 83.9 79.8)"/><ellipse cx="66.1" cy="28.2" rx="2.3" ry="1.7" transform="rotate(82 66.1 28.2)"/><ellipse cx="41.2" cy="67.0" rx="1.7" ry="1.4" transform="rotate(138 41.2 67.0)"/><ellipse cx="62.7" cy="84.2" rx="1.7" ry="1.6" transform="rotate(85 62.7 84.2)"/><ellipse cx="29.2" cy="33.6" rx="2.0" ry="1.5" transform="rotate(134 29.2 33.6)"/><ellipse cx="67.8" cy="77.2" rx="2.1" ry="1.9" transform="rotate(75 67.8 77.2)"/><ellipse cx="60.3" cy="44.2" rx="2.6" ry="1.7" transform="rotate(154 60.3 44.2)"/><ellipse cx="10.3" cy="46.3" rx="2.4" ry="2.3" transform="rotate(20 10.3 46.3)"/><ellipse cx="68.6" cy="63.6" rx="2.3" ry="1.4" transform="rotate(86 68.6 63.6)"/><ellipse cx="39.9" cy="16.0" rx="2.4" ry="1.7" transform="rotate(25 39.9 16.0)"/><ellipse cx="71.0" cy="15.6" rx="2.1" ry="1.9" transform="rotate(63 71.0 15.6)"/><ellipse cx="69.8" cy="45.7" rx="2.4" ry="1.6" transform="rotate(165 69.8 45.7)"/><ellipse cx="71.0" cy="26.3" rx="2.3" ry="2.0" transform="rotate(155 71.0 26.3)"/><ellipse cx="82.8" cy="46.6" rx="2.3" ry="1.5" transform="rotate(119 82.8 46.6)"/><ellipse cx="82.0" cy="64.0" rx="1.5" ry="1.5" transform="rotate(119 82.0 64.0)"/><ellipse cx="76.2" cy="41.1" rx="2.1" ry="1.3" transform="rotate(151 76.2 41.1)"/><ellipse cx="12.4" cy="40.7" rx="1.6" ry="1.5" transform="rotate(38 12.4 40.7)"/><ellipse cx="23.6" cy="41.1" rx="1.7" ry="1.4" transform="rotate(84 23.6 41.1)"/><ellipse cx="64.3" cy="79.6" rx="2.0" ry="1.4" transform="rotate(53 64.3 79.6)"/><ellipse cx="31.9" cy="17.4" rx="2.4" ry="2.2" transform="rotate(135 31.9 17.4)"/><ellipse cx="21.1" cy="56.0" rx="1.5" ry="1.2" transform="rotate(156 21.1 56.0)"/><ellipse cx="76.0" cy="94.5" rx="1.8" ry="1.5" transform="rotate(37 76.0 94.5)"/><ellipse cx="70.5" cy="59.3" rx="1.4" ry="1.0" transform="rotate(46 70.5 59.3)"/><ellipse cx="71.1" cy="85.2" rx="1.8" ry="1.7" transform="rotate(101 71.1 85.2)"/><ellipse cx="28.6" cy="48.1" rx="2.3" ry="2.0" transform="rotate(106 28.6 48.1)"/><ellipse cx="40.8" cy="26.1" rx="1.6" ry="1.5" transform="rotate(121 40.8 26.1)"/><ellipse cx="32.5" cy="82.2" rx="1.9" ry="1.3" transform="rotate(114 32.5 82.2)"/><ellipse cx="16.8" cy="57.4" rx="1.9" ry="1.8" transform="rotate(175 16.8 57.4)"/><ellipse cx="66.3" cy="100.6" rx="2.7" ry="1.9" transform="rotate(3 66.3 100.6)"/><ellipse cx="80.4" cy="32.7" rx="2.3" ry="1.8" transform="rotate(101 80.4 32.7)"/><ellipse cx="28.5" cy="94.5" rx="2.1" ry="1.5" transform="rotate(4 28.5 94.5)"/><ellipse cx="62.5" cy="49.1" rx="1.6" ry="1.4" transform="rotate(128 62.5 49.1)"/><ellipse cx="48.8" cy="27.0" rx="2.3" ry="1.7" transform="rotate(97 48.8 27.0)"/><ellipse cx="12.2" cy="71.0" rx="2.7" ry="2.4" transform="rotate(119 12.2 71.0)"/><ellipse cx="79.1" cy="97.2" rx="1.8" ry="1.6" transform="rotate(36 79.1 97.2)"/><ellipse cx="58.7" cy="52.7" rx="1.8" ry="1.4" transform="rotate(163 58.7 52.7)"/><ellipse cx="94.6" cy="50.0" rx="2.0" ry="1.6" transform="rotate(26 94.6 50.0)"/><ellipse cx="41.1" cy="62.0" rx="2.3" ry="2.3" transform="rotate(13 41.1 62.0)"/><ellipse cx="27.8" cy="27.7" rx="1.5" ry="1.0" transform="rotate(1 27.8 27.7)"/><ellipse cx="39.5" cy="81.6" rx="2.2" ry="1.4" transform="rotate(137 39.5 81.6)"/><ellipse cx="86.5" cy="67.8" rx="2.0" ry="1.8" transform="rotate(128 86.5 67.8)"/><ellipse cx="81.4" cy="69.7" rx="1.7" ry="1.6" transform="rotate(57 81.4 69.7)"/><ellipse cx="15.4" cy="52.2" rx="1.7" ry="1.1" transform="rotate(91 15.4 52.2)"/><ellipse cx="63.8" cy="12.3" rx="2.6" ry="2.2" transform="rotate(22 63.8 12.3)"/><ellipse cx="57.8" cy="71.1" rx="2.0" ry="1.3" transform="rotate(71 57.8 71.1)"/><ellipse cx="67.2" cy="21.7" rx="2.7" ry="2.3" transform="rotate(65 67.2 21.7)"/><ellipse cx="23.9" cy="32.8" rx="1.4" ry="1.3" transform="rotate(126 23.9 32.8)"/><ellipse cx="47.6" cy="15.4" rx="2.3" ry="1.8" transform="rotate(73 47.6 15.4)"/><ellipse cx="58.3" cy="60.7" rx="2.4" ry="2.0" transform="rotate(77 58.3 60.7)"/><ellipse cx="82.3" cy="17.7" rx="2.5" ry="1.9" transform="rotate(149 82.3 17.7)"/><ellipse cx="89.4" cy="88.1" rx="2.0" ry="1.5" transform="rotate(54 89.4 88.1)"/><ellipse cx="83.5" cy="96.3" rx="1.8" ry="1.2" transform="rotate(84 83.5 96.3)"/><ellipse cx="94.8" cy="81.8" rx="2.1" ry="1.7" transform="rotate(165 94.8 81.8)"/><ellipse cx="8.0" cy="63.3" rx="1.5" ry="1.4" transform="rotate(44 8.0 63.3)"/><ellipse cx="97.8" cy="43.4" rx="1.6" ry="1.3" transform="rotate(167 97.8 43.4)"/><ellipse cx="92.1" cy="25.1" rx="2.1" ry="1.5" transform="rotate(79 92.1 25.1)"/><ellipse cx="94.7" cy="61.2" rx="1.9" ry="1.2" transform="rotate(34 94.7 61.2)"/><ellipse cx="34.9" cy="42.5" rx="2.6" ry="2.4" transform="rotate(143 34.9 42.5)"/><ellipse cx="51.4" cy="32.0" rx="2.2" ry="2.1" transform="rotate(134 51.4 32.0)"/><ellipse cx="88.1" cy="57.7" rx="1.5" ry="1.2" transform="rotate(139 88.1 57.7)"/><ellipse cx="36.4" cy="45.9" rx="1.5" ry="1.4" transform="rotate(48 36.4 45.9)"/><ellipse cx="103.4" cy="48.4" rx="2.4" ry="1.9" transform="rotate(2 103.4 48.4)"/><ellipse cx="31.3" cy="59.3" rx="1.6" ry="1.5" transform="rotate(35 31.3 59.3)"/><ellipse cx="65.6" cy="92.3" rx="1.6" ry="1.1" transform="rotate(9 65.6 92.3)"/><ellipse cx="89.6" cy="38.3" rx="2.3" ry="1.6" transform="rotate(175 89.6 38.3)"/><ellipse cx="98.5" cy="39.9" rx="1.6" ry="1.2" transform="rotate(62 98.5 39.9)"/><ellipse cx="98.9" cy="32.9" rx="2.0" ry="1.8" transform="rotate(109 98.9 32.9)"/><ellipse cx="69.1" cy="42.2" rx="1.7" ry="1.3" transform="rotate(66 69.1 42.2)"/><ellipse cx="51.3" cy="96.9" rx="1.4" ry="1.1" transform="rotate(170 51.3 96.9)"/><ellipse cx="36.0" cy="51.6" rx="2.6" ry="2.5" transform="rotate(22 36.0 51.6)"/><ellipse cx="39.7" cy="37.3" rx="1.7" ry="1.3" transform="rotate(5 39.7 37.3)"/><ellipse cx="35.0" cy="93.2" rx="1.6" ry="1.0" transform="rotate(18 35.0 93.2)"/><ellipse cx="22.7" cy="36.8" rx="2.3" ry="1.9" transform="rotate(14 22.7 36.8)"/><ellipse cx="23.8" cy="53.1" rx="2.7" ry="1.8" transform="rotate(165 23.8 53.1)"/><ellipse cx="88.9" cy="31.7" rx="1.9" ry="1.7" transform="rotate(9 88.9 31.7)"/><ellipse cx="88.6" cy="52.3" rx="1.8" ry="1.2" transform="rotate(177 88.6 52.3)"/><ellipse cx="54.2" cy="21.3" rx="2.0" ry="1.7" transform="rotate(55 54.2 21.3)"/><ellipse cx="98.1" cy="65.0" rx="1.4" ry="1.1" transform="rotate(143 98.1 65.0)"/><ellipse cx="88.2" cy="92.2" rx="1.7" ry="1.0" transform="rotate(32 88.2 92.2)"/><ellipse cx="94.9" cy="39.7" rx="2.6" ry="2.2" transform="rotate(73 94.9 39.7)"/><ellipse cx="16.2" cy="41.5" rx="2.3" ry="1.8" transform="rotate(101 16.2 41.5)"/><ellipse cx="65.0" cy="42.6" rx="1.5" ry="1.4" transform="rotate(25 65.0 42.6)"/><ellipse cx="16.3" cy="29.8" rx="1.5" ry="1.3" transform="rotate(32 16.3 29.8)"/><ellipse cx="92.9" cy="89.7" rx="1.6" ry="1.0" transform="rotate(123 92.9 89.7)"/><ellipse cx="53.7" cy="70.8" rx="1.7" ry="1.1" transform="rotate(136 53.7 70.8)"/><ellipse cx="12.4" cy="56.5" rx="2.0" ry="1.9" transform="rotate(53 12.4 56.5)"/><ellipse cx="48.9" cy="40.1" rx="1.5" ry="1.4" transform="rotate(42 48.9 40.1)"/><ellipse cx="66.9" cy="14.9" rx="1.8" ry="1.8" transform="rotate(93 66.9 14.9)"/><ellipse cx="76.3" cy="34.8" rx="1.5" ry="0.9" transform="rotate(12 76.3 34.8)"/><ellipse cx="73.3" cy="78.9" rx="1.9" ry="1.9" transform="rotate(163 73.3 78.9)"/><ellipse cx="50.6" cy="19.1" rx="2.4" ry="1.6" transform="rotate(80 50.6 19.1)"/></g>
</svg>
<svg x="70.10" y="1589.60" width="110.40" height="110.10" viewBox="0 0 110 110" preserveAspectRatio="none" overflow="hidden">
<rect width="110" height="110" fill="#040603"/>
</svg>
<svg x="183.20" y="1589.60" width="110.70" height="110.10" viewBox="0 0 110 110" preserveAspectRatio="none" overflow="hidden">
<rect width="110" height="110" fill="#020202"/>
<ellipse cx="42.5" cy="41.5" rx="27" ry="27" fill="#1c3e0f" filter="url(#b2)" opacity="0.9"/>
<ellipse cx="62.3" cy="69.2" rx="32" ry="30" fill="#1c3e0f" filter="url(#b2)" opacity="0.9"/>
<ellipse cx="35.6" cy="36.6" rx="10" ry="11" fill="#2d5a1a" filter="url(#b1.5)" opacity="0.8"/>
<ellipse cx="70.2" cy="68.2" rx="13.5" ry="13" fill="#30601c" filter="url(#b1.5)" opacity="0.85"/>
<g fill="none" stroke="#5aa830" stroke-width="2" opacity="0.4" filter="url(#b1)"><ellipse cx="35.6" cy="36.6" rx="8.6" ry="9.6"/><ellipse cx="70.2" cy="68.2" rx="12" ry="11.6"/></g>
<ellipse cx="72.5" cy="41.9" rx="2.8" ry="2.8" fill="#b0ff50" filter="url(#b1)"/>
</svg>
<svg x="297.30" y="1589.60" width="110.70" height="110.10" viewBox="0 0 110 110" preserveAspectRatio="none" overflow="hidden">
<rect width="110" height="110" fill="#020202"/>
<ellipse cx="41.5" cy="41.5" rx="26.7" ry="26.7" fill="#112a0a" filter="url(#b2)" opacity="0.8"/>
<ellipse cx="65.2" cy="63.2" rx="29.6" ry="29" fill="#112a0a" filter="url(#b2)" opacity="0.8"/>
<ellipse cx="36.5" cy="41.5" rx="7" ry="7" fill="#2c5a1a" filter="url(#b2)" opacity="0.6"/>
<ellipse cx="66.2" cy="65.2" rx="7" ry="7" fill="#2c5a1a" filter="url(#b2)" opacity="0.6"/>
<ellipse cx="55.7" cy="38" rx="1.6" ry="1.6" fill="#60c030" filter="url(#b1)"/>
</svg>
<svg x="411.40" y="1589.60" width="110.40" height="110.10" viewBox="0 0 110 110" preserveAspectRatio="none" overflow="hidden">
<rect width="110" height="110" fill="#020202"/>
<ellipse cx="54" cy="55.3" rx="41" ry="39" fill="#14300c" filter="url(#b2)" opacity="0.85"/>
<ellipse cx="29.8" cy="41.9" rx="8.3" ry="8.3" fill="#356a20" filter="url(#b1.5)" opacity="0.85"/>
<ellipse cx="75.3" cy="35.6" rx="9.5" ry="10" fill="#4a8c2a" filter="url(#b1.5)" opacity="0.9"/>
<ellipse cx="46.4" cy="68.8" rx="7.9" ry="7.9" fill="#356a20" filter="url(#b1.5)" opacity="0.85"/>
<ellipse cx="68.8" cy="77.5" rx="6.3" ry="6.3" fill="#356a20" filter="url(#b1.5)" opacity="0.85"/>
</svg>
<svg x="525.20" y="1589.60" width="110.50" height="110.10" viewBox="0 0 110 110" preserveAspectRatio="none" overflow="hidden">
<rect width="110" height="110" fill="#020202"/>
<ellipse cx="58.9" cy="55.3" rx="43" ry="41" fill="#11280c" filter="url(#b2)" opacity="0.9"/>
<ellipse cx="61.9" cy="36.6" rx="6.3" ry="6.3" fill="#2a5a20" filter="url(#b1.5)" opacity="0.85"/>
<ellipse cx="33.2" cy="53" rx="6.9" ry="6.9" fill="#2a5a20" filter="url(#b1.5)" opacity="0.85"/>
<ellipse cx="83" cy="56.3" rx="6.5" ry="6.5" fill="#2a5a20" filter="url(#b1.5)" opacity="0.85"/>
<ellipse cx="49" cy="76.7" rx="7.5" ry="7.5" fill="#2a5a20" filter="url(#b1.5)" opacity="0.85"/>
<ellipse cx="62.3" cy="60.9" rx="2.4" ry="2.4" fill="#48903a" filter="url(#b1)"/>
</svg>
<svg x="639.00" y="1589.60" width="109.80" height="110.10" viewBox="0 0 110 110" preserveAspectRatio="none" overflow="hidden">
<rect width="110" height="110" fill="#030503"/>
<ellipse cx="57.3" cy="56.3" rx="37.5" ry="37" fill="#213f14" filter="url(#b2)" opacity="0.9"/>
<ellipse cx="52" cy="31" rx="9" ry="7" fill="#3e7a24" filter="url(#b3)" opacity="0.6"/>
<ellipse cx="42" cy="74" rx="8" ry="7" fill="#2f5e1c" filter="url(#b3)" opacity="0.45"/>
<ellipse cx="42.5" cy="53.5" rx="1.3" ry="1.3" fill="#70c040" filter="url(#b1)"/>
<ellipse cx="64.5" cy="53.5" rx="1.5" ry="1.5" fill="#70c040" filter="url(#b1)"/>
<ellipse cx="86" cy="48.5" rx="1.2" ry="1.2" fill="#90e060" filter="url(#b1)"/>
</svg>
<svg x="752.80" y="1589.60" width="109.80" height="110.10" viewBox="0 0 110 110" preserveAspectRatio="none" overflow="hidden">
<rect width="110" height="110" fill="#020202"/>
<ellipse cx="52.4" cy="52.4" rx="34" ry="34" fill="#1c3a12" filter="url(#b2)" opacity="0.9"/>
<ellipse cx="42.5" cy="85" rx="8" ry="8" fill="#193410" filter="url(#b2)" opacity="0.8"/>
<circle cx="43" cy="44" r="12" fill="none" stroke="#3a7a26" stroke-width="0.8" opacity="0.5"/>
<circle cx="59" cy="62" r="11" fill="none" stroke="#3a7a26" stroke-width="0.8" opacity="0.5"/>
<circle cx="70" cy="42" r="12" fill="none" stroke="#30682a" stroke-width="0.7" opacity="0.35"/>
<circle cx="52.4" cy="52.4" r="33" fill="none" stroke="#2a5c1e" stroke-width="1.6" opacity="0.35"/>
<ellipse cx="54.3" cy="26" rx="2.5" ry="2.5" fill="#a0ff60" filter="url(#b1)"/>
</svg>
<svg x="866.00" y="1589.60" width="111.40" height="110.10" viewBox="0 0 110 110" preserveAspectRatio="none" overflow="hidden">
<rect width="110" height="110" fill="#060d06"/>
<ellipse cx="55.9" cy="55.3" rx="51" ry="44.5" fill="#214818" filter="url(#b2)" opacity="0.9"/>
<ellipse cx="52" cy="28" rx="22" ry="12" fill="#3a7a24" filter="url(#b5)" opacity="0.45"/>
<ellipse cx="78" cy="42" rx="10" ry="8" fill="#44882a" filter="url(#b4)" opacity="0.45"/>
<g fill="#3f8424" filter="url(#b2)" opacity="0.6"><circle cx="66.1" cy="30.2" r="1.5"/><circle cx="42.0" cy="70.0" r="1.9"/><circle cx="77.3" cy="41.1" r="2.5"/><circle cx="31.5" cy="76.7" r="2.5"/><circle cx="44.7" cy="25.9" r="2.5"/><circle cx="52.9" cy="50.9" r="2.7"/><circle cx="81.3" cy="75.1" r="1.6"/><circle cx="33.6" cy="62.4" r="1.9"/><circle cx="50.8" cy="46.4" r="2.4"/><circle cx="59.5" cy="48.3" r="1.9"/><circle cx="69.8" cy="79.1" r="1.8"/><circle cx="47.0" cy="55.4" r="2.9"/><circle cx="27.2" cy="60.9" r="2.9"/><circle cx="58.9" cy="86.0" r="2.7"/><circle cx="49.8" cy="87.7" r="3.0"/><circle cx="26.2" cy="83.3" r="2.4"/><circle cx="98.0" cy="54.0" r="2.8"/><circle cx="88.3" cy="27.5" r="2.9"/><circle cx="93.2" cy="78.3" r="2.5"/><circle cx="47.2" cy="17.1" r="2.6"/><circle cx="54.9" cy="28.9" r="2.8"/><circle cx="33.8" cy="73.2" r="2.2"/><circle cx="62.9" cy="81.7" r="2.0"/><circle cx="93.5" cy="55.0" r="2.5"/><circle cx="84.7" cy="77.9" r="2.5"/><circle cx="79.8" cy="60.1" r="1.8"/><circle cx="60.2" cy="17.7" r="2.4"/><circle cx="72.5" cy="87.0" r="2.8"/><circle cx="53.0" cy="56.6" r="2.3"/><circle cx="78.2" cy="75.7" r="1.6"/><circle cx="19.1" cy="78.2" r="2.0"/><circle cx="69.0" cy="31.6" r="1.7"/><circle cx="77.3" cy="87.6" r="1.6"/><circle cx="98.9" cy="62.6" r="1.7"/><circle cx="19.5" cy="32.3" r="2.5"/><circle cx="68.6" cy="70.2" r="1.8"/><circle cx="36.6" cy="90.3" r="2.4"/><circle cx="67.3" cy="47.2" r="2.4"/><circle cx="35.4" cy="34.6" r="2.0"/><circle cx="41.8" cy="76.8" r="1.6"/><circle cx="51.2" cy="60.4" r="2.9"/><circle cx="60.1" cy="77.7" r="1.6"/><circle cx="40.7" cy="87.2" r="2.8"/><circle cx="75.0" cy="54.8" r="2.5"/><circle cx="17.9" cy="57.5" r="2.1"/></g>
</svg>
<svg x="980.40" y="1589.60" width="110.70" height="110.10" viewBox="0 0 110 110" preserveAspectRatio="none" overflow="hidden">
<rect width="110" height="110" fill="#020402"/>
<ellipse cx="55.9" cy="55.3" rx="51" ry="50" fill="#173a10" filter="url(#b2)" opacity="0.9"/>
<g fill="#3f9030" filter="url(#b1)" opacity="0.8"><circle cx="89.6" cy="83.9" r="1.4"/><circle cx="48.4" cy="79.1" r="2.5"/><circle cx="40.8" cy="55.5" r="2.2"/><circle cx="66.5" cy="49.2" r="2.2"/><circle cx="40.5" cy="11.6" r="2.6"/><circle cx="62.0" cy="56.5" r="1.5"/><circle cx="32.4" cy="28.2" r="2.3"/><circle cx="81.8" cy="40.7" r="2.4"/><circle cx="71.3" cy="22.2" r="1.8"/><circle cx="73.2" cy="31.2" r="2.5"/><circle cx="47.4" cy="32.1" r="2.1"/><circle cx="99.9" cy="46.4" r="2.2"/><circle cx="44.6" cy="63.9" r="1.7"/><circle cx="43.2" cy="30.8" r="2.5"/><circle cx="36.3" cy="97.3" r="2.3"/><circle cx="97.7" cy="76.4" r="1.7"/><circle cx="55.1" cy="14.9" r="1.8"/><circle cx="60.5" cy="37.4" r="1.9"/><circle cx="17.6" cy="47.7" r="2.1"/><circle cx="38.4" cy="64.8" r="2.3"/><circle cx="37.3" cy="59.6" r="2.3"/><circle cx="63.6" cy="74.3" r="2.3"/><circle cx="53.6" cy="92.7" r="1.7"/><circle cx="72.4" cy="74.4" r="1.5"/><circle cx="45.7" cy="102.4" r="1.4"/><circle cx="13.1" cy="35.5" r="2.6"/><circle cx="12.8" cy="61.5" r="1.4"/><circle cx="36.6" cy="69.7" r="1.5"/><circle cx="61.8" cy="23.3" r="2.1"/><circle cx="83.9" cy="79.8" r="2.1"/><circle cx="66.1" cy="28.2" r="2.3"/><circle cx="41.2" cy="67.0" r="1.7"/><circle cx="62.7" cy="84.2" r="1.7"/><circle cx="29.2" cy="33.6" r="2.0"/><circle cx="67.8" cy="77.2" r="2.1"/><circle cx="60.3" cy="44.2" r="2.6"/><circle cx="10.3" cy="46.3" r="2.4"/><circle cx="68.6" cy="63.6" r="2.3"/><circle cx="39.9" cy="16.0" r="2.4"/><circle cx="71.0" cy="15.6" r="2.1"/><circle cx="69.8" cy="45.7" r="2.4"/><circle cx="71.0" cy="26.3" r="2.3"/><circle cx="82.8" cy="46.6" r="2.3"/><circle cx="82.0" cy="64.0" r="1.5"/><circle cx="76.2" cy="41.1" r="2.1"/><circle cx="12.4" cy="40.7" r="1.6"/><circle cx="23.6" cy="41.1" r="1.7"/><circle cx="64.3" cy="79.6" r="2.0"/><circle cx="31.9" cy="17.4" r="2.4"/><circle cx="21.1" cy="56.0" r="1.5"/><circle cx="76.0" cy="94.5" r="1.8"/><circle cx="70.5" cy="59.3" r="1.4"/><circle cx="71.1" cy="85.2" r="1.8"/><circle cx="28.6" cy="48.1" r="2.3"/><circle cx="40.8" cy="26.1" r="1.6"/><circle cx="32.5" cy="82.2" r="1.9"/><circle cx="16.8" cy="57.4" r="1.9"/><circle cx="66.3" cy="100.6" r="2.7"/><circle cx="80.4" cy="32.7" r="2.3"/><circle cx="28.5" cy="94.5" r="2.1"/><circle cx="62.5" cy="49.1" r="1.6"/><circle cx="48.8" cy="27.0" r="2.3"/><circle cx="12.2" cy="71.0" r="2.7"/><circle cx="79.1" cy="97.2" r="1.8"/><circle cx="58.7" cy="52.7" r="1.8"/><circle cx="94.6" cy="50.0" r="2.0"/><circle cx="41.1" cy="62.0" r="2.3"/><circle cx="27.8" cy="27.7" r="1.5"/><circle cx="39.5" cy="81.6" r="2.2"/><circle cx="86.5" cy="67.8" r="2.0"/><circle cx="81.4" cy="69.7" r="1.7"/><circle cx="15.4" cy="52.2" r="1.7"/><circle cx="63.8" cy="12.3" r="2.6"/><circle cx="57.8" cy="71.1" r="2.0"/><circle cx="67.2" cy="21.7" r="2.7"/><circle cx="23.9" cy="32.8" r="1.4"/><circle cx="47.6" cy="15.4" r="2.3"/><circle cx="58.3" cy="60.7" r="2.4"/><circle cx="82.3" cy="17.7" r="2.5"/><circle cx="89.4" cy="88.1" r="2.0"/><circle cx="83.5" cy="96.3" r="1.8"/><circle cx="94.8" cy="81.8" r="2.1"/><circle cx="8.0" cy="63.3" r="1.5"/><circle cx="97.8" cy="43.4" r="1.6"/><circle cx="92.1" cy="25.1" r="2.1"/><circle cx="94.7" cy="61.2" r="1.9"/><circle cx="34.9" cy="42.5" r="2.6"/><circle cx="51.4" cy="32.0" r="2.2"/><circle cx="88.1" cy="57.7" r="1.5"/><circle cx="36.4" cy="45.9" r="1.5"/><circle cx="103.4" cy="48.4" r="2.4"/><circle cx="31.3" cy="59.3" r="1.6"/><circle cx="65.6" cy="92.3" r="1.6"/><circle cx="89.6" cy="38.3" r="2.3"/><circle cx="98.5" cy="39.9" r="1.6"/><circle cx="98.9" cy="32.9" r="2.0"/><circle cx="69.1" cy="42.2" r="1.7"/><circle cx="51.3" cy="96.9" r="1.4"/><circle cx="36.0" cy="51.6" r="2.6"/><circle cx="39.7" cy="37.3" r="1.7"/><circle cx="35.0" cy="93.2" r="1.6"/><circle cx="22.7" cy="36.8" r="2.3"/><circle cx="23.8" cy="53.1" r="2.7"/><circle cx="88.9" cy="31.7" r="1.9"/><circle cx="88.6" cy="52.3" r="1.8"/><circle cx="54.2" cy="21.3" r="2.0"/><circle cx="98.1" cy="65.0" r="1.4"/><circle cx="88.2" cy="92.2" r="1.7"/><circle cx="94.9" cy="39.7" r="2.6"/><circle cx="16.2" cy="41.5" r="2.3"/><circle cx="65.0" cy="42.6" r="1.5"/><circle cx="16.3" cy="29.8" r="1.5"/><circle cx="92.9" cy="89.7" r="1.6"/><circle cx="53.7" cy="70.8" r="1.7"/><circle cx="12.4" cy="56.5" r="2.0"/><circle cx="48.9" cy="40.1" r="1.5"/><circle cx="66.9" cy="14.9" r="1.8"/><circle cx="76.3" cy="34.8" r="1.5"/><circle cx="73.3" cy="78.9" r="1.9"/><circle cx="50.6" cy="19.1" r="2.4"/></g>
<g fill="#80ff50" filter="url(#b1)"><ellipse cx="98" cy="55.7" rx="3.2" ry="1.2" transform="rotate(-60 98 55.7)"/><ellipse cx="55" cy="60.3" rx="3" ry="2.2" transform="rotate(0 55 60.3)"/><ellipse cx="49" cy="77" rx="2.2" ry="1.6" transform="rotate(30 49 77)"/><ellipse cx="81.6" cy="82" rx="2.6" ry="2" transform="rotate(0 81.6 82)"/><ellipse cx="83.6" cy="10.3" rx="2.4" ry="1.3" transform="rotate(-20 83.6 10.3)"/></g>
</svg>
<svg x="70.10" y="1704.80" width="110.40" height="110.70" viewBox="0 0 110 110" preserveAspectRatio="none" overflow="hidden">
<rect width="110" height="110" fill="#030418"/>
<g fill="#2228f0" filter="url(#b1.2)"><circle cx="34.9" cy="46.9" r="2.8"/><circle cx="87.5" cy="43.0" r="2.4"/><circle cx="60.8" cy="73.2" r="1.8"/><circle cx="46.7" cy="38.5" r="2.9"/><circle cx="76.4" cy="62.6" r="1.5"/><circle cx="59.3" cy="31.9" r="2.1"/><circle cx="35.8" cy="83.0" r="2.0"/><circle cx="64.3" cy="80.0" r="1.9"/><circle cx="92.2" cy="78.0" r="2.4"/><circle cx="29.9" cy="23.8" r="2.0"/><circle cx="30.3" cy="72.7" r="2.0"/><circle cx="53.2" cy="52.6" r="2.1"/><circle cx="24.9" cy="50.3" r="1.4"/><circle cx="60.9" cy="61.3" r="1.7"/><circle cx="51.0" cy="32.0" r="2.4"/><circle cx="18.3" cy="59.6" r="2.7"/><circle cx="36.7" cy="89.0" r="2.4"/><circle cx="85.8" cy="59.9" r="2.8"/><circle cx="89.8" cy="30.2" r="1.6"/><circle cx="42.5" cy="22.3" r="2.6"/><circle cx="60.5" cy="41.2" r="1.7"/><circle cx="67.3" cy="23.0" r="2.7"/><circle cx="8.1" cy="67.4" r="1.6"/><circle cx="103.3" cy="45.5" r="1.9"/><circle cx="91.1" cy="67.2" r="2.4"/><circle cx="47.8" cy="62.9" r="1.8"/><circle cx="62.5" cy="44.8" r="2.8"/><circle cx="55.3" cy="72.9" r="1.6"/><circle cx="105.3" cy="50.9" r="1.9"/><circle cx="90.6" cy="73.1" r="2.7"/><circle cx="97.3" cy="57.7" r="2.7"/><circle cx="57.3" cy="75.6" r="2.4"/><circle cx="18.6" cy="46.1" r="1.9"/><circle cx="81.5" cy="47.2" r="2.4"/><circle cx="81.7" cy="40.1" r="1.5"/><circle cx="57.8" cy="65.2" r="1.6"/><circle cx="77.9" cy="71.0" r="2.0"/><circle cx="14.4" cy="65.6" r="2.4"/><circle cx="43.0" cy="33.6" r="2.4"/><circle cx="37.3" cy="51.0" r="2.2"/><circle cx="57.3" cy="81.0" r="2.1"/><circle cx="52.2" cy="62.8" r="1.5"/><circle cx="100.8" cy="53.8" r="2.1"/><circle cx="41.6" cy="37.8" r="2.5"/><circle cx="99.7" cy="44.9" r="2.1"/><circle cx="25.0" cy="69.1" r="1.8"/><circle cx="40.4" cy="45.4" r="2.5"/><circle cx="51.1" cy="86.3" r="2.4"/><circle cx="102.1" cy="50.2" r="1.9"/><circle cx="52.8" cy="40.5" r="2.5"/><circle cx="31.6" cy="65.3" r="1.8"/><circle cx="65.1" cy="89.3" r="1.5"/><circle cx="57.9" cy="72.3" r="1.6"/><circle cx="50.2" cy="25.6" r="2.4"/><circle cx="69.5" cy="81.3" r="2.5"/><circle cx="12.5" cy="34.6" r="1.9"/><circle cx="101.0" cy="39.7" r="2.3"/><circle cx="36.4" cy="57.0" r="1.6"/><circle cx="95.4" cy="63.1" r="2.5"/><circle cx="39.4" cy="63.5" r="1.5"/><circle cx="46.1" cy="82.9" r="2.9"/><circle cx="47.8" cy="73.4" r="2.5"/><circle cx="25.0" cy="74.1" r="1.6"/><circle cx="86.0" cy="25.5" r="2.5"/><circle cx="61.6" cy="69.7" r="1.6"/><circle cx="57.5" cy="21.4" r="1.7"/><circle cx="59.6" cy="37.1" r="2.2"/><circle cx="104.3" cy="63.0" r="1.6"/><circle cx="19.3" cy="37.8" r="2.4"/><circle cx="93.9" cy="43.7" r="2.9"/><circle cx="67.5" cy="57.8" r="1.4"/><circle cx="92.4" cy="82.8" r="2.7"/><circle cx="75.1" cy="46.9" r="2.4"/><circle cx="18.5" cy="52.5" r="2.8"/><circle cx="12.2" cy="72.6" r="1.5"/><circle cx="11.4" cy="49.0" r="1.4"/><circle cx="56.2" cy="69.7" r="2.1"/><circle cx="70.8" cy="60.2" r="2.5"/><circle cx="62.8" cy="64.6" r="2.6"/><circle cx="3.5" cy="52.9" r="2.5"/><circle cx="59.4" cy="18.2" r="1.5"/><circle cx="29.0" cy="47.3" r="2.3"/><circle cx="93.3" cy="28.7" r="2.2"/><circle cx="53.5" cy="43.9" r="1.6"/><circle cx="10.4" cy="42.4" r="1.6"/><circle cx="77.8" cy="77.3" r="1.9"/><circle cx="68.7" cy="67.3" r="2.0"/><circle cx="85.3" cy="56.3" r="1.6"/><circle cx="61.4" cy="91.7" r="1.6"/><circle cx="45.8" cy="18.8" r="1.8"/><circle cx="74.8" cy="38.5" r="2.6"/><circle cx="76.1" cy="52.9" r="2.8"/><circle cx="59.6" cy="67.5" r="2.0"/><circle cx="34.4" cy="22.3" r="2.7"/><circle cx="77.4" cy="56.5" r="1.6"/></g>
</svg>
<svg x="183.20" y="1704.80" width="110.70" height="110.70" viewBox="0 0 110 110" preserveAspectRatio="none" overflow="hidden">
<rect width="110" height="110" fill="#04042e"/>
<ellipse cx="42.5" cy="41.5" rx="27" ry="27" fill="#1a3040" filter="url(#b2)" opacity="0.85"/>
<ellipse cx="62.3" cy="69.2" rx="32" ry="30" fill="#1a3040" filter="url(#b2)" opacity="0.85"/>
<ellipse cx="35.6" cy="36.6" rx="10" ry="11" fill="#4a8868" filter="url(#b1.5)" opacity="0.8"/>
<ellipse cx="70.2" cy="68.2" rx="13.5" ry="13" fill="#4a885a" filter="url(#b1.5)" opacity="0.8"/>
<ellipse cx="71.8" cy="41.7" rx="3" ry="3" fill="#a0ffc0" filter="url(#b1)"/>
<ellipse cx="76.5" cy="41" rx="4" ry="4" fill="#2a50d8" filter="url(#b1)"/>
</svg>
<svg x="297.30" y="1704.80" width="110.70" height="110.70" viewBox="0 0 110 110" preserveAspectRatio="none" overflow="hidden">
<rect width="110" height="110" fill="#04042e"/>
<ellipse cx="41.5" cy="43" rx="26.7" ry="26.7" fill="#121e5c" filter="url(#b2)" opacity="0.85"/>
<ellipse cx="65.2" cy="65" rx="29.6" ry="29" fill="#121e5c" filter="url(#b2)" opacity="0.85"/>
<ellipse cx="35.5" cy="45" rx="7.5" ry="7.5" fill="#2434e8" filter="url(#b2)" opacity="0.95"/>
<ellipse cx="65" cy="70" rx="7.8" ry="7.8" fill="#2434e8" filter="url(#b2)" opacity="0.95"/>
<ellipse cx="54.5" cy="42.5" rx="2" ry="2" fill="#60a0ff" filter="url(#b1)"/>
</svg>
<svg x="411.40" y="1704.80" width="110.40" height="110.70" viewBox="0 0 110 110" preserveAspectRatio="none" overflow="hidden">
<rect width="110" height="110" fill="#04043a"/>
<ellipse cx="56" cy="56.7" rx="42" ry="40" fill="#14245a" filter="url(#b2)" opacity="0.85"/>
<ellipse cx="33.8" cy="40.5" rx="8.3" ry="8.3" fill="#3468c8" filter="url(#b1.5)" opacity="0.85"/>
<ellipse cx="79" cy="34.6" rx="9.5" ry="10" fill="#4a98a8" filter="url(#b1.5)" opacity="0.85"/>
<ellipse cx="51" cy="67.2" rx="7.9" ry="7.9" fill="#346ac0" filter="url(#b1.5)" opacity="0.85"/>
<ellipse cx="72.3" cy="77" rx="6.3" ry="6.3" fill="#3e80b8" filter="url(#b1.5)" opacity="0.85"/>
<ellipse cx="31" cy="59" rx="1.6" ry="1.6" fill="#2a40e0" filter="url(#b1)"/>
<ellipse cx="50" cy="48" rx="1.8" ry="1.8" fill="#2a40e0" filter="url(#b1)"/>
</svg>
<svg x="525.20" y="1704.80" width="110.50" height="110.70" viewBox="0 0 110 110" preserveAspectRatio="none" overflow="hidden">
<rect width="110" height="110" fill="#04043a"/>
<ellipse cx="57" cy="57" rx="43" ry="41" fill="#101c66" filter="url(#b2)" opacity="0.9"/>
<ellipse cx="57.5" cy="38" rx="7.5" ry="7.5" fill="#2630fa" filter="url(#b1.5)"/>
<ellipse cx="28.5" cy="53.5" rx="7.5" ry="7.5" fill="#2630fa" filter="url(#b1.5)"/>
<ellipse cx="78.5" cy="57" rx="7.1" ry="7.1" fill="#2630fa" filter="url(#b1.5)"/>
<ellipse cx="45.5" cy="76" rx="8.3" ry="8.3" fill="#2630fa" filter="url(#b1.5)"/>
<ellipse cx="58.5" cy="61.5" rx="2.6" ry="2.6" fill="#3048ff" filter="url(#b1)"/>
</svg>
<svg x="639.00" y="1704.80" width="109.80" height="110.70" viewBox="0 0 110 110" preserveAspectRatio="none" overflow="hidden">
<rect width="110" height="110" fill="#03051a"/>
<ellipse cx="57" cy="57" rx="38" ry="37" fill="#223f22" filter="url(#b2)" opacity="0.9"/>
<ellipse cx="52" cy="32" rx="9" ry="7" fill="#3e7a34" filter="url(#b3)" opacity="0.6"/>
<ellipse cx="68" cy="44" rx="5" ry="5.5" fill="#2a44d0" filter="url(#b1.5)" opacity="0.85"/>
<ellipse cx="33" cy="51" rx="4.5" ry="4.5" fill="#2a50a0" filter="url(#b1.5)" opacity="0.7"/>
<ellipse cx="83" cy="59" rx="5" ry="5" fill="#2a48c0" filter="url(#b1.5)" opacity="0.8"/>
<ellipse cx="58" cy="74" rx="5" ry="5" fill="#2a4ab0" filter="url(#b1.5)" opacity="0.7"/>
<ellipse cx="45" cy="76" rx="5.5" ry="5.5" fill="#3a6a90" filter="url(#b1.5)" opacity="0.6"/>
<ellipse cx="43.5" cy="54" rx="1.3" ry="1.3" fill="#50a0ff" filter="url(#b1)"/>
<ellipse cx="65.5" cy="54" rx="1.6" ry="1.6" fill="#3060ff" filter="url(#b1)"/>
<ellipse cx="86.5" cy="49" rx="1.2" ry="1.2" fill="#90e0a0" filter="url(#b1)"/>
</svg>
<svg x="752.80" y="1704.80" width="109.80" height="110.70" viewBox="0 0 110 110" preserveAspectRatio="none" overflow="hidden">
<rect width="110" height="110" fill="#04031c"/>
<ellipse cx="56.3" cy="56.7" rx="35" ry="35" fill="#1e3a26" filter="url(#b2)" opacity="0.9"/>
<ellipse cx="46" cy="90" rx="8" ry="8" fill="#1a3422" filter="url(#b2)" opacity="0.8"/>
<ellipse cx="42.5" cy="51.8" rx="9" ry="10" fill="#2a38e0" filter="url(#b2.5)" opacity="0.95"/>
<ellipse cx="58.3" cy="66.6" rx="8" ry="7" fill="#2a38d8" filter="url(#b2.5)" opacity="0.95"/>
<ellipse cx="74" cy="66.5" rx="4" ry="4.5" fill="#2a38b0" filter="url(#b2)" opacity="0.6"/>
<circle cx="47" cy="48" r="12" fill="none" stroke="#428a3a" stroke-width="0.8" opacity="0.4"/>
<circle cx="62" cy="66" r="11" fill="none" stroke="#428a3a" stroke-width="0.8" opacity="0.4"/>
<circle cx="56.3" cy="56.7" r="34" fill="none" stroke="#30622c" stroke-width="1.6" opacity="0.3"/>
<ellipse cx="59.7" cy="32.4" rx="2.6" ry="2.6" fill="#90f070" filter="url(#b1)"/>
</svg>
<svg x="866.00" y="1704.80" width="111.40" height="110.70" viewBox="0 0 110 110" preserveAspectRatio="none" overflow="hidden">
<rect width="110" height="110" fill="#060f0c"/>
<ellipse cx="55.9" cy="56" rx="51" ry="44.5" fill="#18301f" filter="url(#b2)" opacity="0.9"/>
<g fill="#2a44ec" filter="url(#b1)"><ellipse cx="37.9" cy="86.7" rx="3.7" ry="2.5" transform="rotate(157 37.9 86.7)"/><ellipse cx="49.2" cy="25.2" rx="2.8" ry="2.6" transform="rotate(82 49.2 25.2)"/><ellipse cx="76.3" cy="34.5" rx="3.5" ry="3.4" transform="rotate(49 76.3 34.5)"/><ellipse cx="53.7" cy="58.0" rx="3.6" ry="2.5" transform="rotate(88 53.7 58.0)"/><ellipse cx="88.2" cy="49.2" rx="3.4" ry="2.8" transform="rotate(174 88.2 49.2)"/><ellipse cx="59.8" cy="73.9" rx="3.3" ry="2.5" transform="rotate(137 59.8 73.9)"/><ellipse cx="49.9" cy="67.7" rx="2.9" ry="2.0" transform="rotate(175 49.9 67.7)"/><ellipse cx="47.0" cy="76.5" rx="2.9" ry="2.4" transform="rotate(146 47.0 76.5)"/><ellipse cx="94.3" cy="56.5" rx="3.0" ry="2.4" transform="rotate(110 94.3 56.5)"/><ellipse cx="74.8" cy="64.4" rx="3.5" ry="2.3" transform="rotate(174 74.8 64.4)"/><ellipse cx="66.8" cy="94.2" rx="2.9" ry="2.4" transform="rotate(110 66.8 94.2)"/><ellipse cx="9.6" cy="48.9" rx="3.5" ry="2.8" transform="rotate(174 9.6 48.9)"/><ellipse cx="52.2" cy="78.3" rx="3.6" ry="2.8" transform="rotate(123 52.2 78.3)"/><ellipse cx="44.6" cy="26.7" rx="3.0" ry="2.6" transform="rotate(165 44.6 26.7)"/><ellipse cx="78.9" cy="70.4" rx="3.5" ry="3.3" transform="rotate(32 78.9 70.4)"/><ellipse cx="88.8" cy="81.6" rx="4.0" ry="3.1" transform="rotate(28 88.8 81.6)"/><ellipse cx="63.3" cy="26.4" rx="3.9" ry="2.9" transform="rotate(41 63.3 26.4)"/><ellipse cx="75.6" cy="42.1" rx="3.3" ry="2.0" transform="rotate(144 75.6 42.1)"/><ellipse cx="80.6" cy="46.2" rx="3.3" ry="2.2" transform="rotate(172 80.6 46.2)"/><ellipse cx="24.0" cy="43.2" rx="4.1" ry="3.4" transform="rotate(10 24.0 43.2)"/><ellipse cx="44.3" cy="40.6" rx="3.6" ry="3.5" transform="rotate(117 44.3 40.6)"/><ellipse cx="93.8" cy="39.9" rx="3.3" ry="2.9" transform="rotate(40 93.8 39.9)"/><ellipse cx="38.4" cy="30.3" rx="2.8" ry="1.7" transform="rotate(26 38.4 30.3)"/><ellipse cx="43.5" cy="51.0" rx="2.8" ry="2.1" transform="rotate(44 43.5 51.0)"/><ellipse cx="82.2" cy="81.6" rx="3.8" ry="2.8" transform="rotate(142 82.2 81.6)"/><ellipse cx="49.9" cy="36.4" rx="2.5" ry="2.3" transform="rotate(63 49.9 36.4)"/><ellipse cx="101.0" cy="38.6" rx="3.0" ry="2.1" transform="rotate(168 101.0 38.6)"/><ellipse cx="70.5" cy="25.7" rx="3.3" ry="2.9" transform="rotate(45 70.5 25.7)"/><ellipse cx="15.6" cy="62.7" rx="2.4" ry="2.2" transform="rotate(37 15.6 62.7)"/><ellipse cx="34.9" cy="43.9" rx="3.2" ry="2.5" transform="rotate(26 34.9 43.9)"/><ellipse cx="66.8" cy="82.2" rx="3.6" ry="2.4" transform="rotate(68 66.8 82.2)"/><ellipse cx="12.0" cy="58.8" rx="3.6" ry="2.6" transform="rotate(46 12.0 58.8)"/><ellipse cx="51.3" cy="46.4" rx="3.0" ry="2.8" transform="rotate(5 51.3 46.4)"/><ellipse cx="11.9" cy="67.1" rx="2.3" ry="1.7" transform="rotate(143 11.9 67.1)"/><ellipse cx="83.8" cy="33.1" rx="2.5" ry="2.3" transform="rotate(35 83.8 33.1)"/><ellipse cx="61.0" cy="96.1" rx="3.6" ry="2.4" transform="rotate(32 61.0 96.1)"/><ellipse cx="89.5" cy="28.4" rx="2.8" ry="1.8" transform="rotate(154 89.5 28.4)"/><ellipse cx="62.9" cy="64.2" rx="2.7" ry="1.9" transform="rotate(66 62.9 64.2)"/><ellipse cx="62.1" cy="53.6" rx="3.2" ry="2.2" transform="rotate(66 62.1 53.6)"/><ellipse cx="57.4" cy="29.2" rx="2.6" ry="1.6" transform="rotate(168 57.4 29.2)"/><ellipse cx="80.4" cy="92.2" rx="2.9" ry="2.6" transform="rotate(18 80.4 92.2)"/><ellipse cx="28.5" cy="63.9" rx="2.4" ry="2.4" transform="rotate(148 28.5 63.9)"/><ellipse cx="31.5" cy="75.0" rx="2.5" ry="2.0" transform="rotate(128 31.5 75.0)"/><ellipse cx="86.3" cy="67.3" rx="2.3" ry="1.9" transform="rotate(135 86.3 67.3)"/><ellipse cx="57.4" cy="49.2" rx="2.1" ry="1.9" transform="rotate(155 57.4 49.2)"/><ellipse cx="19.1" cy="68.6" rx="2.2" ry="1.6" transform="rotate(145 19.1 68.6)"/><ellipse cx="37.5" cy="76.6" rx="3.4" ry="3.0" transform="rotate(110 37.5 76.6)"/><ellipse cx="91.4" cy="32.3" rx="2.5" ry="2.2" transform="rotate(87 91.4 32.3)"/><ellipse cx="15.5" cy="46.9" rx="2.8" ry="2.4" transform="rotate(167 15.5 46.9)"/><ellipse cx="51.2" cy="95.8" rx="2.8" ry="2.0" transform="rotate(178 51.2 95.8)"/><ellipse cx="102.4" cy="62.2" rx="2.4" ry="1.8" transform="rotate(170 102.4 62.2)"/><ellipse cx="30.6" cy="37.8" rx="2.3" ry="1.8" transform="rotate(63 30.6 37.8)"/><ellipse cx="10.8" cy="42.9" rx="3.4" ry="2.5" transform="rotate(174 10.8 42.9)"/><ellipse cx="59.6" cy="44.3" rx="2.6" ry="2.5" transform="rotate(130 59.6 44.3)"/><ellipse cx="74.5" cy="54.2" rx="2.9" ry="2.3" transform="rotate(120 74.5 54.2)"/><ellipse cx="79.3" cy="52.0" rx="2.6" ry="2.3" transform="rotate(118 79.3 52.0)"/><ellipse cx="28.8" cy="70.5" rx="3.1" ry="2.1" transform="rotate(49 28.8 70.5)"/><ellipse cx="63.4" cy="70.3" rx="3.0" ry="2.4" transform="rotate(50 63.4 70.3)"/><ellipse cx="43.2" cy="17.6" rx="3.3" ry="2.4" transform="rotate(61 43.2 17.6)"/><ellipse cx="99.7" cy="69.1" rx="4.0" ry="3.4" transform="rotate(151 99.7 69.1)"/><ellipse cx="102.5" cy="55.5" rx="3.7" ry="2.7" transform="rotate(10 102.5 55.5)"/><ellipse cx="31.5" cy="89.8" rx="3.3" ry="2.8" transform="rotate(5 31.5 89.8)"/><ellipse cx="42.1" cy="22.0" rx="2.2" ry="1.9" transform="rotate(145 42.1 22.0)"/><ellipse cx="68.2" cy="38.2" rx="3.7" ry="2.8" transform="rotate(22 68.2 38.2)"/><ellipse cx="44.9" cy="80.7" rx="2.2" ry="1.4" transform="rotate(47 44.9 80.7)"/><ellipse cx="40.9" cy="94.8" rx="3.5" ry="2.6" transform="rotate(140 40.9 94.8)"/><ellipse cx="34.5" cy="20.6" rx="2.4" ry="1.9" transform="rotate(5 34.5 20.6)"/><ellipse cx="75.9" cy="23.1" rx="3.8" ry="3.5" transform="rotate(41 75.9 23.1)"/><ellipse cx="68.4" cy="61.5" rx="3.6" ry="3.0" transform="rotate(21 68.4 61.5)"/><ellipse cx="93.8" cy="70.8" rx="3.4" ry="3.2" transform="rotate(70 93.8 70.8)"/><ellipse cx="24.1" cy="33.9" rx="3.4" ry="2.2" transform="rotate(5 24.1 33.9)"/><ellipse cx="53.6" cy="31.2" rx="2.3" ry="2.2" transform="rotate(97 53.6 31.2)"/><ellipse cx="97.6" cy="33.4" rx="3.1" ry="2.1" transform="rotate(81 97.6 33.4)"/><ellipse cx="52.2" cy="15.1" rx="3.0" ry="2.9" transform="rotate(78 52.2 15.1)"/><ellipse cx="47.7" cy="57.4" rx="3.4" ry="2.2" transform="rotate(176 47.7 57.4)"/><ellipse cx="23.8" cy="76.8" rx="2.2" ry="1.6" transform="rotate(79 23.8 76.8)"/><ellipse cx="60.6" cy="18.6" rx="3.3" ry="3.0" transform="rotate(56 60.6 18.6)"/><ellipse cx="18.3" cy="33.6" rx="3.4" ry="2.1" transform="rotate(23 18.3 33.6)"/><ellipse cx="61.4" cy="34.8" rx="2.3" ry="2.2" transform="rotate(87 61.4 34.8)"/><ellipse cx="54.6" cy="71.9" rx="2.7" ry="1.8" transform="rotate(134 54.6 71.9)"/><ellipse cx="26.6" cy="25.4" rx="2.5" ry="2.5" transform="rotate(37 26.6 25.4)"/><ellipse cx="50.1" cy="62.1" rx="2.6" ry="2.0" transform="rotate(27 50.1 62.1)"/><ellipse cx="39.1" cy="62.9" rx="4.0" ry="3.6" transform="rotate(58 39.1 62.9)"/><ellipse cx="65.8" cy="88.2" rx="3.1" ry="2.0" transform="rotate(63 65.8 88.2)"/><ellipse cx="20.6" cy="56.7" rx="3.6" ry="3.3" transform="rotate(167 20.6 56.7)"/></g>
<g fill="#4a90e0" filter="url(#b1)" opacity="0.9"><circle cx="66.2" cy="39.4" r="2.8"/><circle cx="74.0" cy="25.9" r="3.4"/><circle cx="65.9" cy="35.2" r="2.7"/><circle cx="54.2" cy="39.5" r="2.4"/><circle cx="69.7" cy="30.3" r="3.2"/><circle cx="60.5" cy="35.1" r="2.7"/><circle cx="60.2" cy="30.6" r="2.8"/><circle cx="77.7" cy="39.7" r="3.0"/><circle cx="65.0" cy="49.2" r="3.2"/><circle cx="84.2" cy="30.7" r="2.6"/></g>
</svg>
<svg x="980.40" y="1704.80" width="110.70" height="110.70" viewBox="0 0 110 110" preserveAspectRatio="none" overflow="hidden">
<rect width="110" height="110" fill="#070a34"/>
<ellipse cx="55.9" cy="57" rx="51" ry="50" fill="#0e2238" filter="url(#b2)" opacity="0.9"/>
<g fill="#3a6ae0" filter="url(#b1)" opacity="0.95"><circle cx="89.6" cy="83.9" r="1.4"/><circle cx="48.4" cy="79.1" r="2.5"/><circle cx="40.8" cy="55.5" r="2.2"/><circle cx="66.5" cy="49.2" r="2.2"/><circle cx="40.5" cy="11.6" r="2.6"/><circle cx="62.0" cy="56.5" r="1.5"/><circle cx="32.4" cy="28.2" r="2.3"/><circle cx="81.8" cy="40.7" r="2.4"/><circle cx="71.3" cy="22.2" r="1.8"/><circle cx="73.2" cy="31.2" r="2.5"/><circle cx="47.4" cy="32.1" r="2.1"/><circle cx="99.9" cy="46.4" r="2.2"/><circle cx="44.6" cy="63.9" r="1.7"/><circle cx="43.2" cy="30.8" r="2.5"/><circle cx="36.3" cy="97.3" r="2.3"/><circle cx="97.7" cy="76.4" r="1.7"/><circle cx="55.1" cy="14.9" r="1.8"/><circle cx="60.5" cy="37.4" r="1.9"/><circle cx="17.6" cy="47.7" r="2.1"/><circle cx="38.4" cy="64.8" r="2.3"/><circle cx="37.3" cy="59.6" r="2.3"/><circle cx="63.6" cy="74.3" r="2.3"/><circle cx="53.6" cy="92.7" r="1.7"/><circle cx="72.4" cy="74.4" r="1.5"/><circle cx="45.7" cy="102.4" r="1.4"/><circle cx="13.1" cy="35.5" r="2.6"/><circle cx="12.8" cy="61.5" r="1.4"/><circle cx="36.6" cy="69.7" r="1.5"/><circle cx="61.8" cy="23.3" r="2.1"/><circle cx="83.9" cy="79.8" r="2.1"/><circle cx="66.1" cy="28.2" r="2.3"/><circle cx="41.2" cy="67.0" r="1.7"/><circle cx="62.7" cy="84.2" r="1.7"/><circle cx="29.2" cy="33.6" r="2.0"/><circle cx="67.8" cy="77.2" r="2.1"/><circle cx="60.3" cy="44.2" r="2.6"/><circle cx="10.3" cy="46.3" r="2.4"/><circle cx="68.6" cy="63.6" r="2.3"/><circle cx="39.9" cy="16.0" r="2.4"/><circle cx="71.0" cy="15.6" r="2.1"/><circle cx="69.8" cy="45.7" r="2.4"/><circle cx="71.0" cy="26.3" r="2.3"/><circle cx="82.8" cy="46.6" r="2.3"/><circle cx="82.0" cy="64.0" r="1.5"/><circle cx="76.2" cy="41.1" r="2.1"/><circle cx="12.4" cy="40.7" r="1.6"/><circle cx="23.6" cy="41.1" r="1.7"/><circle cx="64.3" cy="79.6" r="2.0"/><circle cx="31.9" cy="17.4" r="2.4"/><circle cx="21.1" cy="56.0" r="1.5"/><circle cx="76.0" cy="94.5" r="1.8"/><circle cx="70.5" cy="59.3" r="1.4"/><circle cx="71.1" cy="85.2" r="1.8"/><circle cx="28.6" cy="48.1" r="2.3"/><circle cx="40.8" cy="26.1" r="1.6"/><circle cx="32.5" cy="82.2" r="1.9"/><circle cx="16.8" cy="57.4" r="1.9"/><circle cx="66.3" cy="100.6" r="2.7"/><circle cx="80.4" cy="32.7" r="2.3"/><circle cx="28.5" cy="94.5" r="2.1"/><circle cx="62.5" cy="49.1" r="1.6"/><circle cx="48.8" cy="27.0" r="2.3"/><circle cx="12.2" cy="71.0" r="2.7"/><circle cx="79.1" cy="97.2" r="1.8"/><circle cx="58.7" cy="52.7" r="1.8"/><circle cx="94.6" cy="50.0" r="2.0"/><circle cx="41.1" cy="62.0" r="2.3"/><circle cx="27.8" cy="27.7" r="1.5"/><circle cx="39.5" cy="81.6" r="2.2"/><circle cx="86.5" cy="67.8" r="2.0"/><circle cx="81.4" cy="69.7" r="1.7"/><circle cx="15.4" cy="52.2" r="1.7"/><circle cx="63.8" cy="12.3" r="2.6"/><circle cx="57.8" cy="71.1" r="2.0"/><circle cx="67.2" cy="21.7" r="2.7"/><circle cx="23.9" cy="32.8" r="1.4"/><circle cx="47.6" cy="15.4" r="2.3"/><circle cx="58.3" cy="60.7" r="2.4"/><circle cx="82.3" cy="17.7" r="2.5"/><circle cx="89.4" cy="88.1" r="2.0"/><circle cx="83.5" cy="96.3" r="1.8"/><circle cx="94.8" cy="81.8" r="2.1"/><circle cx="8.0" cy="63.3" r="1.5"/><circle cx="97.8" cy="43.4" r="1.6"/><circle cx="92.1" cy="25.1" r="2.1"/><circle cx="94.7" cy="61.2" r="1.9"/><circle cx="34.9" cy="42.5" r="2.6"/><circle cx="51.4" cy="32.0" r="2.2"/><circle cx="88.1" cy="57.7" r="1.5"/><circle cx="36.4" cy="45.9" r="1.5"/><circle cx="103.4" cy="48.4" r="2.4"/><circle cx="31.3" cy="59.3" r="1.6"/><circle cx="65.6" cy="92.3" r="1.6"/><circle cx="89.6" cy="38.3" r="2.3"/><circle cx="98.5" cy="39.9" r="1.6"/><circle cx="98.9" cy="32.9" r="2.0"/><circle cx="69.1" cy="42.2" r="1.7"/><circle cx="51.3" cy="96.9" r="1.4"/><circle cx="36.0" cy="51.6" r="2.6"/><circle cx="39.7" cy="37.3" r="1.7"/><circle cx="35.0" cy="93.2" r="1.6"/><circle cx="22.7" cy="36.8" r="2.3"/><circle cx="23.8" cy="53.1" r="2.7"/><circle cx="88.9" cy="31.7" r="1.9"/><circle cx="88.6" cy="52.3" r="1.8"/><circle cx="54.2" cy="21.3" r="2.0"/><circle cx="98.1" cy="65.0" r="1.4"/><circle cx="88.2" cy="92.2" r="1.7"/><circle cx="94.9" cy="39.7" r="2.6"/><circle cx="16.2" cy="41.5" r="2.3"/><circle cx="65.0" cy="42.6" r="1.5"/><circle cx="16.3" cy="29.8" r="1.5"/><circle cx="92.9" cy="89.7" r="1.6"/><circle cx="53.7" cy="70.8" r="1.7"/><circle cx="12.4" cy="56.5" r="2.0"/><circle cx="48.9" cy="40.1" r="1.5"/><circle cx="66.9" cy="14.9" r="1.8"/><circle cx="76.3" cy="34.8" r="1.5"/><circle cx="73.3" cy="78.9" r="1.9"/><circle cx="50.6" cy="19.1" r="2.4"/></g>
<g fill="#60b0d0" filter="url(#b1)" opacity="0.9"><circle cx="52.2" cy="78.8" r="2.3"/><circle cx="47.7" cy="32.3" r="2.2"/><circle cx="92.4" cy="31.9" r="2.0"/><circle cx="93.8" cy="38.7" r="2.0"/><circle cx="88.7" cy="58.6" r="1.7"/><circle cx="48.4" cy="66.1" r="2.0"/><circle cx="78.5" cy="90.1" r="1.5"/><circle cx="68.0" cy="54.1" r="2.2"/><circle cx="36.8" cy="97.3" r="2.2"/><circle cx="45.6" cy="50.2" r="1.7"/><circle cx="95.6" cy="64.4" r="2.2"/><circle cx="66.6" cy="32.6" r="1.9"/><circle cx="19.0" cy="47.2" r="2.1"/><circle cx="33.4" cy="88.7" r="2.1"/><circle cx="53.9" cy="42.1" r="2.0"/><circle cx="58.8" cy="36.8" r="2.1"/><circle cx="46.3" cy="85.8" r="2.0"/><circle cx="70.3" cy="42.5" r="2.2"/><circle cx="48.0" cy="42.6" r="2.1"/><circle cx="35.5" cy="36.9" r="2.0"/><circle cx="37.4" cy="28.7" r="1.7"/><circle cx="40.8" cy="86.8" r="2.3"/><circle cx="38.4" cy="38.9" r="1.4"/><circle cx="92.1" cy="61.2" r="2.3"/><circle cx="17.1" cy="63.5" r="2.4"/></g>
<g fill="#80f0c0" filter="url(#b1)"><ellipse cx="98" cy="55.7" rx="3.2" ry="1.2" transform="rotate(-60 98 55.7)"/><ellipse cx="55" cy="60.3" rx="3" ry="2.2" transform="rotate(0 55 60.3)"/><ellipse cx="49" cy="77" rx="2.2" ry="1.6" transform="rotate(30 49 77)"/><ellipse cx="81.6" cy="82" rx="2.6" ry="2" transform="rotate(0 81.6 82)"/><ellipse cx="83.6" cy="10.3" rx="2.4" ry="1.3" transform="rotate(-20 83.6 10.3)"/></g>
<rect x="96.8" y="103" width="8" height="2.4" fill="#f4f4f4"/>
</svg>
</g>
<g id="chartD">
<rect x="1262.75" y="1553.65" width="21.40" height="186.45" fill="#73a0f5" stroke="#0000ff" stroke-width="2.9"/>
<rect x="1271.55" y="1548.40" width="3.8" height="4.80" fill="#0000ff"/>
<rect x="1267.70" y="1548.40" width="11.5" height="3.6" fill="#0000ff"/>
<rect x="1298.85" y="1652.95" width="21.40" height="87.15" fill="#e58080" stroke="#dc0000" stroke-width="2.9"/>
<rect x="1307.65" y="1648.80" width="3.8" height="3.70" fill="#dc0000"/>
<rect x="1303.80" y="1648.80" width="11.5" height="3.6" fill="#dc0000"/>
<rect x="1358.85" y="1569.65" width="21.40" height="170.45" fill="#73a0f5" stroke="#0000ff" stroke-width="2.9"/>
<rect x="1367.65" y="1559.10" width="3.8" height="10.10" fill="#0000ff"/>
<rect x="1363.80" y="1559.10" width="11.5" height="3.6" fill="#0000ff"/>
<rect x="1395.15" y="1604.45" width="21.40" height="135.65" fill="#e58080" stroke="#dc0000" stroke-width="2.9"/>
<rect x="1403.95" y="1597.70" width="3.8" height="6.30" fill="#dc0000"/>
<rect x="1400.10" y="1597.70" width="11.5" height="3.6" fill="#dc0000"/>
<rect x="1455.45" y="1655.45" width="21.40" height="84.65" fill="#73a0f5" stroke="#0000ff" stroke-width="2.9"/>
<rect x="1464.25" y="1642.50" width="3.8" height="12.50" fill="#0000ff"/>
<rect x="1460.40" y="1642.50" width="11.5" height="3.6" fill="#0000ff"/>
<rect x="1491.45" y="1680.45" width="21.40" height="59.65" fill="#e58080" stroke="#dc0000" stroke-width="2.9"/>
<rect x="1500.25" y="1671.00" width="3.8" height="9.00" fill="#dc0000"/>
<rect x="1496.40" y="1671.00" width="11.5" height="3.6" fill="#dc0000"/>
<rect x="1551.65" y="1549.75" width="21.40" height="190.35" fill="#73a0f5" stroke="#0000ff" stroke-width="2.9"/>
<rect x="1560.45" y="1538.50" width="3.8" height="10.80" fill="#0000ff"/>
<rect x="1556.60" y="1538.50" width="11.5" height="3.6" fill="#0000ff"/>
<rect x="1587.75" y="1516.45" width="21.40" height="223.65" fill="#e58080" stroke="#dc0000" stroke-width="2.9"/>
<rect x="1596.55" y="1495.00" width="3.8" height="21.00" fill="#dc0000"/>
<rect x="1592.70" y="1495.00" width="11.5" height="3.6" fill="#dc0000"/>
<rect x="1241.7" y="1447.4" width="3" height="295.00" fill="#000"/>
<rect x="1241.7" y="1739.4" width="388.50" height="3" fill="#000"/>
<rect x="1234.4" y="1447.40" width="9.5" height="3" fill="#000"/>
<text x="1230.7" y="1456.80" class="sans" font-weight="bold" font-size="22" text-anchor="end">80</text>
<rect x="1234.4" y="1520.20" width="9.5" height="3" fill="#000"/>
<text x="1230.7" y="1529.60" class="sans" font-weight="bold" font-size="22" text-anchor="end">60</text>
<rect x="1234.4" y="1593.40" width="9.5" height="3" fill="#000"/>
<text x="1230.7" y="1602.80" class="sans" font-weight="bold" font-size="22" text-anchor="end">40</text>
<rect x="1234.4" y="1666.70" width="9.5" height="3" fill="#000"/>
<text x="1230.7" y="1676.10" class="sans" font-weight="bold" font-size="22" text-anchor="end">20</text>
<rect x="1234.4" y="1739.40" width="9.5" height="3" fill="#000"/>
<text x="1230.7" y="1748.80" class="sans" font-weight="bold" font-size="22" text-anchor="end">0</text>
<rect x="1289.70" y="1740.90" width="3" height="9" fill="#000"/>
<rect x="1385.70" y="1740.90" width="3" height="9" fill="#000"/>
<rect x="1482.50" y="1740.90" width="3" height="9" fill="#000"/>
<rect x="1578.50" y="1740.90" width="3" height="9" fill="#000"/>
<text transform="translate(1297.80,1771.00) rotate(-45)" class="sans" font-weight="bold" font-size="22.6" letter-spacing="0" text-anchor="end">2-cell</text>
<text transform="translate(1393.80,1771.00) rotate(-45)" class="sans" font-weight="bold" font-size="22.6" letter-spacing="0" text-anchor="end">4-cell</text>
<text transform="translate(1490.60,1771.00) rotate(-45)" class="sans" font-weight="bold" font-size="22.6" letter-spacing="0" text-anchor="end">8-cell</text>
<text transform="translate(1586.60,1771.00) rotate(-45)" class="sans" font-weight="bold" font-size="22.6" letter-spacing="0" text-anchor="end">blastocyst</text>
<line x1="1270.80" y1="1538.30" x2="1308.80" y2="1538.30" stroke="#000" stroke-width="3.0" stroke-linecap="butt"/>
<text x="1285.30" y="1533.70" class="sans" font-size="26.7" text-anchor="middle" dominant-baseline="auto">**</text>
<line x1="1367.40" y1="1540.80" x2="1405.00" y2="1540.80" stroke="#000" stroke-width="3.0" stroke-linecap="butt"/>
<text x="1386.00" y="1537.10" class="sans" font-size="26.7" text-anchor="middle" dominant-baseline="auto">***</text>
<text x="1279.0" y="1562.2" class="sans" font-size="20" text-anchor="middle">*</text>
<text transform="translate(1192.20,1594.50) rotate(-90)" class="sans" font-weight="bold" font-size="24.0" letter-spacing="0" text-anchor="middle">Normalized total fluorescence</text>
<text x="1435.6" y="1412.9" class="sans" font-weight="bold" font-size="28.7" text-anchor="middle">H3K4me2</text>
<rect x="1632.4" y="1428.6" width="28.2" height="13.4" fill="#73a0f5" stroke="#0000ff" stroke-width="2.9"/>
<rect x="1632.4" y="1462.3" width="28.2" height="13.4" fill="#e58080" stroke="#dc0000" stroke-width="2.9"/>
<text x="1679.5" y="1443.6" class="sans" font-size="24" textLength="77.5" lengthAdjust="spacingAndGlyphs">Control</text>
<text x="1679.5" y="1477.2" class="sans" font-size="24" textLength="73" lengthAdjust="spacingAndGlyphs">SiLncT</text>
</g>
</svg></body></html>
